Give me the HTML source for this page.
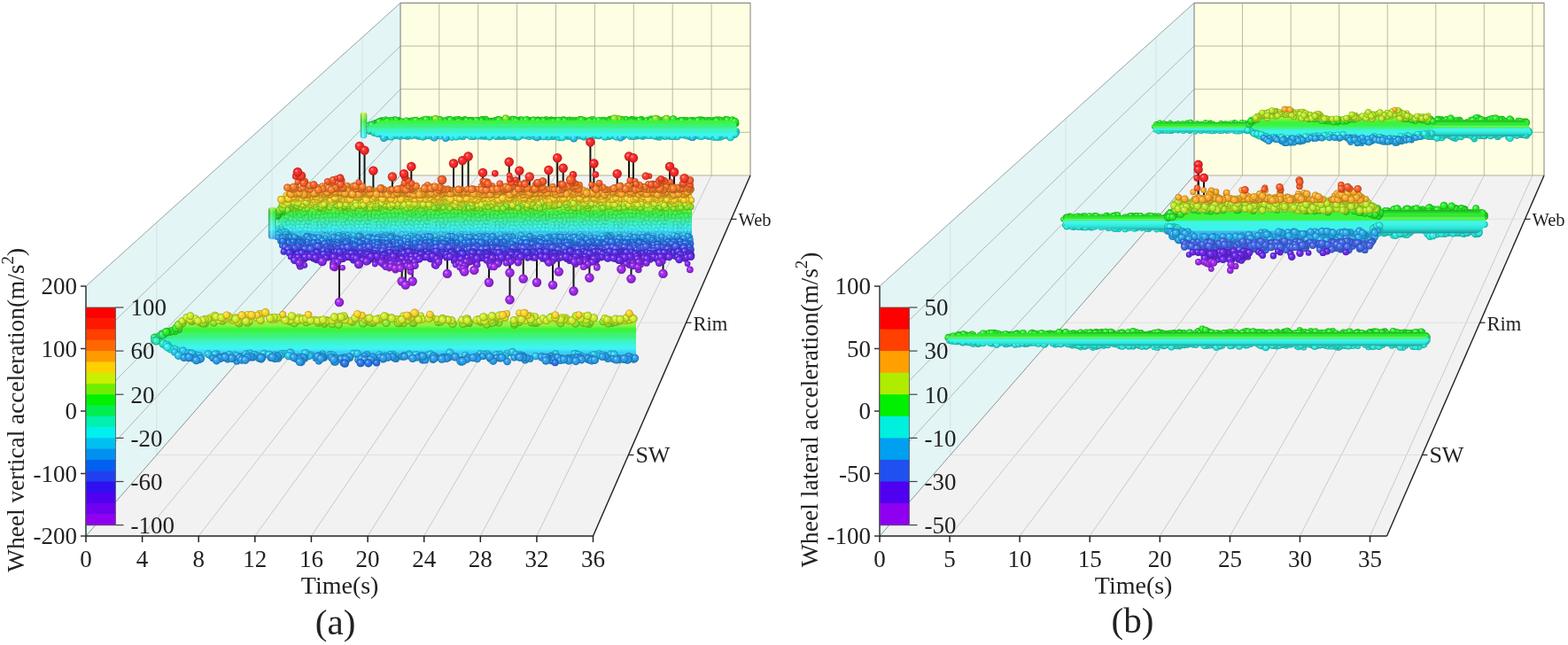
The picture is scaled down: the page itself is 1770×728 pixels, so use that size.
<!DOCTYPE html>
<html><head><meta charset="utf-8"><title>Wheel acceleration 3D plots</title>
<style>html,body{margin:0;padding:0;background:#fff;width:1770px;height:728px;overflow:hidden}svg{display:block}</style>
</head><body>
<svg width="1770" height="728" viewBox="0 0 1770 728" font-family="'Liberation Serif','Times New Roman',serif" fill="#222"><defs><radialGradient id="sh" cx="0.5" cy="0.5" r="0.5" fx="0.33" fy="0.33"><stop offset="0" stop-color="#fff" stop-opacity="0.65"/><stop offset="0.3" stop-color="#fff" stop-opacity="0.12"/><stop offset="0.6" stop-color="#000" stop-opacity="0"/><stop offset="1" stop-color="#000" stop-opacity="0.33"/></radialGradient><linearGradient id="cylT" x1="0" y1="0" x2="0" y2="1"><stop offset="0" stop-color="#000" stop-opacity="0.3"/><stop offset="0.4" stop-color="#000" stop-opacity="0"/><stop offset="0.75" stop-color="#fff" stop-opacity="0.25"/><stop offset="1" stop-color="#fff" stop-opacity="0.1"/></linearGradient><linearGradient id="cylB" x1="0" y1="0" x2="0" y2="1"><stop offset="0" stop-color="#fff" stop-opacity="0.12"/><stop offset="0.3" stop-color="#fff" stop-opacity="0.08"/><stop offset="0.65" stop-color="#000" stop-opacity="0.08"/><stop offset="1" stop-color="#000" stop-opacity="0.38"/></linearGradient><linearGradient id="cyl" x1="0" y1="0" x2="1" y2="0"><stop offset="0" stop-color="#000" stop-opacity="0.3"/><stop offset="0.35" stop-color="#fff" stop-opacity="0.3"/><stop offset="0.6" stop-color="#fff" stop-opacity="0"/><stop offset="1" stop-color="#000" stop-opacity="0.35"/></linearGradient><linearGradient id="g0" gradientUnits="userSpaceOnUse" x1="0" y1="93.4" x2="0" y2="196.0"><stop offset="0.0150" stop-color="#ff3d3d"/><stop offset="0.0350" stop-color="#ff3d3d"/><stop offset="0.0650" stop-color="#ff4f3d"/><stop offset="0.0850" stop-color="#ff4f3d"/><stop offset="0.1150" stop-color="#ff6e3d"/><stop offset="0.1350" stop-color="#ff6e3d"/><stop offset="0.1650" stop-color="#ff8c3d"/><stop offset="0.1850" stop-color="#ff8c3d"/><stop offset="0.2150" stop-color="#ffb23d"/><stop offset="0.2350" stop-color="#ffb23d"/><stop offset="0.2650" stop-color="#ffdb3d"/><stop offset="0.2850" stop-color="#ffdb3d"/><stop offset="0.3150" stop-color="#d5f43d"/><stop offset="0.3350" stop-color="#d5f43d"/><stop offset="0.3650" stop-color="#92f23d"/><stop offset="0.3850" stop-color="#92f23d"/><stop offset="0.4150" stop-color="#3df43d"/><stop offset="0.4350" stop-color="#3df43d"/><stop offset="0.4650" stop-color="#3df27a"/><stop offset="0.4850" stop-color="#3df27a"/><stop offset="0.5150" stop-color="#3df4c3"/><stop offset="0.5350" stop-color="#3df4c3"/><stop offset="0.5650" stop-color="#3df4f4"/><stop offset="0.5850" stop-color="#3df4f4"/><stop offset="0.6150" stop-color="#3dcff4"/><stop offset="0.6350" stop-color="#3dcff4"/><stop offset="0.6650" stop-color="#3dabf4"/><stop offset="0.6850" stop-color="#3dabf4"/><stop offset="0.7150" stop-color="#3d86f4"/><stop offset="0.7350" stop-color="#3d86f4"/><stop offset="0.7650" stop-color="#566ef4"/><stop offset="0.7850" stop-color="#566ef4"/><stop offset="0.8150" stop-color="#6249f4"/><stop offset="0.8350" stop-color="#6249f4"/><stop offset="0.8650" stop-color="#7a3df4"/><stop offset="0.8850" stop-color="#7a3df4"/><stop offset="0.9150" stop-color="#923df4"/><stop offset="0.9350" stop-color="#923df4"/><stop offset="0.9650" stop-color="#ab3df4"/><stop offset="0.9850" stop-color="#ab3df4"/></linearGradient><marker id="m0" markerUnits="userSpaceOnUse" overflow="visible" refX="0" refY="0" markerWidth="1" markerHeight="1"><circle r="3.9" fill="#29f16c"/><circle r="3.9" fill="url(#sh)"/></marker><marker id="m1" markerUnits="userSpaceOnUse" overflow="visible" refX="0" refY="0" markerWidth="1" markerHeight="1"><circle r="4.3" fill="#29f16c"/><circle r="4.3" fill="url(#sh)"/></marker><marker id="m2" markerUnits="userSpaceOnUse" overflow="visible" refX="0" refY="0" markerWidth="1" markerHeight="1"><circle r="3.9" fill="#29f2bd"/><circle r="3.9" fill="url(#sh)"/></marker><marker id="m3" markerUnits="userSpaceOnUse" overflow="visible" refX="0" refY="0" markerWidth="1" markerHeight="1"><circle r="4.3" fill="#29f2bd"/><circle r="4.3" fill="url(#sh)"/></marker><marker id="m4" markerUnits="userSpaceOnUse" overflow="visible" refX="0" refY="0" markerWidth="1" markerHeight="1"><circle r="3.9" fill="#29f229"/><circle r="3.9" fill="url(#sh)"/></marker><marker id="m5" markerUnits="userSpaceOnUse" overflow="visible" refX="0" refY="0" markerWidth="1" markerHeight="1"><circle r="4.3" fill="#29f229"/><circle r="4.3" fill="url(#sh)"/></marker><marker id="m6" markerUnits="userSpaceOnUse" overflow="visible" refX="0" refY="0" markerWidth="1" markerHeight="1"><circle r="3.9" fill="#29f2f2"/><circle r="3.9" fill="url(#sh)"/></marker><marker id="m7" markerUnits="userSpaceOnUse" overflow="visible" refX="0" refY="0" markerWidth="1" markerHeight="1"><circle r="4.3" fill="#29f2f2"/><circle r="4.3" fill="url(#sh)"/></marker><marker id="m8" markerUnits="userSpaceOnUse" overflow="visible" refX="0" refY="0" markerWidth="1" markerHeight="1"><circle r="3.9" fill="#87f129"/><circle r="3.9" fill="url(#sh)"/></marker><marker id="m9" markerUnits="userSpaceOnUse" overflow="visible" refX="0" refY="0" markerWidth="1" markerHeight="1"><circle r="4.3" fill="#87f129"/><circle r="4.3" fill="url(#sh)"/></marker><marker id="m10" markerUnits="userSpaceOnUse" overflow="visible" refX="0" refY="0" markerWidth="1" markerHeight="1"><circle r="3.9" fill="#29caf2"/><circle r="3.9" fill="url(#sh)"/></marker><marker id="m11" markerUnits="userSpaceOnUse" overflow="visible" refX="0" refY="0" markerWidth="1" markerHeight="1"><circle r="4.3" fill="#29caf2"/><circle r="4.3" fill="url(#sh)"/></marker><linearGradient id="g1" gradientUnits="userSpaceOnUse" x1="0" y1="191.4" x2="0" y2="306.6"><stop offset="0.0150" stop-color="#ff3d3d"/><stop offset="0.0350" stop-color="#ff3d3d"/><stop offset="0.0650" stop-color="#ff4f3d"/><stop offset="0.0850" stop-color="#ff4f3d"/><stop offset="0.1150" stop-color="#ff6e3d"/><stop offset="0.1350" stop-color="#ff6e3d"/><stop offset="0.1650" stop-color="#ff8c3d"/><stop offset="0.1850" stop-color="#ff8c3d"/><stop offset="0.2150" stop-color="#ffb23d"/><stop offset="0.2350" stop-color="#ffb23d"/><stop offset="0.2650" stop-color="#ffdb3d"/><stop offset="0.2850" stop-color="#ffdb3d"/><stop offset="0.3150" stop-color="#d5f43d"/><stop offset="0.3350" stop-color="#d5f43d"/><stop offset="0.3650" stop-color="#92f23d"/><stop offset="0.3850" stop-color="#92f23d"/><stop offset="0.4150" stop-color="#3df43d"/><stop offset="0.4350" stop-color="#3df43d"/><stop offset="0.4650" stop-color="#3df27a"/><stop offset="0.4850" stop-color="#3df27a"/><stop offset="0.5150" stop-color="#3df4c3"/><stop offset="0.5350" stop-color="#3df4c3"/><stop offset="0.5650" stop-color="#3df4f4"/><stop offset="0.5850" stop-color="#3df4f4"/><stop offset="0.6150" stop-color="#3dcff4"/><stop offset="0.6350" stop-color="#3dcff4"/><stop offset="0.6650" stop-color="#3dabf4"/><stop offset="0.6850" stop-color="#3dabf4"/><stop offset="0.7150" stop-color="#3d86f4"/><stop offset="0.7350" stop-color="#3d86f4"/><stop offset="0.7650" stop-color="#566ef4"/><stop offset="0.7850" stop-color="#566ef4"/><stop offset="0.8150" stop-color="#6249f4"/><stop offset="0.8350" stop-color="#6249f4"/><stop offset="0.8650" stop-color="#7a3df4"/><stop offset="0.8850" stop-color="#7a3df4"/><stop offset="0.9150" stop-color="#923df4"/><stop offset="0.9350" stop-color="#923df4"/><stop offset="0.9650" stop-color="#ab3df4"/><stop offset="0.9850" stop-color="#ab3df4"/></linearGradient><pattern id="tx0" width="67" height="50" patternUnits="userSpaceOnUse"><g fill="url(#sh)"><circle cx="1.9" cy="1.1" r="2.8"/><circle cx="1.9" cy="51.1" r="2.8"/><circle cx="68.9" cy="1.1" r="2.8"/><circle cx="68.9" cy="51.1" r="2.8"/><circle cx="1.1" cy="5.4" r="2.8"/><circle cx="68.1" cy="5.4" r="2.8"/><circle cx="3.2" cy="9.6" r="2.8"/><circle cx="1.8" cy="15.2" r="2.8"/><circle cx="68.8" cy="15.2" r="2.8"/><circle cx="2.4" cy="20.2" r="2.8"/><circle cx="69.4" cy="20.2" r="2.8"/><circle cx="2.2" cy="22.7" r="2.8"/><circle cx="69.2" cy="22.7" r="2.8"/><circle cx="2.6" cy="26.1" r="2.8"/><circle cx="69.6" cy="26.1" r="2.8"/><circle cx="3.7" cy="30.8" r="2.8"/><circle cx="1.8" cy="36.0" r="2.8"/><circle cx="68.8" cy="36.0" r="2.8"/><circle cx="1.0" cy="40.1" r="2.8"/><circle cx="68.0" cy="40.1" r="2.8"/><circle cx="3.5" cy="43.2" r="2.8"/><circle cx="3.8" cy="-2.0" r="2.8"/><circle cx="3.8" cy="48.0" r="2.8"/><circle cx="7.7" cy="2.0" r="2.8"/><circle cx="7.7" cy="52.0" r="2.8"/><circle cx="6.4" cy="5.5" r="2.8"/><circle cx="4.9" cy="9.4" r="2.8"/><circle cx="8.4" cy="14.7" r="2.8"/><circle cx="6.6" cy="20.1" r="2.8"/><circle cx="7.1" cy="24.5" r="2.8"/><circle cx="6.2" cy="26.1" r="2.8"/><circle cx="8.2" cy="30.1" r="2.8"/><circle cx="7.7" cy="35.7" r="2.8"/><circle cx="8.4" cy="41.1" r="2.8"/><circle cx="7.3" cy="42.2" r="2.8"/><circle cx="5.0" cy="-2.2" r="2.8"/><circle cx="5.0" cy="47.8" r="2.8"/><circle cx="12.3" cy="0.7" r="2.8"/><circle cx="12.3" cy="50.7" r="2.8"/><circle cx="10.9" cy="4.9" r="2.8"/><circle cx="10.5" cy="8.8" r="2.8"/><circle cx="10.6" cy="14.7" r="2.8"/><circle cx="10.1" cy="19.7" r="2.8"/><circle cx="9.6" cy="22.0" r="2.8"/><circle cx="10.3" cy="26.8" r="2.8"/><circle cx="12.1" cy="30.8" r="2.8"/><circle cx="11.9" cy="36.8" r="2.8"/><circle cx="9.8" cy="40.8" r="2.8"/><circle cx="11.5" cy="44.6" r="2.8"/><circle cx="11.6" cy="-2.4" r="2.8"/><circle cx="11.6" cy="47.6" r="2.8"/><circle cx="14.2" cy="0.9" r="2.8"/><circle cx="14.2" cy="50.9" r="2.8"/><circle cx="14.5" cy="5.2" r="2.8"/><circle cx="14.4" cy="9.4" r="2.8"/><circle cx="15.9" cy="15.5" r="2.8"/><circle cx="16.7" cy="19.9" r="2.8"/><circle cx="14.3" cy="24.0" r="2.8"/><circle cx="14.5" cy="25.7" r="2.8"/><circle cx="14.9" cy="31.5" r="2.8"/><circle cx="14.0" cy="34.5" r="2.8"/><circle cx="15.3" cy="40.7" r="2.8"/><circle cx="15.3" cy="43.5" r="2.8"/><circle cx="15.2" cy="46.6" r="2.8"/><circle cx="21.5" cy="3.5" r="2.8"/><circle cx="20.9" cy="5.9" r="2.8"/><circle cx="19.9" cy="9.8" r="2.8"/><circle cx="20.7" cy="15.1" r="2.8"/><circle cx="19.4" cy="20.0" r="2.8"/><circle cx="20.9" cy="22.0" r="2.8"/><circle cx="21.2" cy="27.7" r="2.8"/><circle cx="19.2" cy="30.6" r="2.8"/><circle cx="21.0" cy="34.0" r="2.8"/><circle cx="19.9" cy="41.1" r="2.8"/><circle cx="19.2" cy="43.8" r="2.8"/><circle cx="21.6" cy="-0.8" r="2.8"/><circle cx="21.6" cy="49.2" r="2.8"/><circle cx="25.6" cy="2.2" r="2.8"/><circle cx="25.6" cy="52.2" r="2.8"/><circle cx="26.1" cy="5.4" r="2.8"/><circle cx="25.9" cy="10.1" r="2.8"/><circle cx="25.1" cy="15.0" r="2.8"/><circle cx="23.8" cy="19.3" r="2.8"/><circle cx="24.9" cy="24.5" r="2.8"/><circle cx="25.2" cy="26.9" r="2.8"/><circle cx="24.1" cy="32.5" r="2.8"/><circle cx="24.0" cy="36.0" r="2.8"/><circle cx="25.3" cy="41.1" r="2.8"/><circle cx="23.5" cy="44.3" r="2.8"/><circle cx="23.4" cy="-1.6" r="2.8"/><circle cx="23.4" cy="48.4" r="2.8"/><circle cx="29.6" cy="2.9" r="2.8"/><circle cx="30.3" cy="5.4" r="2.8"/><circle cx="30.3" cy="9.9" r="2.8"/><circle cx="28.7" cy="13.3" r="2.8"/><circle cx="29.1" cy="17.1" r="2.8"/><circle cx="28.4" cy="23.5" r="2.8"/><circle cx="29.9" cy="26.0" r="2.8"/><circle cx="30.1" cy="31.1" r="2.8"/><circle cx="28.0" cy="36.2" r="2.8"/><circle cx="29.9" cy="39.5" r="2.8"/><circle cx="29.1" cy="44.1" r="2.8"/><circle cx="29.5" cy="-1.2" r="2.8"/><circle cx="29.5" cy="48.8" r="2.8"/><circle cx="34.5" cy="1.1" r="2.8"/><circle cx="34.5" cy="51.1" r="2.8"/><circle cx="31.8" cy="4.9" r="2.8"/><circle cx="32.8" cy="10.7" r="2.8"/><circle cx="35.1" cy="14.3" r="2.8"/><circle cx="33.0" cy="18.9" r="2.8"/><circle cx="35.1" cy="23.2" r="2.8"/><circle cx="32.8" cy="27.9" r="2.8"/><circle cx="35.3" cy="32.2" r="2.8"/><circle cx="33.1" cy="34.3" r="2.8"/><circle cx="33.4" cy="38.3" r="2.8"/><circle cx="32.2" cy="43.6" r="2.8"/><circle cx="34.8" cy="-1.4" r="2.8"/><circle cx="34.8" cy="48.6" r="2.8"/><circle cx="37.7" cy="3.6" r="2.8"/><circle cx="36.8" cy="5.4" r="2.8"/><circle cx="37.2" cy="10.7" r="2.8"/><circle cx="39.4" cy="14.2" r="2.8"/><circle cx="39.1" cy="20.2" r="2.8"/><circle cx="37.9" cy="24.2" r="2.8"/><circle cx="39.4" cy="27.0" r="2.8"/><circle cx="36.8" cy="29.8" r="2.8"/><circle cx="37.0" cy="35.3" r="2.8"/><circle cx="36.2" cy="39.0" r="2.8"/><circle cx="37.9" cy="43.2" r="2.8"/><circle cx="38.8" cy="-1.9" r="2.8"/><circle cx="38.8" cy="48.1" r="2.8"/><circle cx="42.6" cy="2.5" r="2.8"/><circle cx="42.6" cy="52.5" r="2.8"/><circle cx="42.7" cy="6.0" r="2.8"/><circle cx="41.2" cy="10.7" r="2.8"/><circle cx="40.8" cy="13.0" r="2.8"/><circle cx="41.9" cy="17.8" r="2.8"/><circle cx="43.3" cy="21.8" r="2.8"/><circle cx="42.2" cy="27.7" r="2.8"/><circle cx="42.1" cy="32.3" r="2.8"/><circle cx="41.1" cy="34.3" r="2.8"/><circle cx="41.6" cy="39.1" r="2.8"/><circle cx="42.6" cy="42.7" r="2.8"/><circle cx="42.6" cy="-1.4" r="2.8"/><circle cx="42.6" cy="48.6" r="2.8"/><circle cx="47.4" cy="3.1" r="2.8"/><circle cx="45.4" cy="6.8" r="2.8"/><circle cx="47.7" cy="11.5" r="2.8"/><circle cx="45.7" cy="13.2" r="2.8"/><circle cx="47.8" cy="19.2" r="2.8"/><circle cx="45.7" cy="24.2" r="2.8"/><circle cx="47.7" cy="27.5" r="2.8"/><circle cx="47.8" cy="31.6" r="2.8"/><circle cx="46.3" cy="33.9" r="2.8"/><circle cx="46.3" cy="40.0" r="2.8"/><circle cx="45.8" cy="42.7" r="2.8"/><circle cx="45.5" cy="-2.1" r="2.8"/><circle cx="45.5" cy="47.9" r="2.8"/><circle cx="53.0" cy="2.9" r="2.8"/><circle cx="49.6" cy="5.8" r="2.8"/><circle cx="52.0" cy="9.1" r="2.8"/><circle cx="52.4" cy="13.7" r="2.8"/><circle cx="51.2" cy="19.7" r="2.8"/><circle cx="52.7" cy="21.5" r="2.8"/><circle cx="52.5" cy="28.3" r="2.8"/><circle cx="52.6" cy="32.2" r="2.8"/><circle cx="50.9" cy="34.8" r="2.8"/><circle cx="49.7" cy="39.2" r="2.8"/><circle cx="50.7" cy="42.6" r="2.8"/><circle cx="53.0" cy="-0.8" r="2.8"/><circle cx="53.0" cy="49.2" r="2.8"/><circle cx="56.9" cy="1.4" r="2.8"/><circle cx="56.9" cy="51.4" r="2.8"/><circle cx="54.5" cy="6.0" r="2.8"/><circle cx="54.3" cy="9.9" r="2.8"/><circle cx="56.2" cy="14.0" r="2.8"/><circle cx="55.2" cy="18.2" r="2.8"/><circle cx="57.0" cy="21.4" r="2.8"/><circle cx="57.0" cy="27.5" r="2.8"/><circle cx="56.0" cy="31.9" r="2.8"/><circle cx="54.1" cy="36.6" r="2.8"/><circle cx="55.1" cy="39.2" r="2.8"/><circle cx="55.9" cy="45.1" r="2.8"/><circle cx="54.9" cy="-2.0" r="2.8"/><circle cx="54.9" cy="48.0" r="2.8"/><circle cx="62.1" cy="1.1" r="2.8"/><circle cx="62.1" cy="51.1" r="2.8"/><circle cx="60.8" cy="5.1" r="2.8"/><circle cx="60.5" cy="10.2" r="2.8"/><circle cx="60.5" cy="13.0" r="2.8"/><circle cx="59.2" cy="20.1" r="2.8"/><circle cx="59.2" cy="22.3" r="2.8"/><circle cx="62.0" cy="26.3" r="2.8"/><circle cx="60.6" cy="31.0" r="2.8"/><circle cx="58.5" cy="35.9" r="2.8"/><circle cx="60.3" cy="41.0" r="2.8"/><circle cx="62.0" cy="42.3" r="2.8"/><circle cx="60.6" cy="-2.6" r="2.8"/><circle cx="60.6" cy="47.4" r="2.8"/><circle cx="63.5" cy="3.5" r="2.8"/><circle cx="63.3" cy="6.3" r="2.8"/><circle cx="63.8" cy="10.7" r="2.8"/><circle cx="63.7" cy="15.8" r="2.8"/><circle cx="-2.5" cy="17.8" r="2.8"/><circle cx="64.5" cy="17.8" r="2.8"/><circle cx="-1.2" cy="21.7" r="2.8"/><circle cx="65.8" cy="21.7" r="2.8"/><circle cx="-1.4" cy="26.2" r="2.8"/><circle cx="65.6" cy="26.2" r="2.8"/><circle cx="-1.0" cy="30.4" r="2.8"/><circle cx="66.0" cy="30.4" r="2.8"/><circle cx="-1.7" cy="36.0" r="2.8"/><circle cx="65.3" cy="36.0" r="2.8"/><circle cx="-2.2" cy="40.8" r="2.8"/><circle cx="64.8" cy="40.8" r="2.8"/><circle cx="-2.1" cy="42.9" r="2.8"/><circle cx="64.9" cy="42.9" r="2.8"/><circle cx="-2.1" cy="-1.5" r="2.8"/><circle cx="-2.1" cy="48.5" r="2.8"/><circle cx="64.9" cy="-1.5" r="2.8"/><circle cx="64.9" cy="48.5" r="2.8"/></g></pattern><marker id="m12" markerUnits="userSpaceOnUse" overflow="visible" refX="0" refY="0" markerWidth="1" markerHeight="1"><circle r="2.7" fill="#29f16c"/><circle r="2.7" fill="url(#sh)"/></marker><marker id="m13" markerUnits="userSpaceOnUse" overflow="visible" refX="0" refY="0" markerWidth="1" markerHeight="1"><circle r="3.1" fill="#29f16c"/><circle r="3.1" fill="url(#sh)"/></marker><marker id="m14" markerUnits="userSpaceOnUse" overflow="visible" refX="0" refY="0" markerWidth="1" markerHeight="1"><circle r="3.4" fill="#29f16c"/><circle r="3.4" fill="url(#sh)"/></marker><marker id="m15" markerUnits="userSpaceOnUse" overflow="visible" refX="0" refY="0" markerWidth="1" markerHeight="1"><circle r="2.7" fill="#29f229"/><circle r="2.7" fill="url(#sh)"/></marker><marker id="m16" markerUnits="userSpaceOnUse" overflow="visible" refX="0" refY="0" markerWidth="1" markerHeight="1"><circle r="3.1" fill="#29f229"/><circle r="3.1" fill="url(#sh)"/></marker><marker id="m17" markerUnits="userSpaceOnUse" overflow="visible" refX="0" refY="0" markerWidth="1" markerHeight="1"><circle r="3.3" fill="#29f229"/><circle r="3.3" fill="url(#sh)"/></marker><marker id="m18" markerUnits="userSpaceOnUse" overflow="visible" refX="0" refY="0" markerWidth="1" markerHeight="1"><circle r="3.4" fill="#29f229"/><circle r="3.4" fill="url(#sh)"/></marker><marker id="m19" markerUnits="userSpaceOnUse" overflow="visible" refX="0" refY="0" markerWidth="1" markerHeight="1"><circle r="3.8" fill="#29f229"/><circle r="3.8" fill="url(#sh)"/></marker><marker id="m20" markerUnits="userSpaceOnUse" overflow="visible" refX="0" refY="0" markerWidth="1" markerHeight="1"><circle r="2.7" fill="#29f2f2"/><circle r="2.7" fill="url(#sh)"/></marker><marker id="m21" markerUnits="userSpaceOnUse" overflow="visible" refX="0" refY="0" markerWidth="1" markerHeight="1"><circle r="3.1" fill="#29f2f2"/><circle r="3.1" fill="url(#sh)"/></marker><marker id="m22" markerUnits="userSpaceOnUse" overflow="visible" refX="0" refY="0" markerWidth="1" markerHeight="1"><circle r="3.4" fill="#29f2f2"/><circle r="3.4" fill="url(#sh)"/></marker><marker id="m23" markerUnits="userSpaceOnUse" overflow="visible" refX="0" refY="0" markerWidth="1" markerHeight="1"><circle r="2.7" fill="#87f129"/><circle r="2.7" fill="url(#sh)"/></marker><marker id="m24" markerUnits="userSpaceOnUse" overflow="visible" refX="0" refY="0" markerWidth="1" markerHeight="1"><circle r="3.1" fill="#87f129"/><circle r="3.1" fill="url(#sh)"/></marker><marker id="m25" markerUnits="userSpaceOnUse" overflow="visible" refX="0" refY="0" markerWidth="1" markerHeight="1"><circle r="3.3" fill="#87f129"/><circle r="3.3" fill="url(#sh)"/></marker><marker id="m26" markerUnits="userSpaceOnUse" overflow="visible" refX="0" refY="0" markerWidth="1" markerHeight="1"><circle r="3.4" fill="#87f129"/><circle r="3.4" fill="url(#sh)"/></marker><marker id="m27" markerUnits="userSpaceOnUse" overflow="visible" refX="0" refY="0" markerWidth="1" markerHeight="1"><circle r="3.8" fill="#87f129"/><circle r="3.8" fill="url(#sh)"/></marker><marker id="m28" markerUnits="userSpaceOnUse" overflow="visible" refX="0" refY="0" markerWidth="1" markerHeight="1"><circle r="2.7" fill="#29caf2"/><circle r="2.7" fill="url(#sh)"/></marker><marker id="m29" markerUnits="userSpaceOnUse" overflow="visible" refX="0" refY="0" markerWidth="1" markerHeight="1"><circle r="3.1" fill="#29caf2"/><circle r="3.1" fill="url(#sh)"/></marker><marker id="m30" markerUnits="userSpaceOnUse" overflow="visible" refX="0" refY="0" markerWidth="1" markerHeight="1"><circle r="3.4" fill="#29caf2"/><circle r="3.4" fill="url(#sh)"/></marker><marker id="m31" markerUnits="userSpaceOnUse" overflow="visible" refX="0" refY="0" markerWidth="1" markerHeight="1"><circle r="2.7" fill="#d1f229"/><circle r="2.7" fill="url(#sh)"/></marker><marker id="m32" markerUnits="userSpaceOnUse" overflow="visible" refX="0" refY="0" markerWidth="1" markerHeight="1"><circle r="3.1" fill="#d1f229"/><circle r="3.1" fill="url(#sh)"/></marker><marker id="m33" markerUnits="userSpaceOnUse" overflow="visible" refX="0" refY="0" markerWidth="1" markerHeight="1"><circle r="3.3" fill="#d1f229"/><circle r="3.3" fill="url(#sh)"/></marker><marker id="m34" markerUnits="userSpaceOnUse" overflow="visible" refX="0" refY="0" markerWidth="1" markerHeight="1"><circle r="3.4" fill="#d1f229"/><circle r="3.4" fill="url(#sh)"/></marker><marker id="m35" markerUnits="userSpaceOnUse" overflow="visible" refX="0" refY="0" markerWidth="1" markerHeight="1"><circle r="3.8" fill="#d1f229"/><circle r="3.8" fill="url(#sh)"/></marker><marker id="m36" markerUnits="userSpaceOnUse" overflow="visible" refX="0" refY="0" markerWidth="1" markerHeight="1"><circle r="4.3" fill="#d1f229"/><circle r="4.3" fill="url(#sh)"/></marker><marker id="m37" markerUnits="userSpaceOnUse" overflow="visible" refX="0" refY="0" markerWidth="1" markerHeight="1"><circle r="2.7" fill="#29a2f2"/><circle r="2.7" fill="url(#sh)"/></marker><marker id="m38" markerUnits="userSpaceOnUse" overflow="visible" refX="0" refY="0" markerWidth="1" markerHeight="1"><circle r="3.1" fill="#29a2f2"/><circle r="3.1" fill="url(#sh)"/></marker><marker id="m39" markerUnits="userSpaceOnUse" overflow="visible" refX="0" refY="0" markerWidth="1" markerHeight="1"><circle r="3.3" fill="#29a2f2"/><circle r="3.3" fill="url(#sh)"/></marker><marker id="m40" markerUnits="userSpaceOnUse" overflow="visible" refX="0" refY="0" markerWidth="1" markerHeight="1"><circle r="3.4" fill="#29a2f2"/><circle r="3.4" fill="url(#sh)"/></marker><marker id="m41" markerUnits="userSpaceOnUse" overflow="visible" refX="0" refY="0" markerWidth="1" markerHeight="1"><circle r="3.8" fill="#29a2f2"/><circle r="3.8" fill="url(#sh)"/></marker><marker id="m42" markerUnits="userSpaceOnUse" overflow="visible" refX="0" refY="0" markerWidth="1" markerHeight="1"><circle r="4.3" fill="#29a2f2"/><circle r="4.3" fill="url(#sh)"/></marker><marker id="m43" markerUnits="userSpaceOnUse" overflow="visible" refX="0" refY="0" markerWidth="1" markerHeight="1"><circle r="2.7" fill="#ffd829"/><circle r="2.7" fill="url(#sh)"/></marker><marker id="m44" markerUnits="userSpaceOnUse" overflow="visible" refX="0" refY="0" markerWidth="1" markerHeight="1"><circle r="3.1" fill="#ffd829"/><circle r="3.1" fill="url(#sh)"/></marker><marker id="m45" markerUnits="userSpaceOnUse" overflow="visible" refX="0" refY="0" markerWidth="1" markerHeight="1"><circle r="3.3" fill="#ffd829"/><circle r="3.3" fill="url(#sh)"/></marker><marker id="m46" markerUnits="userSpaceOnUse" overflow="visible" refX="0" refY="0" markerWidth="1" markerHeight="1"><circle r="3.4" fill="#ffd829"/><circle r="3.4" fill="url(#sh)"/></marker><marker id="m47" markerUnits="userSpaceOnUse" overflow="visible" refX="0" refY="0" markerWidth="1" markerHeight="1"><circle r="3.8" fill="#ffd829"/><circle r="3.8" fill="url(#sh)"/></marker><marker id="m48" markerUnits="userSpaceOnUse" overflow="visible" refX="0" refY="0" markerWidth="1" markerHeight="1"><circle r="4.3" fill="#ffd829"/><circle r="4.3" fill="url(#sh)"/></marker><marker id="m49" markerUnits="userSpaceOnUse" overflow="visible" refX="0" refY="0" markerWidth="1" markerHeight="1"><circle r="2.7" fill="#2979f2"/><circle r="2.7" fill="url(#sh)"/></marker><marker id="m50" markerUnits="userSpaceOnUse" overflow="visible" refX="0" refY="0" markerWidth="1" markerHeight="1"><circle r="3.1" fill="#2979f2"/><circle r="3.1" fill="url(#sh)"/></marker><marker id="m51" markerUnits="userSpaceOnUse" overflow="visible" refX="0" refY="0" markerWidth="1" markerHeight="1"><circle r="3.3" fill="#2979f2"/><circle r="3.3" fill="url(#sh)"/></marker><marker id="m52" markerUnits="userSpaceOnUse" overflow="visible" refX="0" refY="0" markerWidth="1" markerHeight="1"><circle r="3.4" fill="#2979f2"/><circle r="3.4" fill="url(#sh)"/></marker><marker id="m53" markerUnits="userSpaceOnUse" overflow="visible" refX="0" refY="0" markerWidth="1" markerHeight="1"><circle r="3.8" fill="#2979f2"/><circle r="3.8" fill="url(#sh)"/></marker><marker id="m54" markerUnits="userSpaceOnUse" overflow="visible" refX="0" refY="0" markerWidth="1" markerHeight="1"><circle r="4.3" fill="#2979f2"/><circle r="4.3" fill="url(#sh)"/></marker><marker id="m55" markerUnits="userSpaceOnUse" overflow="visible" refX="0" refY="0" markerWidth="1" markerHeight="1"><circle r="2.7" fill="#ffaa29"/><circle r="2.7" fill="url(#sh)"/></marker><marker id="m56" markerUnits="userSpaceOnUse" overflow="visible" refX="0" refY="0" markerWidth="1" markerHeight="1"><circle r="3.1" fill="#ffaa29"/><circle r="3.1" fill="url(#sh)"/></marker><marker id="m57" markerUnits="userSpaceOnUse" overflow="visible" refX="0" refY="0" markerWidth="1" markerHeight="1"><circle r="3.3" fill="#ffaa29"/><circle r="3.3" fill="url(#sh)"/></marker><marker id="m58" markerUnits="userSpaceOnUse" overflow="visible" refX="0" refY="0" markerWidth="1" markerHeight="1"><circle r="3.4" fill="#ffaa29"/><circle r="3.4" fill="url(#sh)"/></marker><marker id="m59" markerUnits="userSpaceOnUse" overflow="visible" refX="0" refY="0" markerWidth="1" markerHeight="1"><circle r="3.8" fill="#ffaa29"/><circle r="3.8" fill="url(#sh)"/></marker><marker id="m60" markerUnits="userSpaceOnUse" overflow="visible" refX="0" refY="0" markerWidth="1" markerHeight="1"><circle r="4.3" fill="#ffaa29"/><circle r="4.3" fill="url(#sh)"/></marker><marker id="m61" markerUnits="userSpaceOnUse" overflow="visible" refX="0" refY="0" markerWidth="1" markerHeight="1"><circle r="2.7" fill="#445ff2"/><circle r="2.7" fill="url(#sh)"/></marker><marker id="m62" markerUnits="userSpaceOnUse" overflow="visible" refX="0" refY="0" markerWidth="1" markerHeight="1"><circle r="3.1" fill="#445ff2"/><circle r="3.1" fill="url(#sh)"/></marker><marker id="m63" markerUnits="userSpaceOnUse" overflow="visible" refX="0" refY="0" markerWidth="1" markerHeight="1"><circle r="3.3" fill="#445ff2"/><circle r="3.3" fill="url(#sh)"/></marker><marker id="m64" markerUnits="userSpaceOnUse" overflow="visible" refX="0" refY="0" markerWidth="1" markerHeight="1"><circle r="3.4" fill="#445ff2"/><circle r="3.4" fill="url(#sh)"/></marker><marker id="m65" markerUnits="userSpaceOnUse" overflow="visible" refX="0" refY="0" markerWidth="1" markerHeight="1"><circle r="3.8" fill="#445ff2"/><circle r="3.8" fill="url(#sh)"/></marker><marker id="m66" markerUnits="userSpaceOnUse" overflow="visible" refX="0" refY="0" markerWidth="1" markerHeight="1"><circle r="4.3" fill="#445ff2"/><circle r="4.3" fill="url(#sh)"/></marker><marker id="m67" markerUnits="userSpaceOnUse" overflow="visible" refX="0" refY="0" markerWidth="1" markerHeight="1"><circle r="2.7" fill="#ff8029"/><circle r="2.7" fill="url(#sh)"/></marker><marker id="m68" markerUnits="userSpaceOnUse" overflow="visible" refX="0" refY="0" markerWidth="1" markerHeight="1"><circle r="3.1" fill="#ff8029"/><circle r="3.1" fill="url(#sh)"/></marker><marker id="m69" markerUnits="userSpaceOnUse" overflow="visible" refX="0" refY="0" markerWidth="1" markerHeight="1"><circle r="3.3" fill="#ff8029"/><circle r="3.3" fill="url(#sh)"/></marker><marker id="m70" markerUnits="userSpaceOnUse" overflow="visible" refX="0" refY="0" markerWidth="1" markerHeight="1"><circle r="3.4" fill="#ff8029"/><circle r="3.4" fill="url(#sh)"/></marker><marker id="m71" markerUnits="userSpaceOnUse" overflow="visible" refX="0" refY="0" markerWidth="1" markerHeight="1"><circle r="3.8" fill="#ff8029"/><circle r="3.8" fill="url(#sh)"/></marker><marker id="m72" markerUnits="userSpaceOnUse" overflow="visible" refX="0" refY="0" markerWidth="1" markerHeight="1"><circle r="4.3" fill="#ff8029"/><circle r="4.3" fill="url(#sh)"/></marker><marker id="m73" markerUnits="userSpaceOnUse" overflow="visible" refX="0" refY="0" markerWidth="1" markerHeight="1"><circle r="2.7" fill="#5136f2"/><circle r="2.7" fill="url(#sh)"/></marker><marker id="m74" markerUnits="userSpaceOnUse" overflow="visible" refX="0" refY="0" markerWidth="1" markerHeight="1"><circle r="3.1" fill="#5136f2"/><circle r="3.1" fill="url(#sh)"/></marker><marker id="m75" markerUnits="userSpaceOnUse" overflow="visible" refX="0" refY="0" markerWidth="1" markerHeight="1"><circle r="3.3" fill="#5136f2"/><circle r="3.3" fill="url(#sh)"/></marker><marker id="m76" markerUnits="userSpaceOnUse" overflow="visible" refX="0" refY="0" markerWidth="1" markerHeight="1"><circle r="3.4" fill="#5136f2"/><circle r="3.4" fill="url(#sh)"/></marker><marker id="m77" markerUnits="userSpaceOnUse" overflow="visible" refX="0" refY="0" markerWidth="1" markerHeight="1"><circle r="3.8" fill="#5136f2"/><circle r="3.8" fill="url(#sh)"/></marker><marker id="m78" markerUnits="userSpaceOnUse" overflow="visible" refX="0" refY="0" markerWidth="1" markerHeight="1"><circle r="4.3" fill="#5136f2"/><circle r="4.3" fill="url(#sh)"/></marker><marker id="m79" markerUnits="userSpaceOnUse" overflow="visible" refX="0" refY="0" markerWidth="1" markerHeight="1"><circle r="3.3" fill="#ff5f29"/><circle r="3.3" fill="url(#sh)"/></marker><marker id="m80" markerUnits="userSpaceOnUse" overflow="visible" refX="0" refY="0" markerWidth="1" markerHeight="1"><circle r="3.8" fill="#ff5f29"/><circle r="3.8" fill="url(#sh)"/></marker><marker id="m81" markerUnits="userSpaceOnUse" overflow="visible" refX="0" refY="0" markerWidth="1" markerHeight="1"><circle r="4.3" fill="#ff5f29"/><circle r="4.3" fill="url(#sh)"/></marker><marker id="m82" markerUnits="userSpaceOnUse" overflow="visible" refX="0" refY="0" markerWidth="1" markerHeight="1"><circle r="2.7" fill="#6c29f2"/><circle r="2.7" fill="url(#sh)"/></marker><marker id="m83" markerUnits="userSpaceOnUse" overflow="visible" refX="0" refY="0" markerWidth="1" markerHeight="1"><circle r="3.1" fill="#6c29f2"/><circle r="3.1" fill="url(#sh)"/></marker><marker id="m84" markerUnits="userSpaceOnUse" overflow="visible" refX="0" refY="0" markerWidth="1" markerHeight="1"><circle r="3.3" fill="#6c29f2"/><circle r="3.3" fill="url(#sh)"/></marker><marker id="m85" markerUnits="userSpaceOnUse" overflow="visible" refX="0" refY="0" markerWidth="1" markerHeight="1"><circle r="3.4" fill="#6c29f2"/><circle r="3.4" fill="url(#sh)"/></marker><marker id="m86" markerUnits="userSpaceOnUse" overflow="visible" refX="0" refY="0" markerWidth="1" markerHeight="1"><circle r="3.8" fill="#6c29f2"/><circle r="3.8" fill="url(#sh)"/></marker><marker id="m87" markerUnits="userSpaceOnUse" overflow="visible" refX="0" refY="0" markerWidth="1" markerHeight="1"><circle r="4.3" fill="#6c29f2"/><circle r="4.3" fill="url(#sh)"/></marker><marker id="m88" markerUnits="userSpaceOnUse" overflow="visible" refX="0" refY="0" markerWidth="1" markerHeight="1"><circle r="3.3" fill="#ff3d29"/><circle r="3.3" fill="url(#sh)"/></marker><marker id="m89" markerUnits="userSpaceOnUse" overflow="visible" refX="0" refY="0" markerWidth="1" markerHeight="1"><circle r="3.8" fill="#ff3d29"/><circle r="3.8" fill="url(#sh)"/></marker><marker id="m90" markerUnits="userSpaceOnUse" overflow="visible" refX="0" refY="0" markerWidth="1" markerHeight="1"><circle r="4.3" fill="#ff3d29"/><circle r="4.3" fill="url(#sh)"/></marker><marker id="m91" markerUnits="userSpaceOnUse" overflow="visible" refX="0" refY="0" markerWidth="1" markerHeight="1"><circle r="3.3" fill="#8729f2"/><circle r="3.3" fill="url(#sh)"/></marker><marker id="m92" markerUnits="userSpaceOnUse" overflow="visible" refX="0" refY="0" markerWidth="1" markerHeight="1"><circle r="3.8" fill="#8729f2"/><circle r="3.8" fill="url(#sh)"/></marker><marker id="m93" markerUnits="userSpaceOnUse" overflow="visible" refX="0" refY="0" markerWidth="1" markerHeight="1"><circle r="4.3" fill="#8729f2"/><circle r="4.3" fill="url(#sh)"/></marker><marker id="m94" markerUnits="userSpaceOnUse" overflow="visible" refX="0" refY="0" markerWidth="1" markerHeight="1"><circle r="3.8" fill="#ff2929"/><circle r="3.8" fill="url(#sh)"/></marker><marker id="m95" markerUnits="userSpaceOnUse" overflow="visible" refX="0" refY="0" markerWidth="1" markerHeight="1"><circle r="4.3" fill="#ff2929"/><circle r="4.3" fill="url(#sh)"/></marker><marker id="m96" markerUnits="userSpaceOnUse" overflow="visible" refX="0" refY="0" markerWidth="1" markerHeight="1"><circle r="3.3" fill="#a229f2"/><circle r="3.3" fill="url(#sh)"/></marker><marker id="m97" markerUnits="userSpaceOnUse" overflow="visible" refX="0" refY="0" markerWidth="1" markerHeight="1"><circle r="3.8" fill="#a229f2"/><circle r="3.8" fill="url(#sh)"/></marker><marker id="m98" markerUnits="userSpaceOnUse" overflow="visible" refX="0" refY="0" markerWidth="1" markerHeight="1"><circle r="4.3" fill="#a229f2"/><circle r="4.3" fill="url(#sh)"/></marker><marker id="m99" markerUnits="userSpaceOnUse" overflow="visible" refX="0" refY="0" markerWidth="1" markerHeight="1"><circle r="5.2" fill="#ff5f29"/><circle r="5.2" fill="url(#sh)"/></marker><marker id="m100" markerUnits="userSpaceOnUse" overflow="visible" refX="0" refY="0" markerWidth="1" markerHeight="1"><circle r="5.2" fill="#ff3d29"/><circle r="5.2" fill="url(#sh)"/></marker><marker id="m101" markerUnits="userSpaceOnUse" overflow="visible" refX="0" refY="0" markerWidth="1" markerHeight="1"><circle r="5.2" fill="#8729f2"/><circle r="5.2" fill="url(#sh)"/></marker><marker id="m102" markerUnits="userSpaceOnUse" overflow="visible" refX="0" refY="0" markerWidth="1" markerHeight="1"><circle r="5.2" fill="#ff2929"/><circle r="5.2" fill="url(#sh)"/></marker><marker id="m103" markerUnits="userSpaceOnUse" overflow="visible" refX="0" refY="0" markerWidth="1" markerHeight="1"><circle r="5.2" fill="#a229f2"/><circle r="5.2" fill="url(#sh)"/></marker><linearGradient id="g2" gradientUnits="userSpaceOnUse" x1="0" y1="316.8" x2="0" y2="447.9"><stop offset="0.0150" stop-color="#ff3d3d"/><stop offset="0.0350" stop-color="#ff3d3d"/><stop offset="0.0650" stop-color="#ff4f3d"/><stop offset="0.0850" stop-color="#ff4f3d"/><stop offset="0.1150" stop-color="#ff6e3d"/><stop offset="0.1350" stop-color="#ff6e3d"/><stop offset="0.1650" stop-color="#ff8c3d"/><stop offset="0.1850" stop-color="#ff8c3d"/><stop offset="0.2150" stop-color="#ffb23d"/><stop offset="0.2350" stop-color="#ffb23d"/><stop offset="0.2650" stop-color="#ffdb3d"/><stop offset="0.2850" stop-color="#ffdb3d"/><stop offset="0.3150" stop-color="#d5f43d"/><stop offset="0.3350" stop-color="#d5f43d"/><stop offset="0.3650" stop-color="#92f23d"/><stop offset="0.3850" stop-color="#92f23d"/><stop offset="0.4150" stop-color="#3df43d"/><stop offset="0.4350" stop-color="#3df43d"/><stop offset="0.4650" stop-color="#3df27a"/><stop offset="0.4850" stop-color="#3df27a"/><stop offset="0.5150" stop-color="#3df4c3"/><stop offset="0.5350" stop-color="#3df4c3"/><stop offset="0.5650" stop-color="#3df4f4"/><stop offset="0.5850" stop-color="#3df4f4"/><stop offset="0.6150" stop-color="#3dcff4"/><stop offset="0.6350" stop-color="#3dcff4"/><stop offset="0.6650" stop-color="#3dabf4"/><stop offset="0.6850" stop-color="#3dabf4"/><stop offset="0.7150" stop-color="#3d86f4"/><stop offset="0.7350" stop-color="#3d86f4"/><stop offset="0.7650" stop-color="#566ef4"/><stop offset="0.7850" stop-color="#566ef4"/><stop offset="0.8150" stop-color="#6249f4"/><stop offset="0.8350" stop-color="#6249f4"/><stop offset="0.8650" stop-color="#7a3df4"/><stop offset="0.8850" stop-color="#7a3df4"/><stop offset="0.9150" stop-color="#923df4"/><stop offset="0.9350" stop-color="#923df4"/><stop offset="0.9650" stop-color="#ab3df4"/><stop offset="0.9850" stop-color="#ab3df4"/></linearGradient><marker id="m104" markerUnits="userSpaceOnUse" overflow="visible" refX="0" refY="0" markerWidth="1" markerHeight="1"><circle r="4.7" fill="#29f16c"/><circle r="4.7" fill="url(#sh)"/></marker><marker id="m105" markerUnits="userSpaceOnUse" overflow="visible" refX="0" refY="0" markerWidth="1" markerHeight="1"><circle r="4.7" fill="#29f2bd"/><circle r="4.7" fill="url(#sh)"/></marker><marker id="m106" markerUnits="userSpaceOnUse" overflow="visible" refX="0" refY="0" markerWidth="1" markerHeight="1"><circle r="4.7" fill="#29f229"/><circle r="4.7" fill="url(#sh)"/></marker><marker id="m107" markerUnits="userSpaceOnUse" overflow="visible" refX="0" refY="0" markerWidth="1" markerHeight="1"><circle r="4.7" fill="#29f2f2"/><circle r="4.7" fill="url(#sh)"/></marker><marker id="m108" markerUnits="userSpaceOnUse" overflow="visible" refX="0" refY="0" markerWidth="1" markerHeight="1"><circle r="4.7" fill="#87f129"/><circle r="4.7" fill="url(#sh)"/></marker><marker id="m109" markerUnits="userSpaceOnUse" overflow="visible" refX="0" refY="0" markerWidth="1" markerHeight="1"><circle r="4.7" fill="#29caf2"/><circle r="4.7" fill="url(#sh)"/></marker><marker id="m110" markerUnits="userSpaceOnUse" overflow="visible" refX="0" refY="0" markerWidth="1" markerHeight="1"><circle r="3.9" fill="#d1f229"/><circle r="3.9" fill="url(#sh)"/></marker><marker id="m111" markerUnits="userSpaceOnUse" overflow="visible" refX="0" refY="0" markerWidth="1" markerHeight="1"><circle r="4.7" fill="#d1f229"/><circle r="4.7" fill="url(#sh)"/></marker><marker id="m112" markerUnits="userSpaceOnUse" overflow="visible" refX="0" refY="0" markerWidth="1" markerHeight="1"><circle r="3.9" fill="#29a2f2"/><circle r="3.9" fill="url(#sh)"/></marker><marker id="m113" markerUnits="userSpaceOnUse" overflow="visible" refX="0" refY="0" markerWidth="1" markerHeight="1"><circle r="4.7" fill="#29a2f2"/><circle r="4.7" fill="url(#sh)"/></marker><marker id="m114" markerUnits="userSpaceOnUse" overflow="visible" refX="0" refY="0" markerWidth="1" markerHeight="1"><circle r="3.9" fill="#ffd829"/><circle r="3.9" fill="url(#sh)"/></marker><marker id="m115" markerUnits="userSpaceOnUse" overflow="visible" refX="0" refY="0" markerWidth="1" markerHeight="1"><circle r="4.7" fill="#ffd829"/><circle r="4.7" fill="url(#sh)"/></marker><marker id="m116" markerUnits="userSpaceOnUse" overflow="visible" refX="0" refY="0" markerWidth="1" markerHeight="1"><circle r="3.9" fill="#2979f2"/><circle r="3.9" fill="url(#sh)"/></marker><marker id="m117" markerUnits="userSpaceOnUse" overflow="visible" refX="0" refY="0" markerWidth="1" markerHeight="1"><circle r="4.7" fill="#2979f2"/><circle r="4.7" fill="url(#sh)"/></marker><linearGradient id="g3" gradientUnits="userSpaceOnUse" x1="0" y1="93.4" x2="0" y2="196.0"><stop offset="0.0300" stop-color="#ff3d3d"/><stop offset="0.0700" stop-color="#ff3d3d"/><stop offset="0.1300" stop-color="#ff6e3d"/><stop offset="0.1700" stop-color="#ff6e3d"/><stop offset="0.2300" stop-color="#ffb73d"/><stop offset="0.2700" stop-color="#ffb73d"/><stop offset="0.3300" stop-color="#c3f13d"/><stop offset="0.3700" stop-color="#c3f13d"/><stop offset="0.4300" stop-color="#3df43d"/><stop offset="0.4700" stop-color="#3df43d"/><stop offset="0.5300" stop-color="#3df4e7"/><stop offset="0.5700" stop-color="#3df4e7"/><stop offset="0.6300" stop-color="#3db7f4"/><stop offset="0.6700" stop-color="#3db7f4"/><stop offset="0.7300" stop-color="#567af4"/><stop offset="0.7700" stop-color="#567af4"/><stop offset="0.8300" stop-color="#7a3df4"/><stop offset="0.8700" stop-color="#7a3df4"/><stop offset="0.9300" stop-color="#ab3df4"/><stop offset="0.9700" stop-color="#ab3df4"/></linearGradient><marker id="m118" markerUnits="userSpaceOnUse" overflow="visible" refX="0" refY="0" markerWidth="1" markerHeight="1"><circle r="2.5" fill="#29f229"/><circle r="2.5" fill="url(#sh)"/></marker><marker id="m119" markerUnits="userSpaceOnUse" overflow="visible" refX="0" refY="0" markerWidth="1" markerHeight="1"><circle r="2.8" fill="#29f229"/><circle r="2.8" fill="url(#sh)"/></marker><marker id="m120" markerUnits="userSpaceOnUse" overflow="visible" refX="0" refY="0" markerWidth="1" markerHeight="1"><circle r="2.5" fill="#29f2e5"/><circle r="2.5" fill="url(#sh)"/></marker><marker id="m121" markerUnits="userSpaceOnUse" overflow="visible" refX="0" refY="0" markerWidth="1" markerHeight="1"><circle r="2.8" fill="#29f2e5"/><circle r="2.8" fill="url(#sh)"/></marker><linearGradient id="g4" gradientUnits="userSpaceOnUse" x1="0" y1="93.4" x2="0" y2="196.0"><stop offset="0.0300" stop-color="#ff3d3d"/><stop offset="0.0700" stop-color="#ff3d3d"/><stop offset="0.1300" stop-color="#ff6e3d"/><stop offset="0.1700" stop-color="#ff6e3d"/><stop offset="0.2300" stop-color="#ffb73d"/><stop offset="0.2700" stop-color="#ffb73d"/><stop offset="0.3300" stop-color="#c3f13d"/><stop offset="0.3700" stop-color="#c3f13d"/><stop offset="0.4300" stop-color="#3df43d"/><stop offset="0.4700" stop-color="#3df43d"/><stop offset="0.5300" stop-color="#3df4e7"/><stop offset="0.5700" stop-color="#3df4e7"/><stop offset="0.6300" stop-color="#3db7f4"/><stop offset="0.6700" stop-color="#3db7f4"/><stop offset="0.7300" stop-color="#567af4"/><stop offset="0.7700" stop-color="#567af4"/><stop offset="0.8300" stop-color="#7a3df4"/><stop offset="0.8700" stop-color="#7a3df4"/><stop offset="0.9300" stop-color="#ab3df4"/><stop offset="0.9700" stop-color="#ab3df4"/></linearGradient><marker id="m122" markerUnits="userSpaceOnUse" overflow="visible" refX="0" refY="0" markerWidth="1" markerHeight="1"><circle r="3.6" fill="#29f229"/><circle r="3.6" fill="url(#sh)"/></marker><marker id="m123" markerUnits="userSpaceOnUse" overflow="visible" refX="0" refY="0" markerWidth="1" markerHeight="1"><circle r="4.2" fill="#29f229"/><circle r="4.2" fill="url(#sh)"/></marker><marker id="m124" markerUnits="userSpaceOnUse" overflow="visible" refX="0" refY="0" markerWidth="1" markerHeight="1"><circle r="3.6" fill="#29f2e5"/><circle r="3.6" fill="url(#sh)"/></marker><marker id="m125" markerUnits="userSpaceOnUse" overflow="visible" refX="0" refY="0" markerWidth="1" markerHeight="1"><circle r="4.2" fill="#29f2e5"/><circle r="4.2" fill="url(#sh)"/></marker><linearGradient id="g5" gradientUnits="userSpaceOnUse" x1="0" y1="93.4" x2="0" y2="196.0"><stop offset="0.0300" stop-color="#ff3d3d"/><stop offset="0.0700" stop-color="#ff3d3d"/><stop offset="0.1300" stop-color="#ff6e3d"/><stop offset="0.1700" stop-color="#ff6e3d"/><stop offset="0.2300" stop-color="#ffb73d"/><stop offset="0.2700" stop-color="#ffb73d"/><stop offset="0.3300" stop-color="#c3f13d"/><stop offset="0.3700" stop-color="#c3f13d"/><stop offset="0.4300" stop-color="#3df43d"/><stop offset="0.4700" stop-color="#3df43d"/><stop offset="0.5300" stop-color="#3df4e7"/><stop offset="0.5700" stop-color="#3df4e7"/><stop offset="0.6300" stop-color="#3db7f4"/><stop offset="0.6700" stop-color="#3db7f4"/><stop offset="0.7300" stop-color="#567af4"/><stop offset="0.7700" stop-color="#567af4"/><stop offset="0.8300" stop-color="#7a3df4"/><stop offset="0.8700" stop-color="#7a3df4"/><stop offset="0.9300" stop-color="#ab3df4"/><stop offset="0.9700" stop-color="#ab3df4"/></linearGradient><marker id="m126" markerUnits="userSpaceOnUse" overflow="visible" refX="0" refY="0" markerWidth="1" markerHeight="1"><circle r="3.2" fill="#29f229"/><circle r="3.2" fill="url(#sh)"/></marker><marker id="m127" markerUnits="userSpaceOnUse" overflow="visible" refX="0" refY="0" markerWidth="1" markerHeight="1"><circle r="3.5" fill="#29f229"/><circle r="3.5" fill="url(#sh)"/></marker><marker id="m128" markerUnits="userSpaceOnUse" overflow="visible" refX="0" refY="0" markerWidth="1" markerHeight="1"><circle r="3.2" fill="#29f2e5"/><circle r="3.2" fill="url(#sh)"/></marker><marker id="m129" markerUnits="userSpaceOnUse" overflow="visible" refX="0" refY="0" markerWidth="1" markerHeight="1"><circle r="3.5" fill="#29f2e5"/><circle r="3.5" fill="url(#sh)"/></marker><marker id="m130" markerUnits="userSpaceOnUse" overflow="visible" refX="0" refY="0" markerWidth="1" markerHeight="1"><circle r="2.8" fill="#bdef29"/><circle r="2.8" fill="url(#sh)"/></marker><marker id="m131" markerUnits="userSpaceOnUse" overflow="visible" refX="0" refY="0" markerWidth="1" markerHeight="1"><circle r="3.2" fill="#bdef29"/><circle r="3.2" fill="url(#sh)"/></marker><marker id="m132" markerUnits="userSpaceOnUse" overflow="visible" refX="0" refY="0" markerWidth="1" markerHeight="1"><circle r="3.5" fill="#bdef29"/><circle r="3.5" fill="url(#sh)"/></marker><marker id="m133" markerUnits="userSpaceOnUse" overflow="visible" refX="0" refY="0" markerWidth="1" markerHeight="1"><circle r="2.8" fill="#29aff2"/><circle r="2.8" fill="url(#sh)"/></marker><marker id="m134" markerUnits="userSpaceOnUse" overflow="visible" refX="0" refY="0" markerWidth="1" markerHeight="1"><circle r="3.2" fill="#29aff2"/><circle r="3.2" fill="url(#sh)"/></marker><marker id="m135" markerUnits="userSpaceOnUse" overflow="visible" refX="0" refY="0" markerWidth="1" markerHeight="1"><circle r="3.5" fill="#29aff2"/><circle r="3.5" fill="url(#sh)"/></marker><marker id="m136" markerUnits="userSpaceOnUse" overflow="visible" refX="0" refY="0" markerWidth="1" markerHeight="1"><circle r="2.8" fill="#ffaf29"/><circle r="2.8" fill="url(#sh)"/></marker><marker id="m137" markerUnits="userSpaceOnUse" overflow="visible" refX="0" refY="0" markerWidth="1" markerHeight="1"><circle r="3.5" fill="#ffaf29"/><circle r="3.5" fill="url(#sh)"/></marker><linearGradient id="g6" gradientUnits="userSpaceOnUse" x1="0" y1="191.4" x2="0" y2="306.6"><stop offset="0.0300" stop-color="#ff3d3d"/><stop offset="0.0700" stop-color="#ff3d3d"/><stop offset="0.1300" stop-color="#ff6e3d"/><stop offset="0.1700" stop-color="#ff6e3d"/><stop offset="0.2300" stop-color="#ffb73d"/><stop offset="0.2700" stop-color="#ffb73d"/><stop offset="0.3300" stop-color="#c3f13d"/><stop offset="0.3700" stop-color="#c3f13d"/><stop offset="0.4300" stop-color="#3df43d"/><stop offset="0.4700" stop-color="#3df43d"/><stop offset="0.5300" stop-color="#3df4e7"/><stop offset="0.5700" stop-color="#3df4e7"/><stop offset="0.6300" stop-color="#3db7f4"/><stop offset="0.6700" stop-color="#3db7f4"/><stop offset="0.7300" stop-color="#567af4"/><stop offset="0.7700" stop-color="#567af4"/><stop offset="0.8300" stop-color="#7a3df4"/><stop offset="0.8700" stop-color="#7a3df4"/><stop offset="0.9300" stop-color="#ab3df4"/><stop offset="0.9700" stop-color="#ab3df4"/></linearGradient><marker id="m138" markerUnits="userSpaceOnUse" overflow="visible" refX="0" refY="0" markerWidth="1" markerHeight="1"><circle r="3" fill="#29f229"/><circle r="3" fill="url(#sh)"/></marker><marker id="m139" markerUnits="userSpaceOnUse" overflow="visible" refX="0" refY="0" markerWidth="1" markerHeight="1"><circle r="3" fill="#29f2e5"/><circle r="3" fill="url(#sh)"/></marker><marker id="m140" markerUnits="userSpaceOnUse" overflow="visible" refX="0" refY="0" markerWidth="1" markerHeight="1"><circle r="3.3" fill="#29f2e5"/><circle r="3.3" fill="url(#sh)"/></marker><linearGradient id="g7" gradientUnits="userSpaceOnUse" x1="0" y1="191.4" x2="0" y2="306.6"><stop offset="0.0300" stop-color="#ff3d3d"/><stop offset="0.0700" stop-color="#ff3d3d"/><stop offset="0.1300" stop-color="#ff6e3d"/><stop offset="0.1700" stop-color="#ff6e3d"/><stop offset="0.2300" stop-color="#ffb73d"/><stop offset="0.2700" stop-color="#ffb73d"/><stop offset="0.3300" stop-color="#c3f13d"/><stop offset="0.3700" stop-color="#c3f13d"/><stop offset="0.4300" stop-color="#3df43d"/><stop offset="0.4700" stop-color="#3df43d"/><stop offset="0.5300" stop-color="#3df4e7"/><stop offset="0.5700" stop-color="#3df4e7"/><stop offset="0.6300" stop-color="#3db7f4"/><stop offset="0.6700" stop-color="#3db7f4"/><stop offset="0.7300" stop-color="#567af4"/><stop offset="0.7700" stop-color="#567af4"/><stop offset="0.8300" stop-color="#7a3df4"/><stop offset="0.8700" stop-color="#7a3df4"/><stop offset="0.9300" stop-color="#ab3df4"/><stop offset="0.9700" stop-color="#ab3df4"/></linearGradient><marker id="m141" markerUnits="userSpaceOnUse" overflow="visible" refX="0" refY="0" markerWidth="1" markerHeight="1"><circle r="4.4" fill="#29f229"/><circle r="4.4" fill="url(#sh)"/></marker><marker id="m142" markerUnits="userSpaceOnUse" overflow="visible" refX="0" refY="0" markerWidth="1" markerHeight="1"><circle r="3.8" fill="#29f2e5"/><circle r="3.8" fill="url(#sh)"/></marker><marker id="m143" markerUnits="userSpaceOnUse" overflow="visible" refX="0" refY="0" markerWidth="1" markerHeight="1"><circle r="4.4" fill="#29f2e5"/><circle r="4.4" fill="url(#sh)"/></marker><linearGradient id="g8" gradientUnits="userSpaceOnUse" x1="0" y1="191.4" x2="0" y2="306.6"><stop offset="0.0075" stop-color="#ff3d3d"/><stop offset="0.0925" stop-color="#ff3d3d"/><stop offset="0.1075" stop-color="#ff6e3d"/><stop offset="0.1925" stop-color="#ff6e3d"/><stop offset="0.2075" stop-color="#ffb73d"/><stop offset="0.2925" stop-color="#ffb73d"/><stop offset="0.3075" stop-color="#c3f13d"/><stop offset="0.3925" stop-color="#c3f13d"/><stop offset="0.4075" stop-color="#3df43d"/><stop offset="0.4925" stop-color="#3df43d"/><stop offset="0.5075" stop-color="#3df4e7"/><stop offset="0.5925" stop-color="#3df4e7"/><stop offset="0.6075" stop-color="#3db7f4"/><stop offset="0.6925" stop-color="#3db7f4"/><stop offset="0.7075" stop-color="#567af4"/><stop offset="0.7925" stop-color="#567af4"/><stop offset="0.8075" stop-color="#7a3df4"/><stop offset="0.8925" stop-color="#7a3df4"/><stop offset="0.9075" stop-color="#ab3df4"/><stop offset="0.9925" stop-color="#ab3df4"/></linearGradient><marker id="m144" markerUnits="userSpaceOnUse" overflow="visible" refX="0" refY="0" markerWidth="1" markerHeight="1"><circle r="3.7" fill="#29f229"/><circle r="3.7" fill="url(#sh)"/></marker><marker id="m145" markerUnits="userSpaceOnUse" overflow="visible" refX="0" refY="0" markerWidth="1" markerHeight="1"><circle r="3.7" fill="#29f2e5"/><circle r="3.7" fill="url(#sh)"/></marker><marker id="m146" markerUnits="userSpaceOnUse" overflow="visible" refX="0" refY="0" markerWidth="1" markerHeight="1"><circle r="3.3" fill="#bdef29"/><circle r="3.3" fill="url(#sh)"/></marker><marker id="m147" markerUnits="userSpaceOnUse" overflow="visible" refX="0" refY="0" markerWidth="1" markerHeight="1"><circle r="3.7" fill="#bdef29"/><circle r="3.7" fill="url(#sh)"/></marker><marker id="m148" markerUnits="userSpaceOnUse" overflow="visible" refX="0" refY="0" markerWidth="1" markerHeight="1"><circle r="4.2" fill="#bdef29"/><circle r="4.2" fill="url(#sh)"/></marker><marker id="m149" markerUnits="userSpaceOnUse" overflow="visible" refX="0" refY="0" markerWidth="1" markerHeight="1"><circle r="3.3" fill="#29aff2"/><circle r="3.3" fill="url(#sh)"/></marker><marker id="m150" markerUnits="userSpaceOnUse" overflow="visible" refX="0" refY="0" markerWidth="1" markerHeight="1"><circle r="3.7" fill="#29aff2"/><circle r="3.7" fill="url(#sh)"/></marker><marker id="m151" markerUnits="userSpaceOnUse" overflow="visible" refX="0" refY="0" markerWidth="1" markerHeight="1"><circle r="4.2" fill="#29aff2"/><circle r="4.2" fill="url(#sh)"/></marker><marker id="m152" markerUnits="userSpaceOnUse" overflow="visible" refX="0" refY="0" markerWidth="1" markerHeight="1"><circle r="3.3" fill="#ffaf29"/><circle r="3.3" fill="url(#sh)"/></marker><marker id="m153" markerUnits="userSpaceOnUse" overflow="visible" refX="0" refY="0" markerWidth="1" markerHeight="1"><circle r="3.7" fill="#ffaf29"/><circle r="3.7" fill="url(#sh)"/></marker><marker id="m154" markerUnits="userSpaceOnUse" overflow="visible" refX="0" refY="0" markerWidth="1" markerHeight="1"><circle r="4.2" fill="#ffaf29"/><circle r="4.2" fill="url(#sh)"/></marker><marker id="m155" markerUnits="userSpaceOnUse" overflow="visible" refX="0" refY="0" markerWidth="1" markerHeight="1"><circle r="3.3" fill="#446cf2"/><circle r="3.3" fill="url(#sh)"/></marker><marker id="m156" markerUnits="userSpaceOnUse" overflow="visible" refX="0" refY="0" markerWidth="1" markerHeight="1"><circle r="3.7" fill="#446cf2"/><circle r="3.7" fill="url(#sh)"/></marker><marker id="m157" markerUnits="userSpaceOnUse" overflow="visible" refX="0" refY="0" markerWidth="1" markerHeight="1"><circle r="4.2" fill="#446cf2"/><circle r="4.2" fill="url(#sh)"/></marker><marker id="m158" markerUnits="userSpaceOnUse" overflow="visible" refX="0" refY="0" markerWidth="1" markerHeight="1"><circle r="3.7" fill="#ff5f29"/><circle r="3.7" fill="url(#sh)"/></marker><marker id="m159" markerUnits="userSpaceOnUse" overflow="visible" refX="0" refY="0" markerWidth="1" markerHeight="1"><circle r="4.2" fill="#ff5f29"/><circle r="4.2" fill="url(#sh)"/></marker><marker id="m160" markerUnits="userSpaceOnUse" overflow="visible" refX="0" refY="0" markerWidth="1" markerHeight="1"><circle r="3.7" fill="#6c29f2"/><circle r="3.7" fill="url(#sh)"/></marker><marker id="m161" markerUnits="userSpaceOnUse" overflow="visible" refX="0" refY="0" markerWidth="1" markerHeight="1"><circle r="4.2" fill="#6c29f2"/><circle r="4.2" fill="url(#sh)"/></marker><marker id="m162" markerUnits="userSpaceOnUse" overflow="visible" refX="0" refY="0" markerWidth="1" markerHeight="1"><circle r="3.7" fill="#ff2929"/><circle r="3.7" fill="url(#sh)"/></marker><marker id="m163" markerUnits="userSpaceOnUse" overflow="visible" refX="0" refY="0" markerWidth="1" markerHeight="1"><circle r="3.7" fill="#a229f2"/><circle r="3.7" fill="url(#sh)"/></marker><marker id="m164" markerUnits="userSpaceOnUse" overflow="visible" refX="0" refY="0" markerWidth="1" markerHeight="1"><circle r="4.2" fill="#a229f2"/><circle r="4.2" fill="url(#sh)"/></marker><marker id="m165" markerUnits="userSpaceOnUse" overflow="visible" refX="0" refY="0" markerWidth="1" markerHeight="1"><circle r="5" fill="#ff2929"/><circle r="5" fill="url(#sh)"/></marker><linearGradient id="g9" gradientUnits="userSpaceOnUse" x1="0" y1="316.8" x2="0" y2="447.9"><stop offset="0.0300" stop-color="#ff3d3d"/><stop offset="0.0700" stop-color="#ff3d3d"/><stop offset="0.1300" stop-color="#ff6e3d"/><stop offset="0.1700" stop-color="#ff6e3d"/><stop offset="0.2300" stop-color="#ffb73d"/><stop offset="0.2700" stop-color="#ffb73d"/><stop offset="0.3300" stop-color="#c3f13d"/><stop offset="0.3700" stop-color="#c3f13d"/><stop offset="0.4300" stop-color="#3df43d"/><stop offset="0.4700" stop-color="#3df43d"/><stop offset="0.5300" stop-color="#3df4e7"/><stop offset="0.5700" stop-color="#3df4e7"/><stop offset="0.6300" stop-color="#3db7f4"/><stop offset="0.6700" stop-color="#3db7f4"/><stop offset="0.7300" stop-color="#567af4"/><stop offset="0.7700" stop-color="#567af4"/><stop offset="0.8300" stop-color="#7a3df4"/><stop offset="0.8700" stop-color="#7a3df4"/><stop offset="0.9300" stop-color="#ab3df4"/><stop offset="0.9700" stop-color="#ab3df4"/></linearGradient></defs><polygon points="97,605 669.5,605 847,198 452,198" fill="#f2f2f2"/>
<polygon points="97,605 97,323 452,3.4 452,198" fill="#e4f5f5"/>
<polygon points="452,198 452,3.4 847,3.4 847,198" fill="#fefee2"/>
<line x1="160.6" y1="605" x2="495.8" y2="198" stroke="#c4c4c4" stroke-width="0.9"/>
<line x1="224.2" y1="605" x2="539.7" y2="198" stroke="#c4c4c4" stroke-width="0.9"/>
<line x1="287.8" y1="605" x2="583.6" y2="198" stroke="#c4c4c4" stroke-width="0.9"/>
<line x1="351.4" y1="605" x2="627.5" y2="198" stroke="#c4c4c4" stroke-width="0.9"/>
<line x1="415.1" y1="605" x2="671.4" y2="198" stroke="#c4c4c4" stroke-width="0.9"/>
<line x1="478.7" y1="605" x2="715.3" y2="198" stroke="#c4c4c4" stroke-width="0.9"/>
<line x1="542.3" y1="605" x2="759.2" y2="198" stroke="#c4c4c4" stroke-width="0.9"/>
<line x1="605.9" y1="605" x2="803.1" y2="198" stroke="#c4c4c4" stroke-width="0.9"/>
<line x1="669.5" y1="605" x2="847" y2="198" stroke="#c4c4c4" stroke-width="0.9"/>
<line x1="176.8" y1="513.5" x2="709.4" y2="513.5" stroke="#dedede" stroke-width="0.9"/>
<line x1="307" y1="364.2" x2="774.5" y2="364.2" stroke="#dedede" stroke-width="0.9"/>
<line x1="408.9" y1="247.3" x2="825.5" y2="247.3" stroke="#dedede" stroke-width="0.9"/>
<line x1="97" y1="393.5" x2="452" y2="52" stroke="#a8b2b2" stroke-width="0.9"/>
<line x1="97" y1="464" x2="452" y2="100.7" stroke="#a8b2b2" stroke-width="0.9"/>
<line x1="97" y1="534.5" x2="452" y2="149.3" stroke="#a8b2b2" stroke-width="0.9"/>
<line x1="176.8" y1="513.5" x2="176.8" y2="251.2" stroke="#d4e2e2" stroke-width="0.9"/>
<line x1="307" y1="364.2" x2="307" y2="133.9" stroke="#d4e2e2" stroke-width="0.9"/>
<line x1="408.9" y1="247.3" x2="408.9" y2="42.1" stroke="#d4e2e2" stroke-width="0.9"/>
<line x1="495.8" y1="198" x2="495.8" y2="3.4" stroke="#b2b29a" stroke-width="0.9"/>
<line x1="539.7" y1="198" x2="539.7" y2="3.4" stroke="#b2b29a" stroke-width="0.9"/>
<line x1="583.6" y1="198" x2="583.6" y2="3.4" stroke="#b2b29a" stroke-width="0.9"/>
<line x1="627.5" y1="198" x2="627.5" y2="3.4" stroke="#b2b29a" stroke-width="0.9"/>
<line x1="671.4" y1="198" x2="671.4" y2="3.4" stroke="#b2b29a" stroke-width="0.9"/>
<line x1="715.3" y1="198" x2="715.3" y2="3.4" stroke="#b2b29a" stroke-width="0.9"/>
<line x1="759.2" y1="198" x2="759.2" y2="3.4" stroke="#b2b29a" stroke-width="0.9"/>
<line x1="803.1" y1="198" x2="803.1" y2="3.4" stroke="#b2b29a" stroke-width="0.9"/>
<line x1="452" y1="52" x2="847" y2="52" stroke="#b2b29a" stroke-width="0.9"/>
<line x1="452" y1="100.7" x2="847" y2="100.7" stroke="#b2b29a" stroke-width="0.9"/>
<line x1="452" y1="149.3" x2="847" y2="149.3" stroke="#b2b29a" stroke-width="0.9"/>
<polyline points="452,3.4 847,3.4 847,198" fill="none" stroke="#8e8e84" stroke-width="1.1"/>
<polyline points="97,323 452,3.4" fill="none" stroke="#98a2a2" stroke-width="1"/>
<polyline points="452,3.4 452,198" fill="none" stroke="#7c8484" stroke-width="1.1"/>
<line x1="452" y1="198" x2="847" y2="198" stroke="#b0b0a0" stroke-width="1"/>
<line x1="97" y1="605" x2="452" y2="198" stroke="#8c9494" stroke-width="1"/>
<line x1="669.5" y1="605" x2="847" y2="198" stroke="#222" stroke-width="1.4"/>
<path d="M419 141.7M419.2 141M418.4 141.7M419.9 141.6M419.2 141.3M414.5 142.6M422.2 140.8" marker-start="url(#m0)" marker-mid="url(#m0)" marker-end="url(#m0)"/>
<path d="M422.1 140.5M421.3 140.5M424.1 139.8M423.3 139.6M416.3 142M419.6 141.3" marker-start="url(#m1)" marker-mid="url(#m1)" marker-end="url(#m1)"/>
<path d="M422.6 149.4M419.9 148.3M416 147.1M421.4 148.4M419 148M831.2 148.4M420.3 148.3" marker-start="url(#m2)" marker-mid="url(#m2)" marker-end="url(#m2)"/>
<path d="M418.2 147.4M422.1 148.3M416.5 147.2M417.5 147.2M415.2 146.7M415.8 146.8M422.9 148.1M417 147M422.7 149.7" marker-start="url(#m3)" marker-mid="url(#m3)" marker-end="url(#m3)"/>
<path d="M757.6 136.1M807.2 136M577.4 137M826.3 137M487.7 135.5M812.4 137.4M580.4 136.4M442.2 136M460 136.8M810.7 136.7M665.8 136.3M768.9 138.2M475.3 136.7M736.7 136.1M670.3 137.5M562.6 136.2M813.2 136.2M555.2 136.7M614.4 137.4M794.3 137.6M607.6 137.9M688.7 136.5M748.1 137M634.1 138.5M425.7 138.6M733.2 136.4M690.9 138.1M636.3 136.9M778.8 137.9M486 136.4M646.6 136.6M783.2 136.1M529.8 137.5M599.3 137M703.6 136.6M464.8 136.4M694.5 136.4M473.8 137.5M580.5 136.4M481.5 136.4M630.3 136.4M461.2 137.9M525 135.1M788.2 136.2M679.2 136.8M524.5 135.5M555.8 136.9M432.1 137.2M429.4 136.9M819.6 135.9M761.9 136.5M583.2 135.9M664.3 137.5M820.6 136.4M573.5 136.1M517.7 136.7M581 135.3M539.3 136.2M733.5 137.1M720.8 137.3M759.4 136.2M763.4 136.9M675.8 136.9M726.8 136.7M689.6 136M767.7 136.1M510.4 137.1M614.2 137.4M686.3 137.1M608.2 136.6M829.5 138.3M546.1 137.7M549.7 136.8M519.8 136.1M771.1 135.8M795.8 138.1M714.8 135.7M683.4 136.4M583.8 136.2M483.9 135.6M830.5 139.3M514 135.5M784.9 137.7M571.5 135.8M622.2 137.5M581.1 135.8M820.4 135.6M449.5 137.4M706 135.4M576.2 135.6M612.7 136.5M426.2 138.8M565.4 136.1M459.6 137.1M788.7 136.7M799.4 136M720.3 137.8M598.9 135.8M531 136M431 136.1M565.7 136.1M523.6 137.1M715.6 136.5M757.9 137M551 136.7M628 136.3M481.2 136.1M827.2 137.9M511.9 136.4M651 136.2M783.6 137.1M626.1 136.2M687.1 137.8M765.4 137.3M780.5 135.9M802.8 136.2M601.7 136.3M430 137.8M643.1 135.7M681.2 135.6M587.1 135.5M577.3 136.6M606.7 136.4M729 137.4M450.1 137.4M673.6 137.3M760.6 135.5M574.3 135.3M819.7 137.1M739.1 136M728.4 138M772.3 138.5M495 138.5M700.8 137M623.9 138.1M547.4 135.6M484.5 136.8M646.1 137.4M524.7 138.2M564.6 137.5M720.4 137.5M476.4 137.1M469.2 136M660.2 136.1M582 135.6M491.6 135.5M754 135.7M447.6 137.4M537.6 137.8M449.7 136.4M611.4 137.3M743.9 136.3M650.3 135.8M558.2 136.4M426.9 138.2M458.8 136.3M428.2 138.9M547.4 136.8M708.5 136.4M559.4 137.1M818.3 136.3M532.6 135.9M622.3 136.4M802.1 137.7M790.7 137.2M808.6 135.5M656.1 136.3M626.2 136.3M481.3 136.3M522.1 137.6M495.7 135.7M746.3 137.1M767.6 137.2M698.1 137.1M787.9 135.9M429.9 137.4M640.2 137.1M628.8 138.1M519.5 136.5M723.9 134.9M607.2 135.3M610.1 135.8M609.7 136.1M547.9 134.6M477.9 135.4M688.8 134.6M811.8 135.4M655.8 135.1M791.9 135.5M668.8 134.8M694.6 134.8M646 135.8M611.8 135.7M616.5 135.2M622.2 135.5" marker-start="url(#m4)" marker-mid="url(#m4)" marker-end="url(#m4)"/>
<path d="M620.4 136.6M483.5 136.1M775.1 136.2M589.1 135.9M604.9 138M779.5 136.9M474.2 137.2M614.1 137.8M730.9 136.1M630.7 138M750.9 137.3M744.3 136M600.9 137.7M613.8 136.5M717 135.8M751.1 135.6M794.4 136.5M706.3 137.6M799.7 137.7M789 135.9M563.1 136.1M527 136.3M583.7 136.2M706.8 135.3M819.1 135.6M636 135.6M623 136.4M629 136.7M688.4 136.7M675.4 137.5M482.2 135.3M606.1 136.7M428.4 138.9M688.9 136.9M432.3 137.4M449.6 136.3M671.9 136.7M696.4 135.8M544.3 135.4M445.2 135.9M469.4 137.8M784.7 137.2M578.7 135.1M698.9 136.4M712 137.2M564.8 136.1M518.2 135.8M493.4 135.5M795.2 136.7M538.5 136.8M623.3 138.1M643 136M452.7 137.5M467.2 136.7M818.7 135.8M507.5 135.4M741 135.2M816.3 137M622.3 137.5M447.9 136.3M428.3 137.7M499.8 137.8M734.1 135.8M821.2 135.6M602 137.4M686.7 136.8M427.3 138.9M572.9 137.1M757.6 135.8M640.4 136.5M566.3 137.4M749.8 135.6M744.1 137.3M469.5 136.1M517.4 135.3M826.9 135.9M739.9 135.9M491.6 135.9M680.5 137.7M505 135.9M754.6 137.4M446.6 135.7M580.3 135.5M812.4 136.2M595.5 135.7M435.6 135.8M722.2 136.3M532.4 136.4M540.1 136.8M436.3 137.6M693.2 135.8M664.6 136.8M542.8 136.1M689.4 136.7M608.5 137M763.7 137.2M594 135.6M624.8 137.2M441.4 136.3M792.3 136.8M582.6 136.8M735.1 134.9M519.3 136.2M537.9 136.4M681.2 138.2M637.3 136.5M602.5 135.9M437.5 137.2M665.6 136.8M517.9 137.2M630.6 137.2M829.5 138.3M713 135.4M508.4 135.5M786.6 137.9M711.5 136.2M808.9 136.7M494.2 136.3M772.4 136.6M722 136M497.3 138.1M758.9 136.8M613.4 136.4M560.7 137.6M735.5 136.3M769.9 136.6M630.8 136.1M654.2 135.5M676.5 136.2M569.5 136.2M559.7 136.3M484.9 135.7M716.4 137.9M531.4 137.5M428.2 137.8M607.7 136.9M788 136.2M712.1 136.8M713.4 137.7M681.2 137.7M501.8 136.9M656.5 135.6M829.6 137.1M561.6 135.8M562.3 135.6M701.4 135.1M563.6 135.7M689.6 135.9M760.1 134.5M496.5 135.2M481 135M692.1 134.7" marker-start="url(#m5)" marker-mid="url(#m5)" marker-end="url(#m5)"/>
<path d="M489.5 153.2M627.4 152.3M556.7 151.8M553.5 151.5M494.4 152.7M642 154.2M757.6 153.2M743.8 151.3M737.8 151M774.5 152.5M547.1 152.6M622.1 152.6M737.4 152.7M612.7 153.7M799.7 153.8M693.9 151.6M713.8 153.9M576.6 153.4M610.4 153.7M777.5 151.9M761.5 153M571.5 152.8M479.7 151.6M534.6 154.1M559 153M743.3 151.9M606.2 154.1M784 152M565.7 152.5M570.3 153.5M592 151.4M520.2 152.7M777.9 152.4M774.7 152.3M521.5 152M813.8 152.6M569 153.8M485.9 151.3M660.5 152.5M484.5 153.2M796.2 151.2M479.6 152M766.1 152.4M613.6 152.9M552.8 152.3M750.1 153.7M547 152.3M677.8 152.3M594.6 153.3M800.7 153.7M761.9 152.4M823.1 153.9M491.7 153M471.7 153.6M732.2 153.2M670 152.4M631.3 153.1M739.7 151.1M535.9 153.5M635.8 152.9M518.7 151.6M632.6 152.5M460 153.9M704 151.9M579.4 151.7M518.2 152.9M566.3 153.1M738.6 151.1M797.7 152.3M673.7 152.8M595.3 151.2M449.3 152.7M610 153.7M549.4 153.1M537.5 152.7M762.7 153.9M554.9 152.5M526.3 151.9M586.6 153.1M622.1 152M654.5 152.7M757.4 153.9M570.5 153.4M703.1 152.1M485.4 153.3M757 151.9M633.1 152.2M625 154M561.6 151.7M703.1 153.9M797.3 153.2M778.1 151.6M654.1 153.4M758.1 152.9M700.1 152.5M713.1 153.2M773.2 151.3M436.8 153.8M540.9 152.9M515.5 153M586.8 152.9M492 151.3M750.4 153.4M609.2 152.2M480.6 153M538.3 152.6M637.5 153.4M721.6 152.3M543.9 153.2M704.4 152M561.2 152.2M535.8 153.2M677.1 151.4M790.6 151.3M626.6 152.8M694.2 153.4M469.8 152.8M553.4 151.5M764.9 153.4M564.7 153.9M788.4 153.1M676.4 151.3M446.7 152M737.7 151.7M590.8 152.3M473.3 153.6M473.8 153.4M629.1 153.3M816 152.8M812.3 153.1M539.1 153.2M507 152.5M523.1 153M506.5 152.2M508.7 152.9M721.5 151M748.5 153.2M641.5 151.9M649.3 152.7M583 154M592.1 151.7M750.1 152M455.7 152.7M460.2 152.3M476.8 152M778.9 151.7M634.8 153.6M545.4 153M606 151.8M677.7 152.1M623 153.9M828.7 152.1M737.7 152.1M565.7 153.5M783.4 151.1M830.6 150.1M802.5 153M444.7 153.2M547.4 153.8M675.9 152.9M505.3 153.5M496.2 152.6M638.4 151.9M548.4 151.4M685.3 153M774.9 151.3M807 152.2M479.5 153.5M557.8 152.5M754 153.4M632.7 154.5M647.3 154.2M687.9 153.9M581.6 154.5M805.6 154.4M646.1 154.4M522.3 154.2M778 154M744.1 154.7M812.9 154.7M502.6 154.7" marker-start="url(#m6)" marker-mid="url(#m6)" marker-end="url(#m6)"/>
<path d="M428.2 150.6M532.8 153.1M536.4 152M687.6 152M741.8 153.9M502.8 152.4M675.4 152.9M568.2 152.2M788.4 152.5M505.2 154.4M719 153.1M814.3 152.1M565.8 152.4M739.2 152.5M742 152.5M751.5 153.5M528.5 151.1M543.4 153.3M659.1 154.1M580.4 152.4M502.9 153.9M517 151.7M546 153.3M631.1 154.9M659.2 153.8M829.7 151.1M764 153.9M437.3 154M610.8 153.3M804.4 152.3M814.4 151.9M597.5 153.6M586.1 153.3M648.1 152.6M599.2 151.8M711.5 153.4M765.6 151.6M765.9 151.9M451.8 152.9M517.8 152.3M429.3 150.9M464.5 152.7M515.8 153.4M560.6 153.6M620.3 153.4M773.9 152.7M726.1 153.4M764.5 152.3M754.7 152.3M508.2 153.6M428.4 150.7M464.3 153M784 151.2M528.6 152M669 152.5M498.1 152.1M553.5 152.7M644.4 152.8M631.7 151.5M671.6 151.9M588.7 152.2M770 151.9M716.2 152.9M684.9 153.9M573.1 153M814.8 153.8M786.5 151.4M539.3 152.8M639.1 151.5M576.8 153.3M603.4 154M781.8 150.8M460.2 151.8M659 152.7M426.1 150.8M559.8 152.8M657.6 151.7M545.6 151.9M450.6 153.2M554 152.1M582.5 154M645.5 153.9M532.5 153.7M452.7 153.3M509 153.7M663.1 153.4M697.3 153.6M442.5 152.1M494.6 152.4M532 153.1M737.9 151.7M487.7 152.7M788.9 153.2M583.1 152.5M496.8 153.2M652.3 152.5M805.1 154.3M698.7 153.4M501.8 151.9M531.5 153.7M703.1 152M618.6 154.2M487 153.1M518.4 153.1M559.1 153.3M697 153.4M481.4 152.9M535 153M449.1 152.2M459.5 152.8M456.7 152.4M724.3 153.1M510.2 154.5M764.2 153.8M792.4 151.5M599.3 151.5M614.4 153.8M791.9 153.6M449.5 152.7M593.1 152.3M716.1 152.9M475.4 152.2M635.5 152.9M492.4 152.2M675.9 151M649.3 152.1M759.1 153.6M715.7 153.8M520.4 152.8M659.9 153.2M810.6 154.1M445.2 152.4M818.4 152.4M578.4 151.8M660.3 153.9M552.5 153.1M698.8 152.7M723.1 152.4M553.8 152M540 153.2M658.5 153.2M715.5 151.8M665.2 153.9M714.5 153M675.8 152.6M800.8 153M473.6 152.7M688.8 152.6M738.4 153.1M634.9 155M824.6 154.9M441.4 154.2M695.8 154.1M585.3 154.1M809 154.6M515.1 154.2M682.7 154.1M613.5 154M552.6 154.1M778.5 153.1M783 153.6M477.5 154.1M477 153.9" marker-start="url(#m7)" marker-mid="url(#m7)" marker-end="url(#m7)"/>
<path d="M752.4 133.7M741.7 134.2M491.6 134M570.7 133.5" marker-start="url(#m8)" marker-mid="url(#m8)" marker-end="url(#m8)"/>
<path d="M740 134.1M697.7 134.2M693.4 133.8" marker-start="url(#m9)" marker-mid="url(#m9)" marker-end="url(#m9)"/>
<path d="M781.6 155.2M700.4 155.6" marker-start="url(#m10)" marker-mid="url(#m10)" marker-end="url(#m10)"/>
<path d="M647.8 156.1M503.1 155.6M606.3 155M433.3 155.7M490.2 155.3" marker-start="url(#m11)" marker-mid="url(#m11)" marker-end="url(#m11)"/>
<path d="M414 142.7 L417 141.7 L420 140.7 L423 139.7 L426 138.6 L429 137.2 L432 135.8 L435 135.8 L438 135.8 L441 135.8 L444 135.8 L447 135.8 L450 135.8 L453 135.8 L456 135.8 L459 135.8 L462 135.8 L465 135.8 L468 135.8 L471 135.8 L474 135.8 L477 135.8 L480 135.8 L483 135.8 L486 135.8 L489 135.8 L492 135.8 L495 135.8 L498 135.8 L501 135.8 L504 135.8 L507 135.8 L510 135.8 L513 135.8 L516 135.8 L519 135.8 L522 135.8 L525 135.8 L528 135.8 L531 135.8 L534 135.8 L537 135.8 L540 135.8 L543 135.8 L546 135.8 L549 135.8 L552 135.8 L555 135.8 L558 135.8 L561 135.8 L564 135.8 L567 135.8 L570 135.8 L573 135.8 L576 135.8 L579 135.8 L582 135.8 L585 135.8 L588 135.8 L591 135.8 L594 135.8 L597 135.8 L600 135.8 L603 135.8 L606 135.8 L609 135.8 L612 135.8 L615 135.8 L618 135.8 L621 135.8 L624 135.8 L627 135.8 L630 135.8 L633 135.8 L636 135.8 L639 135.8 L642 135.8 L645 135.8 L648 135.8 L651 135.8 L654 135.8 L657 135.8 L660 135.8 L663 135.8 L666 135.8 L669 135.8 L672 135.8 L675 135.8 L678 135.8 L681 135.8 L684 135.8 L687 135.8 L690 135.8 L693 135.8 L696 135.8 L699 135.8 L702 135.8 L705 135.8 L708 135.8 L711 135.8 L714 135.8 L717 135.8 L720 135.8 L723 135.8 L726 135.8 L729 135.8 L732 135.8 L735 135.8 L738 135.8 L741 135.8 L744 135.8 L747 135.8 L750 135.8 L753 135.8 L756 135.8 L759 135.8 L762 135.8 L765 135.8 L768 135.8 L771 135.8 L774 135.8 L777 135.8 L780 135.8 L783 135.8 L786 135.8 L789 135.8 L792 135.8 L795 135.8 L798 135.8 L801 135.8 L804 135.8 L807 135.8 L810 135.8 L813 135.8 L816 135.8 L819 135.8 L822 135.8 L825 135.8 L828 136.3 L831 139.8 L832 144.7 L832 144.7 L831 149.7 L828 153.2 L825 153.7 L822 153.7 L819 153.7 L816 153.7 L813 153.7 L810 153.7 L807 153.7 L804 153.7 L801 153.7 L798 153.7 L795 153.7 L792 153.7 L789 153.7 L786 153.7 L783 153.7 L780 153.7 L777 153.7 L774 153.7 L771 153.7 L768 153.7 L765 153.7 L762 153.7 L759 153.7 L756 153.7 L753 153.7 L750 153.7 L747 153.7 L744 153.7 L741 153.7 L738 153.7 L735 153.7 L732 153.7 L729 153.7 L726 153.7 L723 153.7 L720 153.7 L717 153.7 L714 153.7 L711 153.7 L708 153.7 L705 153.7 L702 153.7 L699 153.7 L696 153.7 L693 153.7 L690 153.7 L687 153.7 L684 153.7 L681 153.7 L678 153.7 L675 153.7 L672 153.7 L669 153.7 L666 153.7 L663 153.7 L660 153.7 L657 153.7 L654 153.7 L651 153.7 L648 153.7 L645 153.7 L642 153.7 L639 153.7 L636 153.7 L633 153.7 L630 153.7 L627 153.7 L624 153.7 L621 153.7 L618 153.7 L615 153.7 L612 153.7 L609 153.7 L606 153.7 L603 153.7 L600 153.7 L597 153.7 L594 153.7 L591 153.7 L588 153.7 L585 153.7 L582 153.7 L579 153.7 L576 153.7 L573 153.7 L570 153.7 L567 153.7 L564 153.7 L561 153.7 L558 153.7 L555 153.7 L552 153.7 L549 153.7 L546 153.7 L543 153.7 L540 153.7 L537 153.7 L534 153.7 L531 153.7 L528 153.7 L525 153.7 L522 153.7 L519 153.7 L516 153.7 L513 153.7 L510 153.7 L507 153.7 L504 153.7 L501 153.7 L498 153.7 L495 153.7 L492 153.7 L489 153.7 L486 153.7 L483 153.7 L480 153.7 L477 153.7 L474 153.7 L471 153.7 L468 153.7 L465 153.7 L462 153.7 L459 153.7 L456 153.7 L453 153.7 L450 153.7 L447 153.7 L444 153.7 L441 153.7 L438 153.7 L435 153.7 L432 153.7 L429 152.3 L426 150.9 L423 149.7 L420 148.7 L417 147.8 L414 146.8 Z" fill="url(#g0)"/>
<rect x="406.8" y="126.7" width="7.4" height="29.5" rx="3.2" fill="url(#g0)"/>
<rect x="406.8" y="126.7" width="7.4" height="29.5" rx="3.2" fill="url(#cyl)"/>
<line x1="405.9" y1="165.0" x2="405.9" y2="249.0" stroke="#151515" stroke-width="2"/>
<line x1="411.5" y1="169.6" x2="411.5" y2="249.0" stroke="#151515" stroke-width="2"/>
<line x1="421.4" y1="192.6" x2="421.4" y2="249.0" stroke="#151515" stroke-width="2"/>
<line x1="464.3" y1="188.0" x2="464.3" y2="249.0" stroke="#151515" stroke-width="2"/>
<line x1="512.0" y1="184.5" x2="512.0" y2="249.0" stroke="#151515" stroke-width="2"/>
<line x1="522.0" y1="181.1" x2="522.0" y2="249.0" stroke="#151515" stroke-width="2"/>
<line x1="528.6" y1="176.5" x2="528.6" y2="249.0" stroke="#151515" stroke-width="2"/>
<line x1="574.7" y1="182.8" x2="574.7" y2="249.0" stroke="#151515" stroke-width="2"/>
<line x1="586.3" y1="192.6" x2="586.3" y2="249.0" stroke="#151515" stroke-width="2"/>
<line x1="629.2" y1="178.2" x2="629.2" y2="249.0" stroke="#151515" stroke-width="2"/>
<line x1="635.7" y1="189.7" x2="635.7" y2="249.0" stroke="#151515" stroke-width="2"/>
<line x1="619.3" y1="192.0" x2="619.3" y2="249.0" stroke="#151515" stroke-width="2"/>
<line x1="666.4" y1="160.4" x2="666.4" y2="249.0" stroke="#151515" stroke-width="2"/>
<line x1="670.4" y1="184.5" x2="670.4" y2="249.0" stroke="#151515" stroke-width="2"/>
<line x1="710.0" y1="176.5" x2="710.0" y2="249.0" stroke="#151515" stroke-width="2"/>
<line x1="714.9" y1="178.2" x2="714.9" y2="249.0" stroke="#151515" stroke-width="2"/>
<line x1="756.0" y1="188.0" x2="756.0" y2="249.0" stroke="#151515" stroke-width="2"/>
<line x1="761.0" y1="194.3" x2="761.0" y2="249.0" stroke="#151515" stroke-width="2"/>
<line x1="772.6" y1="201.2" x2="772.6" y2="249.0" stroke="#151515" stroke-width="2"/>
<line x1="696.7" y1="196.1" x2="696.7" y2="249.0" stroke="#151515" stroke-width="2"/>
<line x1="597.8" y1="199.5" x2="597.8" y2="249.0" stroke="#151515" stroke-width="2"/>
<line x1="644.0" y1="203.0" x2="644.0" y2="249.0" stroke="#151515" stroke-width="2"/>
<line x1="545.0" y1="194.9" x2="545.0" y2="249.0" stroke="#151515" stroke-width="2"/>
<line x1="442.9" y1="199.5" x2="442.9" y2="249.0" stroke="#151515" stroke-width="2"/>
<line x1="456.0" y1="196.1" x2="456.0" y2="249.0" stroke="#151515" stroke-width="2"/>
<line x1="499.0" y1="203.0" x2="499.0" y2="249.0" stroke="#151515" stroke-width="2"/>
<line x1="336.0" y1="194.3" x2="336.0" y2="249.0" stroke="#151515" stroke-width="2"/>
<line x1="340.0" y1="198.4" x2="340.0" y2="249.0" stroke="#151515" stroke-width="2"/>
<line x1="383.0" y1="341.1" x2="383.0" y2="249.0" stroke="#151515" stroke-width="2"/>
<line x1="453.7" y1="317.5" x2="453.7" y2="249.0" stroke="#151515" stroke-width="2"/>
<line x1="457.8" y1="321.6" x2="457.8" y2="249.0" stroke="#151515" stroke-width="2"/>
<line x1="465.6" y1="317.5" x2="465.6" y2="249.0" stroke="#151515" stroke-width="2"/>
<line x1="504.9" y1="308.9" x2="504.9" y2="249.0" stroke="#151515" stroke-width="2"/>
<line x1="524.3" y1="306.6" x2="524.3" y2="249.0" stroke="#151515" stroke-width="2"/>
<line x1="535.3" y1="304.9" x2="535.3" y2="249.0" stroke="#151515" stroke-width="2"/>
<line x1="552.0" y1="318.7" x2="552.0" y2="249.0" stroke="#151515" stroke-width="2"/>
<line x1="575.5" y1="307.7" x2="575.5" y2="249.0" stroke="#151515" stroke-width="2"/>
<line x1="575.5" y1="338.2" x2="575.5" y2="249.0" stroke="#151515" stroke-width="2"/>
<line x1="590.7" y1="314.6" x2="590.7" y2="249.0" stroke="#151515" stroke-width="2"/>
<line x1="606.0" y1="318.7" x2="606.0" y2="249.0" stroke="#151515" stroke-width="2"/>
<line x1="624.0" y1="321.6" x2="624.0" y2="249.0" stroke="#151515" stroke-width="2"/>
<line x1="647.5" y1="328.5" x2="647.5" y2="249.0" stroke="#151515" stroke-width="2"/>
<line x1="630.8" y1="306.6" x2="630.8" y2="249.0" stroke="#151515" stroke-width="2"/>
<line x1="665.4" y1="313.5" x2="665.4" y2="249.0" stroke="#151515" stroke-width="2"/>
<line x1="701.4" y1="303.7" x2="701.4" y2="249.0" stroke="#151515" stroke-width="2"/>
<line x1="712.5" y1="314.6" x2="712.5" y2="249.0" stroke="#151515" stroke-width="2"/>
<line x1="748.5" y1="308.9" x2="748.5" y2="249.0" stroke="#151515" stroke-width="2"/>
<line x1="363.7" y1="295.1" x2="363.7" y2="249.0" stroke="#151515" stroke-width="2"/>
<line x1="405.0" y1="298.0" x2="405.0" y2="249.0" stroke="#151515" stroke-width="2"/>
<path d="M313 241.7 L316 236.9 L319 232 L322 228.1 L325 224.6 L328 221 L331 218.7 L334 218.7 L337 218.7 L340 218.7 L343 218.7 L346 218.7 L349 218.7 L352 218.7 L355 218.7 L358 218.7 L361 218.7 L364 218.7 L367 218.7 L370 218.7 L373 218.7 L376 218.7 L379 218.7 L382 218.7 L385 218.7 L388 218.7 L391 218.7 L394 218.7 L397 218.7 L400 218.7 L403 218.7 L406 218.7 L409 218.7 L412 218.7 L415 218.7 L418 218.7 L421 218.7 L424 218.7 L427 218.7 L430 218.7 L433 218.7 L436 218.7 L439 218.7 L442 218.7 L445 218.7 L448 218.7 L451 218.7 L454 218.7 L457 218.7 L460 218.7 L463 218.7 L466 218.7 L469 218.7 L472 218.7 L475 218.7 L478 218.7 L481 218.7 L484 218.7 L487 218.7 L490 218.7 L493 218.7 L496 218.7 L499 218.7 L502 218.7 L505 218.7 L508 218.7 L511 218.7 L514 218.7 L517 218.7 L520 218.7 L523 218.7 L526 218.7 L529 218.7 L532 218.7 L535 218.7 L538 218.7 L541 218.7 L544 218.7 L547 218.7 L550 218.7 L553 218.7 L556 218.7 L559 218.7 L562 218.7 L565 218.7 L568 218.7 L571 218.7 L574 218.7 L577 218.7 L580 218.7 L583 218.7 L586 218.7 L589 218.7 L592 218.7 L595 218.7 L598 218.7 L601 218.7 L604 218.7 L607 218.7 L610 218.7 L613 218.7 L616 218.7 L619 218.7 L622 218.7 L625 218.7 L628 218.7 L631 218.7 L634 218.7 L637 218.7 L640 218.7 L643 218.7 L646 218.7 L649 218.7 L652 218.7 L655 218.7 L658 218.7 L661 218.7 L664 218.7 L667 218.7 L670 218.7 L673 218.7 L676 218.7 L679 218.7 L682 218.7 L685 218.7 L688 218.7 L691 218.7 L694 218.7 L697 218.7 L700 218.7 L703 218.7 L706 218.7 L709 218.7 L712 218.7 L715 218.7 L718 218.7 L721 218.7 L724 218.7 L727 218.7 L730 218.7 L733 218.7 L736 218.7 L739 218.7 L742 218.7 L745 218.7 L748 218.7 L751 218.7 L754 218.7 L757 218.7 L760 218.7 L763 218.7 L766 218.7 L769 218.7 L772 218.7 L775 218.7 L778 218.7 L781 218.7 L781 286.2 L778 286.2 L775 286.2 L772 286.2 L769 286.2 L766 286.2 L763 286.2 L760 286.2 L757 286.2 L754 286.1 L751 286.1 L748 286.1 L745 286.1 L742 286.1 L739 286.1 L736 286.1 L733 286.1 L730 286.1 L727 286.1 L724 286.1 L721 286.1 L718 286.1 L715 286.1 L712 286.1 L709 286.1 L706 286 L703 286 L700 286 L697 286 L694 286 L691 286 L688 286 L685 286 L682 286 L679 286 L676 286 L673 286 L670 286 L667 286 L664 286 L661 285.9 L658 285.9 L655 285.9 L652 285.9 L649 285.9 L646 285.9 L643 285.9 L640 285.9 L637 285.9 L634 285.9 L631 285.9 L628 285.9 L625 285.9 L622 285.9 L619 285.9 L616 285.8 L613 285.8 L610 285.8 L607 285.8 L604 285.8 L601 285.8 L598 285.8 L595 285.8 L592 285.8 L589 285.8 L586 285.8 L583 285.8 L580 285.8 L577 285.8 L574 285.8 L571 285.8 L568 285.7 L565 285.7 L562 285.7 L559 285.7 L556 285.7 L553 285.7 L550 285.7 L547 285.7 L544 285.7 L541 285.7 L538 285.7 L535 285.7 L532 285.7 L529 285.7 L526 285.7 L523 285.6 L520 285.6 L517 285.6 L514 285.6 L511 285.6 L508 285.6 L505 285.6 L502 285.6 L499 285.6 L496 285.6 L493 285.6 L490 285.6 L487 285.6 L484 285.6 L481 285.6 L478 285.5 L475 285.5 L472 285.5 L469 285.5 L466 285.5 L463 285.5 L460 285.5 L457 285.5 L454 285.5 L451 285.5 L448 285.5 L445 285.5 L442 285.5 L439 285.5 L436 285.5 L433 285.5 L430 285.4 L427 285.4 L424 285.4 L421 285.4 L418 285.4 L415 285.4 L412 285.4 L409 285.4 L406 285.4 L403 285.4 L400 285.4 L397 285.4 L394 285.4 L391 285.4 L388 285.4 L385 285.3 L382 285.3 L379 285.3 L376 285.3 L373 285.3 L370 285.3 L367 285.3 L364 285.3 L361 285.3 L358 285.3 L355 285.3 L352 285.3 L349 285.3 L346 285.3 L343 285.3 L340 285.2 L337 285.2 L334 285.2 L331 285.2 L328 282.9 L325 279.4 L322 275.8 L319 272.1 L316 267.9 L313 263.7 Z" fill="url(#g1)"/>
<path d="M313 241.7 L316 236.9 L319 232 L322 228.1 L325 224.6 L328 221 L331 218.7 L334 218.7 L337 218.7 L340 218.7 L343 218.7 L346 218.7 L349 218.7 L352 218.7 L355 218.7 L358 218.7 L361 218.7 L364 218.7 L367 218.7 L370 218.7 L373 218.7 L376 218.7 L379 218.7 L382 218.7 L385 218.7 L388 218.7 L391 218.7 L394 218.7 L397 218.7 L400 218.7 L403 218.7 L406 218.7 L409 218.7 L412 218.7 L415 218.7 L418 218.7 L421 218.7 L424 218.7 L427 218.7 L430 218.7 L433 218.7 L436 218.7 L439 218.7 L442 218.7 L445 218.7 L448 218.7 L451 218.7 L454 218.7 L457 218.7 L460 218.7 L463 218.7 L466 218.7 L469 218.7 L472 218.7 L475 218.7 L478 218.7 L481 218.7 L484 218.7 L487 218.7 L490 218.7 L493 218.7 L496 218.7 L499 218.7 L502 218.7 L505 218.7 L508 218.7 L511 218.7 L514 218.7 L517 218.7 L520 218.7 L523 218.7 L526 218.7 L529 218.7 L532 218.7 L535 218.7 L538 218.7 L541 218.7 L544 218.7 L547 218.7 L550 218.7 L553 218.7 L556 218.7 L559 218.7 L562 218.7 L565 218.7 L568 218.7 L571 218.7 L574 218.7 L577 218.7 L580 218.7 L583 218.7 L586 218.7 L589 218.7 L592 218.7 L595 218.7 L598 218.7 L601 218.7 L604 218.7 L607 218.7 L610 218.7 L613 218.7 L616 218.7 L619 218.7 L622 218.7 L625 218.7 L628 218.7 L631 218.7 L634 218.7 L637 218.7 L640 218.7 L643 218.7 L646 218.7 L649 218.7 L652 218.7 L655 218.7 L658 218.7 L661 218.7 L664 218.7 L667 218.7 L670 218.7 L673 218.7 L676 218.7 L679 218.7 L682 218.7 L685 218.7 L688 218.7 L691 218.7 L694 218.7 L697 218.7 L700 218.7 L703 218.7 L706 218.7 L709 218.7 L712 218.7 L715 218.7 L718 218.7 L721 218.7 L724 218.7 L727 218.7 L730 218.7 L733 218.7 L736 218.7 L739 218.7 L742 218.7 L745 218.7 L748 218.7 L751 218.7 L754 218.7 L757 218.7 L760 218.7 L763 218.7 L766 218.7 L769 218.7 L772 218.7 L775 218.7 L778 218.7 L781 218.7 L781 286.2 L778 286.2 L775 286.2 L772 286.2 L769 286.2 L766 286.2 L763 286.2 L760 286.2 L757 286.2 L754 286.1 L751 286.1 L748 286.1 L745 286.1 L742 286.1 L739 286.1 L736 286.1 L733 286.1 L730 286.1 L727 286.1 L724 286.1 L721 286.1 L718 286.1 L715 286.1 L712 286.1 L709 286.1 L706 286 L703 286 L700 286 L697 286 L694 286 L691 286 L688 286 L685 286 L682 286 L679 286 L676 286 L673 286 L670 286 L667 286 L664 286 L661 285.9 L658 285.9 L655 285.9 L652 285.9 L649 285.9 L646 285.9 L643 285.9 L640 285.9 L637 285.9 L634 285.9 L631 285.9 L628 285.9 L625 285.9 L622 285.9 L619 285.9 L616 285.8 L613 285.8 L610 285.8 L607 285.8 L604 285.8 L601 285.8 L598 285.8 L595 285.8 L592 285.8 L589 285.8 L586 285.8 L583 285.8 L580 285.8 L577 285.8 L574 285.8 L571 285.8 L568 285.7 L565 285.7 L562 285.7 L559 285.7 L556 285.7 L553 285.7 L550 285.7 L547 285.7 L544 285.7 L541 285.7 L538 285.7 L535 285.7 L532 285.7 L529 285.7 L526 285.7 L523 285.6 L520 285.6 L517 285.6 L514 285.6 L511 285.6 L508 285.6 L505 285.6 L502 285.6 L499 285.6 L496 285.6 L493 285.6 L490 285.6 L487 285.6 L484 285.6 L481 285.6 L478 285.5 L475 285.5 L472 285.5 L469 285.5 L466 285.5 L463 285.5 L460 285.5 L457 285.5 L454 285.5 L451 285.5 L448 285.5 L445 285.5 L442 285.5 L439 285.5 L436 285.5 L433 285.5 L430 285.4 L427 285.4 L424 285.4 L421 285.4 L418 285.4 L415 285.4 L412 285.4 L409 285.4 L406 285.4 L403 285.4 L400 285.4 L397 285.4 L394 285.4 L391 285.4 L388 285.4 L385 285.3 L382 285.3 L379 285.3 L376 285.3 L373 285.3 L370 285.3 L367 285.3 L364 285.3 L361 285.3 L358 285.3 L355 285.3 L352 285.3 L349 285.3 L346 285.3 L343 285.3 L340 285.2 L337 285.2 L334 285.2 L331 285.2 L328 282.9 L325 279.4 L322 275.8 L319 272.1 L316 267.9 L313 263.7 Z" fill="url(#tx0)" opacity="0.4"/>
<path d="M313.7 243.5" marker-start="url(#m12)" marker-mid="url(#m12)" marker-end="url(#m12)"/>
<path d="M313.4 245.1" marker-start="url(#m13)" marker-mid="url(#m13)" marker-end="url(#m13)"/>
<path d="M313.6 244.2M314.3 243.3" marker-start="url(#m14)" marker-mid="url(#m14)" marker-end="url(#m14)"/>
<path d="M313.4 242.9" marker-start="url(#m15)" marker-mid="url(#m15)" marker-end="url(#m15)"/>
<path d="M319.4 239.9M318.8 239.6" marker-start="url(#m16)" marker-mid="url(#m16)" marker-end="url(#m16)"/>
<path d="M313 242" marker-start="url(#m17)" marker-mid="url(#m17)" marker-end="url(#m17)"/>
<path d="M316.3 239.3M315.2 242.2M315.6 239.3" marker-start="url(#m18)" marker-mid="url(#m18)" marker-end="url(#m18)"/>
<path d="M313.3 241.7M315.4 240.2M315.8 239.4M313.9 243.1" marker-start="url(#m19)" marker-mid="url(#m19)" marker-end="url(#m19)"/>
<path d="M313.2 242.1M314.4 239.2" marker-start="url(#m5)" marker-mid="url(#m5)" marker-end="url(#m5)"/>
<path d="M317.6 259.1" marker-start="url(#m20)" marker-mid="url(#m20)" marker-end="url(#m20)"/>
<path d="M318 260.5M313.8 258.1M313.4 260.2M317.6 258.6" marker-start="url(#m21)" marker-mid="url(#m21)" marker-end="url(#m21)"/>
<path d="M318.4 260.2" marker-start="url(#m22)" marker-mid="url(#m22)" marker-end="url(#m22)"/>
<path d="M592.6 234.1M538.4 233M748.9 233.8M703 232.5M325.1 235.3M643.9 233M628.9 232.4M386.4 232M513.4 232M370.7 234.8M561.7 234.4M575.1 234.8M612.3 232.5M425.1 234.8M739.4 234.5M480.8 235.2M709.3 233.9M493.3 232.6M441.5 232.8M608.3 232.8M535.2 232.6M698.6 232.5M771.6 232.6M647.1 232.5M689.2 233.8M716.2 232.6M656.9 233.8M509.1 232.8M709 233.3M769.9 233.6M724 233.3M470.3 232.9M470.6 233.2M721.5 233.7M716 233.4M752 234.5M434.9 233.2M578.4 234.8M382.3 235.3M594.5 235.4M752.1 232.5M322.1 235.8M578.6 234.8M417.3 233.8M662.6 232.9M631.6 232.2M609.4 232.1M518.4 234.4M379.1 232.7M574 232.7M648.4 233.7M758.4 234.5M399.9 235M648.7 234.6M678.3 234.4M334 232.3M470 234.8M439 233.2M508.3 233.3M718.2 231.9M667.4 231.9M542.3 232.2M594.5 234.5M567.7 232.5M384.9 234M367.1 232.3M533.3 234.4M442.1 232.5M685.1 234.5M463.3 234M556.2 235.4M446.3 233.4M745 233.3M399.1 231.9M610.7 231.7M319.5 234.5M695.5 232.2M575.5 234.6M358.1 233.4M361.7 233.2M665.7 234.3M506.4 233.2M725.1 232.5M542.8 235.3M548.4 233.6M686.2 231.8M570 234.3M737.5 233.4M442.8 233.9" marker-start="url(#m23)" marker-mid="url(#m23)" marker-end="url(#m23)"/>
<path d="M545.3 233.4M424.2 232.6M512.7 233.8M556.7 233.8M388.7 234.8M625.2 233.5M556.9 235.1M511.9 233M572.7 233.4M588.9 232.5M644.6 234M380.9 232.9M404.3 232.6M328 235.5M329 235.6M424.1 232.6M567 235.3M380.7 232.3M496.8 234.6M609.5 232.8M365.2 232.9M338.5 234.9M606.6 231.8M393.5 235.2M538.4 235.3M362.4 234.3M745.2 232.5M411.8 234.7M360.9 235.4M416.3 234.8M406.8 232.7M491.6 235.4M725.5 233.4M498.7 233.6M321 231.8M389 232.9M529.1 235.1M500.4 234.3M522.7 234.5M712.2 234M646.5 232.6M437.5 233.7M335.6 235.4M629.3 232.2M428.5 234.8M749.1 235M759.1 234.7M327.7 235.7M595 235M399.4 232.1M322.4 233.7M509.2 234.6M596.2 232.3M621.9 231.9M361.5 234.2M372.3 234.3M651.7 234.7M601 233.7M493.2 232.5M345.1 232.1M427.6 232.8M353.7 232.1M348.1 232.4M700.4 235.3M760.2 235.1M422.9 234.7M458.3 232.1M516 234.6M385.3 235.3M546.8 233.3M453.6 233.3M534.8 234.9M320.4 235.4M390.2 234.4M697.6 233M346.9 235.4M417.3 234.1M508 235.4M576.2 232.2M523.6 232.4M443.4 232M535 233.4M522.9 235.3M387.9 233.9" marker-start="url(#m24)" marker-mid="url(#m24)" marker-end="url(#m24)"/>
<path d="M320 236M316.4 237.3M316.4 236.6" marker-start="url(#m25)" marker-mid="url(#m25)" marker-end="url(#m25)"/>
<path d="M766.6 235.2M648.8 235.3M464.6 231.9M552.8 233M680.6 234.7M490.7 231.8M325.5 236.4M388.1 232.5M478 233.1M549.9 231.8M322.2 232.2M551.2 233.7M335.6 233.6M663.8 235.4M488.4 232.9M353.7 232.6M448.9 233.2M393.1 232.6M519.6 233.9M717 234.8M320.5 235.5M529.7 234.6M533 233M356.9 234.1M578.6 233M718.3 233.1M410.3 232.6M614.1 233.6M485 233.6M365 235.4M694.1 234.6M438.1 232.4M744.2 232.2M610.5 232.1M662.6 232.7M585.9 234.3M442.4 232.9M571.4 232.3M653.1 234.9M492.5 234.4M566.3 233.3M440.7 234.5M459.2 235.1M704.2 234.2M626.7 232.1M751.6 233.5M622.4 232.4M495.3 232.1M602.3 233.1M640.9 234.7M463.5 234.4M600.7 232.4M619.7 233.1M475.8 232.1M639.5 231.8M743.4 232.6M722.8 234.9M317.9 232.1M488.8 232.3M687.1 233.1M746.3 234.7M780.1 233.5M361.1 234.5M768.6 234.4M489.7 234.5M558.6 232.2M745.1 234.3M579.8 232.9M343.4 231.9M567.9 235.3M775.8 233.5M324.5 237M399 234.2M698.8 234.7M388.8 232.8M365.1 232M471.1 232.3M561.2 235.4M584.9 235M749.4 233.4M605 234.2M338.8 234.2M608.3 232.1M752 235M417.8 235.4M609.6 235.2M362.3 234M425 234.2M648.1 234.7M335.3 232.5" marker-start="url(#m26)" marker-mid="url(#m26)" marker-end="url(#m26)"/>
<path d="M319.2 232.5" marker-start="url(#m27)" marker-mid="url(#m27)" marker-end="url(#m27)"/>
<path d="M315.9 236.9M318.8 235.1" marker-start="url(#m9)" marker-mid="url(#m9)" marker-end="url(#m9)"/>
<path d="M434.6 266M630.4 265.5M520.5 265.6M631.7 266.2M469.1 266M507.1 266.2M408.3 266.1M590.7 266.1M649.4 265.8M465.8 266.3M630 265.6M346.2 265.8M568.6 266.1M486.2 266M399.2 265.4M491.7 266M768 266.3" marker-start="url(#m28)" marker-mid="url(#m28)" marker-end="url(#m28)"/>
<path d="M316.4 264.5M737.5 266.1M557.4 266.1M440.5 266.2M317.1 263.7M389.6 266M348.5 266.1M384.5 265.4M315.6 261.3M666.3 266.1M322.5 264.5M366.2 265.4M347.9 265.8M380.4 266.1M325.2 263.7M620.3 266.1M430.5 266.1M405.4 265.3M532.4 266.1M327.6 265.6" marker-start="url(#m29)" marker-mid="url(#m29)" marker-end="url(#m29)"/>
<path d="M684.4 265.6M320.9 261.6M384.9 266.1M323.6 262.2M314.8 263.4M321.9 264.7M518.5 266.2M686.8 265.6M760.9 265.8M547.3 266M435.4 265.6M731.1 265.7M368.9 266.2M679.7 266.1M325.4 266.1M569.9 266.1M316.9 265.7M323.4 264.3M588.2 265.6M689.4 265.7M316.1 263M392.7 265.6M463.2 266.1M382.1 265.5M443.2 265.8M322.7 264.5" marker-start="url(#m30)" marker-mid="url(#m30)" marker-end="url(#m30)"/>
<path d="M313.6 265.4" marker-start="url(#m11)" marker-mid="url(#m11)" marker-end="url(#m11)"/>
<path d="M434.2 231.2M456.9 226.3M711.4 228.5M324.8 226.7M633.2 227.1M743.3 228.7M600.3 227.1M594.5 227.2M766.6 230.6M467.7 229.2M372.2 227M718.4 228.5M356.1 231.2M461.3 229.8M420.3 230.1M703.7 226.4M761.8 228.3M359.2 230.2M560 226.5M556.7 229.8M778.1 231.6M777.1 227.6M402.7 229.3M421 226.6M730 226.2M326.5 226.9M519.5 226.3M476.2 227.4M683.5 230.5M618.4 226.6M522 229.1M374.5 227.3M647.3 226.6M707.5 230.2M511.2 226.5M469.5 227.6M403.5 230M406.1 230.9M779.7 227.3M737.9 227.3M337.8 226.1M548.9 228.1M509.8 231.3M444.1 227M539.4 228.1M596.4 231.7M597.3 228.1M629.8 228M334.1 228.8M497.2 229.4M479.7 231.4M745 230.1M738.5 228.9M520.2 230.7M739.8 227.1M757 227.6M637.1 228.3M758 231M617.2 228M609.1 227.9M648.3 226.3M675.1 230.3M415.6 227.6M619.4 228.7M731.5 229.6M600.9 231.3M318.9 230.5M618 229.6M741.2 226.7M449.2 227.7M716.3 229.3M554.6 229.3M436 227.1M475.2 229.9M321.6 227.2M372.7 228.6M673.5 226.5M643.1 228.4M605.5 226.7M707.6 230.4M582.2 228.1M761 226.3M580.6 229.9M669.1 226.3M510.5 229.7M520.7 231.3M741.3 227.5M482.9 226.4M677.1 227.4M322.2 228.3M709.4 229.8M450.2 229.8M582.2 230.4M499.7 228.8M760.1 228.2M547.7 227.1M393.7 231.1M763.6 231.1M475.6 230.7M375.4 226M710.4 228.9M325.6 230.5M653 227.9M373.6 231.4M500.6 229.1M695.1 230.3M438.6 230.5M526.4 227.8M543.2 230.3M698.9 229.9M356.4 227.4M358.2 229.4M585.3 229.1M728.7 230.1M577.3 228.4M339.8 231M773.6 230.5M777.1 229.6M657.6 231.2M682.5 229.5M644.2 229.1M551 228.6M423.9 227M568.3 226.3M446.5 226.1M481.2 227.1M409 227.1M754.6 226.8M375.6 228.4M699.6 228.3" marker-start="url(#m31)" marker-mid="url(#m31)" marker-end="url(#m31)"/>
<path d="M760.4 230.8M577.9 227.1M555.4 231.2M326.7 229.6M729 226.5M702.9 230.1M384.9 230.4M648.2 230.7M727.5 227.1M573.9 228.4M642.2 229.5M728.9 228.7M742.2 229.2M478.8 231M607.7 231.6M699.4 228.6M619.2 227.1M608.2 226.9M492.5 229.5M411.8 229.6M521.3 231.1M492.5 228.6M580.8 230M339.4 227.4M341.1 231.1M619.6 230.2M674.4 230.7M626.4 231.5M748.6 226.8M418.9 228.5M712.6 230.6M382.8 226.7M486.4 230.9M502.5 228.1M383.8 226M697.7 226.6M479.4 228.6M550.5 230.1M745.8 229.3M661.8 228M632.7 229.3M417.8 231M745.9 229.7M721.1 227.8M426.5 226.3M466.7 229.6M367.4 227.8M660.1 228.6M367.5 229M592.6 229.4M403.2 231.7M691 230.5M721.4 230.8M698.7 230.4M558.4 230.2M610.3 226.6M484.1 227M448 226.6M643.6 227.4M353.5 226.2M634.1 226.7M405.2 231.1M576.2 228.6M382.5 227.2M659.5 228.4M519.5 226.2M387.1 229M616.8 226.7M376.9 227.4M718.2 228.3M747.9 228.6M337 230.4M439.5 231.7M681.3 228.1M363.8 228.8M693.3 229.3M396.2 230M757.2 229.4M644.9 230.3M707 228.8M717.1 230.2M325 230.7M620.5 227.3M719 230.5M631.3 230.8M513.6 228.3M351.7 231.3M429.3 228.7M718.6 230.3M561.9 228.2M372.2 227.5M493.5 227.8M389.3 229.6M485.3 227.1M626.6 226.2M723.5 227.7M506.1 229.6M539 231.3M472.7 230.1M336.2 226.5M434.9 228M321.9 226.2M715.6 230.2M641 228.7M363 231.5M677.8 228.9M410.1 231M750.8 229.2M562.8 227.6M674.8 227.4M695.1 229.8M560.4 230.1M484.4 229.8M320 227.9M350.1 228.4M425.1 229.3M622.9 227.6M389.1 227.8M395.5 226.4M595.2 231.4M757.7 231.3M586.9 226.7M347 230.9" marker-start="url(#m32)" marker-mid="url(#m32)" marker-end="url(#m32)"/>
<path d="M448.8 226.1M664.2 227.2M346.3 228.4M506.3 227.2M424.9 227.2M320.1 230.1M357.5 226.7M359 227.2M397.8 227M319.5 231.2M325.2 228.7M447.5 226.1M323.2 227.7M621.4 226.3M342.1 227.4M358.6 226.2" marker-start="url(#m33)" marker-mid="url(#m33)" marker-end="url(#m33)"/>
<path d="M461.4 228.1M645.2 226.9M460.9 231.4M456.2 231.2M737.9 229.8M582.8 228.6M763 229.6M383.3 231.7M424.3 231.2M543.3 231.1M620.1 230.8M638.2 228.1M429.9 229M578 229M551.4 228.7M366.7 228.8M731.4 226.7M353 226.5M646.2 226.8M608.6 229.2M661 230.3M663.7 227.4M320.2 230.9M673.2 226.8M780 226.5M473.6 227.8M480.2 227.3M497 230.4M687.4 230.3M730.5 231.5M576.9 228.8M612.8 227.5M421.6 230.7M481.8 229.3M448.5 226.2M420.6 228M750.7 227.4M396.3 227.8M374.2 228.6M461.7 229.3M648.9 226.5M412.6 228M390.6 230.5M434.8 226.8M725.2 228.5M531.4 229.3M401.1 228.2M698.6 229.2M387.9 226.1M365.6 230.7M731.3 227.3M418.2 231.1M626.9 229M670.3 228.1M717.4 228.9M331 228.2M513.9 231.7M323.1 228.3M548 227.8M327 228.1M513.8 226.2M319.6 231.7M332 228.3M776.2 227.1M737.1 227.6M349.5 231.3M709.6 231.3M508.9 226.5M750.2 226.2M552.1 227.7M519 230M559.8 228.4M670.9 229.5M477.7 230.7M615.6 226.5M515.9 227.3M760.3 229.9M758.3 227.9M320.5 227.4M557.2 227.9M648.7 231M770.7 226.3M430.6 229.4M749.8 231.7M579.8 228.2M467 230.9M578.5 231.7M318.9 230.9M600.5 229.2M691.5 229M410.1 231.4M393.5 226.5M484.8 227.3M564.6 230M416.2 228.1M659.6 230.1M532.5 229.6M483.6 226.3M517.4 228.5M448.7 230.3M496.9 228M538 226.9M723.9 230M484.2 230.9M535.3 227.3M720 231.3M667.6 229.7M497.8 229.4M320.9 231.6M506.3 227.3M402 231.6M353.4 229.2M347 229.9M515 228M692.2 231.3M383.7 231.5M695.9 228.6M693.9 231.2M738.8 230M345.9 228.4M320.7 227.9M468.3 229.8M647.4 229.5M565.2 227.5M503.7 228.6M759 227.3" marker-start="url(#m34)" marker-mid="url(#m34)" marker-end="url(#m34)"/>
<path d="M355.5 227.6M500.7 227.2M627.6 226.4M620 228.6M495.6 226.1M497.8 228M506.5 226.9M535.7 226.4M434.3 226.1M711.3 226.1M561.3 226.5M443.5 230.2" marker-start="url(#m35)" marker-mid="url(#m35)" marker-end="url(#m35)"/>
<path d="M324.6 229M436.7 226.3M660 229.1M597.3 226.3M496.5 226.4M662.5 226.2M336.5 228.6" marker-start="url(#m36)" marker-mid="url(#m36)" marker-end="url(#m36)"/>
<path d="M336.6 271.4M615.1 269.9M334.9 269.3M398.7 269.5M336.9 269.4M354.7 266.7M559.4 270.4M646.1 267.7M711.6 267.3M602.7 267.8M610.2 267.1M349.6 266.8M349.8 266.3M763.2 269.7M486.3 268.3M764.4 268.5M490.6 271M366.2 268.8M376.2 270.3M610.2 268.4M737.7 267.6M732.1 267.2M443.3 267.4M715.8 267.6M496 270M392 267.4M570.9 271.8M573.5 272M410.2 270.2M456.2 269.9M739.3 271M478.5 267.3M752 270.8M440.6 267.8M552.8 271.2M368.1 270.9M433.4 269.6M434.4 272M727.7 271.5M598.9 270.3M671.7 267.4M333.2 271.2M456.9 271.3M638.9 268.3M572.4 269.6M622.7 268.3M565.6 270.1M636.5 269.4M445.1 268.2M715.6 269M388.4 270.8M697.9 269.9M367.5 268.1M509.7 269.1M456.5 270.7M512.2 269.8M774.9 267.8M351.4 269.4M491.3 271.1M431.6 267.2M696.7 267.7M614.2 271.4M473.3 268.7M552.9 271.3M586.9 268.1M476.1 269.3M564.1 268.9M316.6 269.3M560.6 269.7M610.5 269.8M723.3 271.4M431.3 270M615.2 271.3M679.5 271.4M645 268.1M732 267.9M755.3 267.6M666.5 267.7M416.5 267M600.2 268.9M346.6 269.5M496.6 268.7M415.6 267.1M767.5 269.6M508.6 269.1M659.6 267.4M411.2 270.9M719.8 271.3M770 269.3M512.6 268.5M391.2 267.6M563.9 269.2M471.4 271.3M333.1 271.8M751.2 269.4M379.3 271.6M334.9 269.1M457 268.8M533.4 270.1M705.2 272M319.3 270.7M634.7 267M622 271M610.8 266.7M518.5 267.4M721.7 269.5M767 268.6M767.1 269.5M335.6 268M334.7 268.5M710.8 271.9M621.3 271.7M695.9 267.5M737.5 271.3M385 269.2M526.1 270.8M722.2 269.8" marker-start="url(#m37)" marker-mid="url(#m37)" marker-end="url(#m37)"/>
<path d="M710.8 269.4M570 271.9M387.9 266.6M317.5 270.1M504.4 271.1M579 271.8M346.7 266.7M711.4 266.3M478.2 266.5M520.5 267.5M648.3 270.4M362.1 270M746.1 267.4M688.9 270.6M425.7 267.9M433.5 267.1M525.6 266.8M408.2 270.1M567 268.8M326.7 266.7M586.4 271.4M345.5 266.4M483.2 267.3M719.2 270.3M614.6 270.6M384.6 267.6M558.7 270.4M405 268.4M450.1 270.7M662 269.9M598.8 267.4M524.1 270.8M594.8 271.8M551.6 271.5M511.7 270.2M677.2 269.9M547.1 268.3M324.1 270.9M546.6 266.8M687.5 266.3M340 270.8M511.3 267.2M629 266.9M535.9 266.8M320 269.1M645.5 269.1M419.4 266.9M635.6 269.6M441.8 270.7M470.9 270.6M459.5 271M711.3 269.8M326.8 268.4M528 271.6M474.4 270.3M495.3 269M608.3 270.9M327.4 270.8M452.3 269.8M494.7 271.2M637.9 267.4M547 267M347.5 266.3M666.9 271.8M699.1 267.9M686.8 266.7M481.7 269.2M470.5 267.6M509.8 269.6M729 266.6M537.1 268.3M317.5 267.2M736.3 268.5M731.3 267M417.4 266.8M574.3 268.2M499.3 269.3M687.8 267.5M779.1 267.5M642.7 268.6M616 270.6M556 271.2M641.2 266.6M346.4 266.9M779 269.8M495 271.9M520.4 271.7M443.5 271M482.5 268.7M762.8 268.4M538.5 271.7M379 267M326.8 267.3M700.1 269.6" marker-start="url(#m38)" marker-mid="url(#m38)" marker-end="url(#m38)"/>
<path d="M318 269.2M313.1 267.8M690.6 269M318.6 271.9" marker-start="url(#m39)" marker-mid="url(#m39)" marker-end="url(#m39)"/>
<path d="M559.5 271.1M460.1 269.6M460.6 270.5M565.6 269.2M779.3 270.9M736 270.7M426.9 267.5M746.8 268.4M505.6 271.1M694.6 271.1M619.6 267.4M714.5 271.2M570.9 267.2M334.3 270.4M626.2 266.8M653.6 271.3M683.8 269M459.6 271M643.5 269.4M470.7 269.7M598.1 266.5M685.9 269.8M615.9 269.8M492.9 271.8M541.6 266.4M441.9 266.7M353.5 268.4M376.6 270.1M609.3 269.2M322.8 269.7M720.3 268M407.1 266.3M361.7 270.6M746.9 266.9M376.5 267.4M578.8 266.9M449 268.6M724.7 268.3M656.9 266.6M359.8 267.9M394.3 271.8M338.4 270.5M555.2 269.8M435 268.6M550.4 266.6M646.4 268M725.4 267.4M532.4 270.3M689.9 270M553.3 271.9M322.6 266.9M472.2 268.2M415.9 268M434 270.8M451.1 270.8M545.2 267.9M677.1 269.2M765.3 269.3M653.4 268.6M457.5 268.1M614.5 271.4M485.2 271.2M554.5 268.9M348.7 270.1M440.8 268M648.5 267.5M322.5 267.5M715.9 267.6M507 266.9M542.3 269.3M776.6 266.5M323.4 271.2M520.9 270M556.2 266.7M382 268.6M457.2 271.7M715 268.9M332.6 267.3M421.7 269.3M544.7 271.4M482.9 266.5M594.9 270.5M572.4 270.1M410.3 271.6M480.5 271M320.3 271.6M514.5 267.8M320.6 267.1M575.1 267M596.5 270.8M699.8 267.5M606 271.5M681.6 269.1M531.7 268.9M405.2 266.4M520.4 269.9M732 267.8M530.2 267.5M708.8 269.6M485.5 267.2M460.9 268.2M355.4 269.7M717.6 270.9M468.9 270.8M698.9 269.2M650.4 270.6M549.1 269.3M772.2 271.9M510.3 266.5M398.8 271.2M764.4 266.6M537.8 268.6M633.1 267.3M436.2 270.6M448.6 270M337.9 271.5M771.6 269.1M716.6 267.6M590.7 269.8M555.4 271.1M505.8 266.7M427.1 267.4M426 269.5M617.6 268.7M581.9 271.9M572.3 269" marker-start="url(#m40)" marker-mid="url(#m40)" marker-end="url(#m40)"/>
<path d="M363.7 271.8M685.4 271.4" marker-start="url(#m41)" marker-mid="url(#m41)" marker-end="url(#m41)"/>
<path d="M321.9 271.8M317.3 272M319 269.6M592.8 270.3" marker-start="url(#m42)" marker-mid="url(#m42)" marker-end="url(#m42)"/>
<path d="M383.2 225.6M696.9 223.7M606.5 221M499.8 224.1M696.4 223.5M711.1 225.8M506.9 221.7M600.9 224.4M745.9 222M738.9 225.9M594.2 225.1M472.5 222.5M681.3 224.6M449.7 223.8M779.2 224.1M430.1 223.4M545.7 224.8M695.6 222.6M672.8 222.2M743.5 221.2M430.8 220.9M503.8 222.8M730.8 222.2M667 225.1M608.3 222.1M451.6 220.5M626.6 224.8M779 222.6M455.1 225.2M374.8 221.5M707.8 224.5M440.2 220.5M416.6 221.9M432.2 225.2M641.5 220.4M536.7 224.8M410.3 220.5M419.9 225.6M530.5 220.9M741.1 222.1M413 223.2M409.5 221.2M584.6 222.8M546.1 225.2M404.2 220.2M582.6 222.3M450.8 220.7M392.6 222.8M593.9 225.3M436.7 225.9M528 225.4M492 221.3M578.8 224.9M552 224.3M508 224.3M448.4 224.9M574.3 223.7M642.7 220.9M718.3 225.3M551.7 225.1M773.1 225M719.5 225.5M526.8 221.5M704.7 224.2M772.2 220.3M685.8 225.9M362.8 221.4M738.4 221.6M653.6 221.5M503.2 223.6M451.9 224.1M393.9 220.9M693.5 225.1M707.4 225.2M375.2 224.6M454.2 224.9M524.8 226M605.3 221.4M737.1 225.4M504 221.3M730.6 225.1M596.9 223.2M391.8 224.7M417.9 222.9M699.8 222.7M748.1 224.7M477.2 220.9M525.7 225.5M554.6 223.5M580 224.2M771.3 222.1M327.8 223M674.8 224M686.5 224.2M584.5 221.9M626.8 221.5M701.9 220.8M587.7 221.3M756.3 225M434.5 225.5M415.5 225.8M560.4 223.3M586.6 222.4M621.2 221.9M477 224.8M374 225.9M481 225M562.1 223.2M524.4 223.1M765 221.8M396.1 225.6M596.4 221.7M593.2 221.1M478 222.1M445.4 220.4M437.7 224M720 225.9M766.2 221M328 222.3M506.4 224.7M634 225.2M577.6 222.6M325.1 223.7M346.4 222.4M506.3 225.6M350 220.5M324.7 223.1M577.4 225.2M685.7 220.4M469.7 222.4M751.8 222.1M378.4 225.8M397.7 224M427.3 220.8M756.3 225.8M391.1 224.9" marker-start="url(#m43)" marker-mid="url(#m43)" marker-end="url(#m43)"/>
<path d="M473.3 221.6M480.2 224.8M453.7 223.3M690.2 224.6M530.6 222.8M691.8 222.2M766.9 223.5M562.6 222.6M677.7 221.4M774.9 220.9M385.6 223.5M550.7 222M734.2 220.4M519.3 223.2M341.3 221.4M528.4 225.3M668.5 225.1M560 222.8M496.4 220.4M449 222.2M418.2 222.3M565.8 223.6M735.4 225.3M564.1 221.4M598.3 222.3M463.3 224.4M718.1 222.5M360.9 226M381.7 224.2M509.8 220.3M422.9 224.3M648.3 222.9M670.1 221.4M670.7 224.8M422.3 220.9M772.8 221.7M451.8 220.5M348.9 221M518.9 224.7M340.3 222M569.7 220.3M757.2 222.3M442.9 222.8M358.1 221.7M584.6 222.4M337.9 222M471.8 220.2M372.8 224.9M688.5 225.6M617.9 221.9M618.7 221.1M670.3 222.2M386.9 225.1M539.3 222.3M412.6 222.5M699.8 224.9M570.6 221.3M575.7 221.9M589 223M481.1 220.7M507.1 220.8M592.5 225.6M424 224.1M460.4 220.4M331.1 220.4M381.1 225.7M578.2 223.9M408.6 220.8M690.1 220.6M410.4 223.3M541.9 223.5M436.8 224.2M465.3 224.9M534.4 222.3M611.7 221.3M607.9 224.7M767.5 224.1M457.2 221.2M487.1 223.4M566.8 223.3M575.7 220.5M600.7 225.5M602 220.8M747.8 223.8M420.8 220.9M635.9 224.2M754.6 223M681.4 221.9M603.8 220.7M529 220.9M592 225.3M326.1 225M706.4 222.2M653.3 225.5M712.3 223.4M776 225.1M738.5 223.8M353.6 223.3M688.1 220.9M578.3 222.7M348.7 223.9M429.7 221.6M597.1 221.9M703.3 220.6M492.7 221.6M662 225M552.1 221.3M401 223.5M635.2 221.6M443.5 224.1M495.6 225.4M678.1 220.9M762.9 224.4M630.6 223.6M549.1 224.4M690.5 221.8M499.7 220.7M577.9 221.3M352.4 224.7M718.2 222M593.9 224.7M531.7 224.6M392 223.4M773.1 221M748.4 223.5M469 223M391.6 225.4M328.2 221.8M425.2 223.4M358.6 223.7M633.5 223.7M772.9 224.5M572.5 222.1M556.2 222M390.2 222.2M413.6 220.9M693.2 225.9M331.6 220.8M547.4 223.6" marker-start="url(#m44)" marker-mid="url(#m44)" marker-end="url(#m44)"/>
<path d="M604.9 221M774.7 225.3M338.3 220.3M713.5 223.2M465.3 224.3M678.4 225.7M771 224.5M415.6 221.5M768.2 221.1M330 224.4M358.4 220.3M628.6 222.8M532 222.6M566.6 225.4M325.9 220.7M706.2 223.1M341.6 223M634.8 221.9M349.5 224.5M605.5 225.3M349.7 225.3M593 223.9M732.5 223.1M682.3 224M353.4 225.8M505.1 223.5M404.1 223M600.5 223.1M729.1 224.9M563 223M653 225.3M705.3 221.6M699.5 224.3M618.1 221.1M460.2 220.8M625.3 224.4M457 223.3M334.5 223.6M592.3 221.9M629.3 224.9M597.8 223M681.8 221.3M694.6 221.4M437.8 223.6M517.5 224.8M349.5 224.1M483.4 220.4M416.6 222M492.8 222.3M738 222.1M755.4 225.5M350.2 221.5M780.9 225.9M404.8 224.1M434 221.3M601.1 224.5M514.9 223.4M371.8 220.9M619.8 224.2M471.5 225.5M664.8 222.5M728.2 225.4M454.2 224M767.2 224.9M669.9 224.4M655.6 222.2M588.7 224.5M474.5 225.8M674.6 223.9M725.8 222.7M724.4 224.5M326.8 221.2M603.2 221.8M634.3 224.8M322.5 223.7" marker-start="url(#m45)" marker-mid="url(#m45)" marker-end="url(#m45)"/>
<path d="M558.9 225.3M672 221.1M726.2 222M518.2 225.8M438.1 222.7M715 224.1M458.4 223.5M481.6 221.9M447.3 222M762.3 220.4M463.1 224.4M657 225.4M431.4 224.8M495.9 223.2M336.4 223.3M691.7 225.3M763.7 224.8M767.1 223.6M585.9 221.4M574.1 225.4M742.3 225M373.1 225.9M428.8 220.4M651.2 222.3M559.6 221.2M417.6 225.3M609.7 222.1M686.1 222.9M704.9 224.6M400.9 222.3M673.6 223.3M407.5 221.5M322.1 225.2M675.2 225.6M327.8 220.5M423.9 223.4M616.1 220.9M383.1 223.5M741.2 222.1M454 221.8M671.1 224.8M598.6 224.8M551.4 225M502.9 222.6M336.4 221.5M585 223.4M468.2 225.2M489.7 225M367.3 222.8M408.2 221.1M552.8 221.2M525.5 223.6M651.3 224.2M635.3 222.7M656.8 224.8M586.4 223.3M659.7 222.9M450.3 220.8M482.6 225.7M432.8 223.9M573.5 224.6M434 221.3M647.8 222.5M324.8 224.9M451.5 225.3M640.4 224M651.4 220.4M580.8 224.2M391.6 223M710.5 221.3M413.8 223.2M569 224.2M763 222.7M355.1 222.7M567.4 225.7M567.6 220.4M450.9 225.2M617.8 225.7M499.5 222.9M681.4 224.6M684 224.1M585.2 223.6M712 221.5M744.7 223.6M380 224.5M490 225.5M772 225.9M360.2 222.7M741 222M729.5 222.9M670.2 222.2M649.2 223.3M531.5 221.2M532.5 225.4M542.2 220.5M742.4 225.7M334.8 225.1M540.5 221.3M712.4 222.2M459.2 224.6M451.7 221.4M440.5 224.6M761.3 221.7M539.8 222.8M465 221.8M597.5 221.8M586.7 224.2M480.4 224.7M606.6 223.1M745.3 224.3M335.5 223.6M704.4 222.1M751.1 221.7M549.3 220.5M379.3 224.7M528.8 225.6M752.6 225.4M481.3 221.1M405.6 223.4M741.6 223.1M377.5 224.6M671 225.2M485.1 223.7M482 221.4" marker-start="url(#m46)" marker-mid="url(#m46)" marker-end="url(#m46)"/>
<path d="M625.8 225.5M396.6 221.3M616 223.7M720.1 220.5M554.7 223.1M490.7 222.4M659.8 222M661.7 224.3M523.2 223.9M539.1 221.5M653.7 223.5M362.9 224.4M328.4 222.4M685.7 221.8M632.6 224.3M635.1 224.4M360.9 224.6M492.8 222.6M496.8 222.4M506.4 223M424.6 222M442 222.7M325.2 224.9M548 220.3M680 222.9M396.7 223.1M714.4 223.3M440.4 222.8M340.1 223.8M456.4 220.5M680.2 220.8M408.6 221.1M381.9 221.7M352 222.6M640.8 223.1M602.9 222.5M373.9 220.4M744.1 220.9M586.5 221.4M416.8 220.3M475.2 220.6M578.1 222.5M344.2 221.1M567 222.3M569.5 224.4M538.9 222.1M636.3 224.8M419.9 224.3M620.1 221.4M494 221.9M617.3 225.7M620.2 225.6M366.2 222.5M763.4 222.3M429.4 222.5M472 222M351.1 221.8M441.9 223.4M708 224.1M506 223.2M533.5 225.2M391.5 220.5M331.2 221.5M657.5 221.3M445.4 223.3M335 221.9M323.3 220.5M342.9 221.6M317.3 224.9" marker-start="url(#m47)" marker-mid="url(#m47)" marker-end="url(#m47)"/>
<path d="M379.1 221.2M711.9 226M349.9 222.5M509.1 223.8M761 225.2M325.5 222.3M635.5 224.9M538.5 225.5M344.5 220.3M515.8 223M328.7 223.1M577.5 222.8M672.2 224.1M535.8 224.2M441.5 222.1M364 221.4M462 222M695.1 222.9M527.7 220.6M346.8 222.8M576.2 222.5M715.6 224.8M359.1 225M438.3 221.1M436.8 221.3M361.2 223.2M331.3 221.7M725.5 220.9M533.2 221.3M452.4 224.5M470.5 220.3M459.2 221.5M445 225.4M508.5 224.8M604.8 222.3M526.3 223.6M436.9 220.8M519.1 223.7M670.8 222.8M636.5 223.4M654.4 223M415.2 220.4M540.9 221.1M617.2 221.1M619.7 220.3M601.5 221.9M395.4 224.7M561.8 221.2M421.9 220.6M680.6 224.8M357.5 221.9M574.9 222.8M682.9 221M378.1 222.9M562.5 225M726.2 221.6M404.6 221.7M759 221.1M625.1 223.4M421.9 221.3M474.4 223.5M346 222.9M562.9 225.1M679.1 221.3M441.5 224.2M591.7 222.9M413.5 225.8M718 224.2M732 224.5M567 223.1M718.4 222.4M431.6 224.3M325.6 224M317.5 225.4M342.7 220.6" marker-start="url(#m48)" marker-mid="url(#m48)" marker-end="url(#m48)"/>
<path d="M731.6 273.9M667.3 276.8M362.8 276.6M708.1 277.3M770.7 272.6M648.5 277.4M559.8 275M397.1 275.6M396.2 273.2M418.5 274.2M751.8 277.2M636.8 272.2M373 274.5M531.5 273.8M551.5 277.5M599.6 274.2M717.5 275M336.3 273.8M332.5 273.4M480.5 272.7M347.6 273.6M623.4 276M738.2 272.1M340.5 276.7M487.2 273M438.7 272.6M382 273.9M471.5 272.7M585.7 277.2M437.9 275.2M671.1 275.9M663.3 274.3M630.7 272.2M588.3 272.8M447.6 272.1M580.8 275.5M633 273M555 275.4M333 272.2M342.1 272.7M653.6 272.1M731.3 276M635.9 277.7M338.7 275M475.4 273.4M383 274.7M772.5 274.8M405.7 273M768.2 275.1M686 276.2M567.6 273.8M449.3 276.1M589 273.6M492.5 274.5M362.8 275.6M418.5 275M489.5 275.6M552 277.7M579.8 275.9M365.7 276.3M460.7 272.2M536.5 273.5M443.7 273.3M701.5 274.8M499.4 273.3M447.3 276.4M363.9 274.7M685.2 275.9M389.8 272.3M504.8 275.5M505.5 276.2M601.6 273.2M531.8 276.3M677.2 275.9M659 274.3M685.8 272.3M670.3 274.7M532.1 272.7M647.7 277.1M721.1 274.7M444.3 272.6M517.2 277M571 275.6M430.3 273.9M427.5 275.8M444.9 274.9M459.4 274.8M765.6 273.1M685.5 272.5M403.2 276.8M430.4 273M474.7 275M333.5 274.7M385.5 274.9M539.4 272.5M553.7 272.5M437.7 277.1M334.3 275.6M359.4 276.3M759.9 273.4M646.1 274.9M531.9 274.6M636.7 273.5M617.4 275.3M685.5 275M393.7 272.9M341.7 276.8M683.2 274M568.1 272.3M378.3 276.5M402.7 272.1M433.4 272.4M363 276.8" marker-start="url(#m49)" marker-mid="url(#m49)" marker-end="url(#m49)"/>
<path d="M769.5 272.3M613.6 275.1M324.1 272.2M509.4 272.7M641.7 274.5M592.3 276.1M399.3 275.8M508.3 277.3M527.4 277.5M603.9 272.2M383 274.9M719.2 276.6M710.9 277.5M581.2 277.5M440.5 277.3M490.9 275.3M549.1 276.6M460.4 275.8M521.5 277.3M490.3 277M336 277.6M718.6 275.5M754.3 277.2M631.3 273M609.9 274.5M735.5 277.1M713.4 272.9M350.9 274.4M767.4 273.8M592.2 277.4M577.9 274.7M594.8 277.4M396.7 276.4M440 275.9M411.9 274.1M493.6 273.6M689.7 273.3M691.2 272.8M347.1 272.5M603 274.4M337.9 272M621.6 275.7M482.8 276.5M341.6 273.7M335 273.7M406.3 274.9M333.3 274.2M702.4 274M317.8 272.8M666 276.5M656.7 272.7M324.2 275.5M752.1 274.7M516 275.4M707.9 275.4M383.5 275.6M381 273M641.6 275.8M422.8 273.2M771.6 276.7M731.4 276.1M531.2 272.4M347.5 275.8M544.8 276.2M621.2 275.4M480.5 273.2M449.3 274.5M333.5 274.9M377.5 275.1M323.1 274.1M525.8 275M499 273.9M681.4 276.5M688.8 275M668.4 277.8M562.9 274.5M448.8 273.8M505.4 276.2M560.2 274.9M509.7 276.6M737.5 274.5M472.4 277.4M432.8 274M615.4 274.8M402.8 276.5M514.5 274.2M770.1 276.7M768 272.6M551.7 276.9M516.2 273.6M706 273.7M536.4 276.9M564.9 276.6M679 273.2M711.4 277.7M325 272.1M765 277M642.8 273.1M558.2 274.6M555.5 275.6M703.9 277.6M434.2 275.3M355.2 273.1M592 273.4M319.9 276.5M393.6 277M476.8 277.7M337.6 273.2M332.8 273.7M521.1 276.9M393.8 276.9M480.8 273.6M560.3 275.1M504.4 274.5M378.5 275.5M491.9 276.2M674 275.5M528.2 274.4M673.4 275.6M381.5 276.8M580.7 277.6M427.2 273M365.9 274.7M716 276.9M340.1 274.6M564.2 273.3M322.1 274.6M724.4 273.4M364.5 275.4M709.8 273.6" marker-start="url(#m50)" marker-mid="url(#m50)" marker-end="url(#m50)"/>
<path d="M601.6 275.5M320.1 275.3M643.5 276.6M680.7 274.3M388.9 276.8M669.5 276.9M497.4 276M605.2 275.8M687.4 277.4M507.1 275.5M686.5 273.9M737.8 276.3M354.7 277.7M515.5 276.7M754 272.4M327.8 277.8M676.1 277M474.9 275M686.1 273.9M596.8 276.1M595.8 276.3M549.2 276.4M592.4 276.1" marker-start="url(#m51)" marker-mid="url(#m51)" marker-end="url(#m51)"/>
<path d="M544.3 275.9M331.9 277.6M772.5 276.9M620.1 274.2M657.9 274.3M543.5 276.3M558.2 272.9M532.1 277.5M508 274.1M687.2 276.6M484.9 277.6M594.2 274.6M588.2 273.6M731.3 275.9M444.2 277.6M702 273.2M767.7 272.2M388.2 276.2M757.1 276.3M451.1 275M544 277.5M681.7 276.6M684.8 276.6M686.3 274M591.8 276.6M391.4 276.4M526.2 275.7M743.7 275M468.3 274.2M569 272.7M437.1 274.4M547.3 277.2M595.3 275.5M408.5 274.2M505.1 276.2M413.3 276.3M701.4 277.3M702 274.2M750.8 275.6M509.7 276M357.1 276.7M639.3 273.2M561 275.9M428.4 275.4M564.8 273.8M768.1 275.6M414.3 275.5M681.7 275.1M548.1 274.6M703.1 276.2M359.3 273.3M491.8 274.3M628 277.1M358.8 276.6M324.8 276.8M414.6 272.3M695.7 275.9M330.7 272.8M561.7 273.4M485.1 273.3M634.6 277.8M675.7 276.3M340.9 277M779.9 275.2M670.7 275.3M462.9 275.5M565.2 277.4M349.8 277.8M510.8 274.8M449.1 276.7M697 272.6M725.1 274M559.5 274.4M727.3 275.7M560.7 272.9M676.5 277M366.2 276.6M486.2 277M325.4 274.6M720.6 272.7M439 276.4M524.5 273.6M364.6 277.7M597.2 273.6M721.1 275.6M615.7 273.8M615.9 274.6M426 273.6M372.6 273.5M721.8 273.7M707.8 273.2M392.2 272.3M452.5 273.8M668.3 272.4M685.5 272.1M664.8 273.7M608.6 272.4M661.9 277.3M322.3 276.4M534.8 272.7M691.2 273.8M481.3 276M354.1 273.6M600.3 275.2M674.7 273.6M406.3 273.7M529.2 273.5M460.5 275.8M705.7 274.2M776.5 274.2M321 277M390.4 274.3M591.6 275.8M650.4 276.9M689 277.4M426 275.4M375.1 275.7" marker-start="url(#m52)" marker-mid="url(#m52)" marker-end="url(#m52)"/>
<path d="M544.4 274.9M690.5 272.4M325.5 274.1M592.8 276.6M320.3 273.6M595.6 275.8M742.3 275.9M370.4 274.4M681.4 277M318.9 276.9M319 272.1M543.5 277.1M400.2 277.6M422 277.7M690.6 274.6M610.2 277.3M330.1 277.1M366.3 274.8M685.5 276.9M502.8 275.4M611 273.9M693.8 277.4M682.8 275.8" marker-start="url(#m53)" marker-mid="url(#m53)" marker-end="url(#m53)"/>
<path d="M541.8 277.3M690.5 273.1M760.5 273.1M336.7 276.8M758.2 275.7M543.2 273.9M773.7 275M501 275.3M600.6 275.8M698.4 277M640.9 277.4M594.4 274.3" marker-start="url(#m54)" marker-mid="url(#m54)" marker-end="url(#m54)"/>
<path d="M372 217.3M425.4 215.2M467.7 215.2M337.9 216.8M654.9 219.3M739.2 219.7M436 219M353.8 215.5M729.3 217.3M375.8 219M455.5 216.9M523.4 216.1M612 217.8M750.9 220.1M600.5 218M446.2 215.4M597.9 214.8M408.4 214.5M775.7 215M719.3 219M635.8 215.7M618.5 218.4M591.1 215.5M392.3 219.8M388.3 216.6M767.6 219.1M524.3 216.2M335.8 219.7M743.6 215.9M732.4 219.2M722.3 219.2M552.8 216.1M744.8 219.4M727.9 217.3M542.4 218.8M753.9 216.3M366.1 215.5M598.2 219.5M441.3 217M669.3 218.7M574.8 216.6M662.9 217.1M506.5 217.9M724 216.6M341.4 216.5M443.8 218.9M331.2 215.1M626.3 217.8M594.7 215.1M332.8 219.4M775.3 216.6M637.2 220M418.3 214.9M384.6 217.1M488.7 216.8M690.9 216.8M348.5 218.8M495.9 216.6M383.8 214.8M392.5 218.6M326.9 218.2M411.3 217.7M713.9 214.6M692.1 219.9M336.7 216.2M441 215.7M748.6 218.9M431.5 216M628.9 216.8M520.1 217.3M501.4 219.5M393.1 214.5M696.6 217.6M465 215.4M368.2 215.7M482.1 215.5M633.2 218.6M635.6 218.8M609.7 215.1M712.6 219.7M382 216.6M431.6 220.1M613.5 217.2M617.1 215.4M748.1 217.4M713.3 217.9M718.2 217M464.6 217.6M378.1 216.5M593.1 217.2M469.1 215.2M446.6 219.6M686.1 216.4M632 219.7M394.3 217.7M599.3 216.2M428.4 218.7M592.1 217.4M560.6 218.3M760.5 216.1M495.2 215.4M668.5 218.9M679.9 218.7M663.1 216.8M670.1 216.9M366.5 217.3M339.6 218.6M339.2 216.7M533.7 215.2M743.9 215.3M780.1 215.5M481.1 218M706.9 215.3M438.3 215.5M455.7 219.4M389.4 216.1M556.5 219.7M745.9 217.2M717.5 214.9M634.8 216.4M397.1 214.5M408.5 219.9" marker-start="url(#m55)" marker-mid="url(#m55)" marker-end="url(#m55)"/>
<path d="M549.5 219.4M554.4 214.9M380.8 215M348.9 215.1M505.2 217M738.5 220.1M585.7 216.6M488.2 215.8M680.3 216.1M722.9 219.1M486.3 219M429.3 215.5M732.3 219.2M360 218.7M757 216.3M342.5 218.9M364.6 214.9M560.7 215.3M345.8 215.4M550 215.6M384.6 218.4M422.5 218M658.3 215.7M592.1 218.9M676.5 218.3M620.9 218M671.2 219.3M508.1 218.3M414.4 216.3M413.7 220.1M512.8 218.6M619.3 216.5M682.5 215.1M530 216.4M480.3 218.4M534.1 216.4M417.7 220.2M710.9 220M590.8 217.3M709.2 217.6M722.1 216M560.2 216.4M765.6 219.9M704.9 216.3M736.7 217.3M646.9 216.9M547.5 219.2M760.8 219.1M771.4 217.9M468.9 216.4M774.7 217.1M758.6 220.2M407.1 215.4M551.5 218.7M392.9 214.6M619.6 214.9M406.1 215.3M388.3 219.8M771 214.7M428.5 216.2M740 217.1M419.6 215.2M333.8 214.6M613.9 216M483 216.4M432.6 219.7M640.6 217.4M533.5 214.5M478.4 214.7M562.6 215.6M401.1 216.2M410.2 218.7M632.8 218.7M770.6 219.8M597.2 214.7M473.8 218.4M478.3 216.8M343.2 219.3M666.6 220.2M715.4 219.4M733.9 217.8M668.5 219.4M676 220M332.8 219.7M726.9 219.9M441.7 217.6M590.7 216.7M488 215.4M675.4 219.5M752.9 215.7M586.2 214.7M567.7 217.3M460.8 219M543.5 220.1M381.2 217.2M534.9 218.4M458 220.2M573 216.6M665.7 219.3M750.4 218.3M669.4 218.7M460 219.8M707.4 214.7M588 214.7M371.3 219M328 219.3M631.1 217.2M510.4 214.7" marker-start="url(#m56)" marker-mid="url(#m56)" marker-end="url(#m56)"/>
<path d="M502 218.4M441.2 218.3M617.3 217.6M568.2 217M577.8 216.6M426.9 216.7M384.9 216.8M619.5 218.8M723.4 218.8M755.1 216.4M719.7 217.3M612.8 219.2M397 219.6M746.8 218.1M696.5 214.8M699.8 215.6M407.2 215M521.6 216.9M530.2 215.5M539.1 215.4M606.2 217.4M512.1 218.2M454.5 216M654.1 217.8M484 216.4M404.5 218.6M364.4 217.9M356 220M349 219.8M655.3 219.1M676.4 218.3M544.4 219.6M354.3 219.2M732.5 215.8M464.3 214.5M521.4 215.8M389.4 218.8M657.9 219.4M720.9 215.8M437.8 219.5M346.2 219.9M503.6 216.7M457.9 217.5M702.1 218.5M354.2 219.8M502.8 217.7M727.3 216.8M470.6 217.4M334.3 219.2M681.8 216.6M679.3 215.1M434.7 218.3M596.4 216M521.8 219.9M577.9 219.1M462.2 216.8M408.2 218.5M434.3 218.1M753.8 214.9M558.1 215.2M750.4 220.2M438 219.4M513.1 216.9M513.3 215.5M497.9 220.2M705.6 214.8M667.6 219M499 218.5M731.4 219.3M748.9 214.9M756.4 216.8M485.1 219.1M334.3 218.2M485.2 218.7M597.6 217.5M611.9 217M374.6 216.1M645.1 219.2M354.6 218.9M771 217.6M470.8 217.1M427.3 216.4M707.5 218.8M351.1 216.1M564.2 215.5M692.2 216.7M390.7 215.4M674.3 217.8M608.2 216.2M422.6 214.7M413.8 215.6M424.1 216M635.3 215.9M540.1 218.4M693.3 217.5M715.9 215M580.4 219.8M486.8 216.1M675.9 217M513.6 218.3M603.2 218.6M362.9 220.2M444.2 218.1M404.2 215.1M741.2 214.9M339.7 219.4M471.9 219.7M449.2 214.7M771.9 216.7M522.6 220.1M755.2 215.6M576.9 217.8M360.7 217.3M353.9 219.7M496.5 216.9M665.2 216.5M662.5 215.5M754.5 215.6M670.7 215.7M661.5 220.1" marker-start="url(#m57)" marker-mid="url(#m57)" marker-end="url(#m57)"/>
<path d="M566.8 215.2M525.9 214.8M634.7 218.8M647.3 220.2M673.3 217.8M673 215.5M354.4 216.2M599.3 217.7M353.9 217.8M658.6 220M774.7 218.9M549.6 215.8M615 220M394.9 216.9M498.3 215.6M746.7 217.5M727.4 215.7M730.2 216.9M474.5 215.4M444.3 217.1M708.6 216.3M417.3 220M456.6 216M541.9 217.1M407.8 219M433.9 217.9M653.4 218.4M736.1 218.8M687.3 215.8M452.9 214.5M434.8 218.5M724.1 215.3M353.8 218.4M367.8 218.1M418.3 215.9M366.4 219.7M363.9 216.3M509.2 214.8M491.7 216.7M459.8 219.1M482.5 219.1M507.2 217.9M428.3 219.5M737.3 215.4M637.2 215.2M461 216.7M619.6 218.1M778 216.7M585.2 216.3M601.5 219.4M471.2 217.6M408.3 215.6M749.8 218.3M697.4 218.8M616.6 216.9M486.4 217.3M653.9 218.8M480.1 214.6M598.8 218.6M358.7 217.9M673.4 218.1M463.9 217.6M729.5 215.7M410.1 217.1M625.8 219.3M694.4 218M398.7 216.4M494.3 215M585.7 217M338.1 215M617.3 217.5M696.7 216.7M583.6 219.6M650.5 218.2M346.9 219.4M604.4 217.3M672.7 217.3M606 219M398.6 216.4M627.6 217.5M701.8 215.5M607.5 216.8M372.7 220.1M754.3 215.1M479.5 219.4M720.9 220.2M430.4 219.6M475.5 220.2M470.8 218.2M698.8 218.9M728.9 215.2M382.8 214.6M626 219.9M457.7 217.5M335.8 219.4M400.3 215.6M774.9 217M516.2 218.4M379.5 218.7M578.1 217.3M563.4 218.6M408.2 216.7M599 219.9M516.9 219.1M755.6 216.6M656.1 216.9M649 219.7M476.2 218.4M371.9 217.2M346.7 215.1M452.9 218.5M596.5 215.9M434.6 219.2M474.4 217.8M640 215M748.1 217.1M484.4 220M772.7 220.2M605.7 217.2M469.9 217.9M606.4 218.7M737.7 216.4M714.7 216.1M390.9 219.8M637.4 216.2M688 214.7M668.3 216M468.7 220.2M761.7 216.8M349.5 217M416.7 219.8M677.9 216.7M577 220.1M485.5 214.7" marker-start="url(#m58)" marker-mid="url(#m58)" marker-end="url(#m58)"/>
<path d="M362.9 217.1M482.1 217.7M760.6 219.6M569.6 214.7M491 218.4M570.4 215.1M565 216.2M507.5 214.8M603.9 216.3M753.9 217.3M460.2 217.8M478.4 217.8M378.4 218.5M748.5 217.5M404.5 215.3M634.9 219.5M632.5 219.2M498.9 214.9M605.5 215.3M406.5 214.8M421.2 216.5M596.6 219.7M534.5 218.2M454.9 216.4M631 216.8M763.1 216.1M560.3 214.6M510.4 215.4M368 216.5M762.6 219.9M349.2 217.8M332.8 219.4M730.5 218.9M369.4 218.5M651.8 214.5M609.6 218.6M565.3 215.9M731.6 219M766.9 215M651.3 214.8M523.4 215.6M466.6 218.5M559.2 216.6M515.2 214.5M548.7 219.7M496.1 214.6M419.9 217.6M368.6 216.7M327.6 217.8M365.7 214.7M519.9 218.3M599.8 217M666.8 219.5M465.6 215.4M648.2 217.1M326.8 218.9M543.2 217.5M476.1 216.3M390.7 216.2M770.8 219.2M352.1 214.9M770.7 215.9M775.7 216.9M371.4 217.1M473.5 216.1M557.6 214.7M527.8 218M395.6 220.1M467 215.7M506.7 218.3M652.7 218.3M572.8 216.5M627.1 217.6M724.2 215.1M641.8 216.5M445.1 216.3M580.2 219.6M732.9 217.5M757.6 216.6M397.6 217.7M356.7 217.9M602.9 216.4M333.7 218M463.3 218.9M561 220.1M404 216.6M651.5 214.8M514.1 216.6M634.4 217.4M714.8 217.8M346.4 217.9M723.8 215.5M578.2 218.8M450.5 216.4M621.9 217.6M659.2 216.3M396.1 215.3M363.6 214.6M666.8 216.8M441.7 217.3M435.4 215.9M654.7 217.3" marker-start="url(#m59)" marker-mid="url(#m59)" marker-end="url(#m59)"/>
<path d="M328.3 219.1M397.3 219.5M638.1 217.5M673.2 219.4M751.7 216.3M404.5 219.4M597.6 219.8M453.7 217.7M390.4 217.7M345 217.7M346.7 216.5M383.7 216.4M490 219.4M505 217.7M540.7 218.7M639.3 219M624.8 218.5M727.4 214.7M392.3 215.9M477.6 215.5M598.6 218.9M745.4 214.6M447 214.8M627.1 218.1M418.1 215.1M576.3 215.9M449 219.1M737.2 216.4M590.9 219.7M599.4 215.8M525.2 216.2M378 216.3M758 215.2M601.7 217.5M344 217.9M529.1 217.2M531.1 217.8M391.5 215M558.3 216.1M441.1 217.8M416 215.9M742.2 219.6M575.4 219.6M520.5 216.5M398.2 219.3M506 217.9M455.2 215.3M506.3 214.5M526.7 216.4M668.2 217.2M609.9 217.1M350.2 216.4M508.2 218.5M715.5 214.6M417.8 217.8M544 216.7M443.1 219.7M603.8 217.8M627.7 219.4M711.9 216.3M397.9 219.1M346.7 220M554.2 219.4M466.8 219.7M748.5 214.8M553.4 219.3M466.9 214.7M596.2 219.9M723.8 216.6M487 218M588.4 216.4M344.3 219.1M522.6 216.4M519 215.2M369.2 216.9M724.4 215.8M760.6 219.5M698.4 214.8M617.4 217.9M690.2 214.6M566.2 214.9M544.9 219.5M475.9 219.4M617.6 217.5M543.1 216.4M626.6 216.3M580.7 216.6M682.6 219.6M692.7 215.5M559.4 215.3M703.3 214.7M389.4 218.2M593.5 216.2M437.7 219.6M632.9 217.8M516.6 216.4M669.2 217.9M731 214.8M473.3 219.6M690.7 216.3M766 218.6M562.7 215.8M425 219.3M493.3 216.9M730.3 219M701.6 218.9M449.4 217.9M685.7 216.5M534.7 219M440.5 215.1M657.9 214.9M596.4 214.8M354.2 217.9M342.4 217.1M342.9 219.2M600.2 216M496.2 214.7M440.8 214.5M337.9 217.4M448 217.3M589.7 215.5M597.7 217.5M662.2 217.9" marker-start="url(#m60)" marker-mid="url(#m60)" marker-end="url(#m60)"/>
<path d="M695.4 281.2M531.4 283M626.5 279.5M606.3 278.8M590.6 279.4M363.7 278.8M629.9 280.5M345.4 278.9M749.7 283.2M326.6 279.3M326.8 280.3M516.3 278.3M590.4 277.9M606.2 278.4M571.6 280.6M593.7 279.6M564.7 282.5M451.5 282.1M355 283.1M363.1 278.2M720.2 282M681.3 282.1M506.9 279.9M348.7 281.3M391.1 279.1M497.2 279.3M766.6 282.1M709.3 279.2M396.3 282.5M545.8 283.5M405.8 278.5M408.3 283.4M728.7 280.5M664.7 281.4M427.4 280.9M577.4 282.3M434 279.7M332.4 282.7M651.8 281.1M514 279.2M378.4 278M485.7 279.3M626.1 282.4M709.1 278.6M375.6 280.3M457 278.1M343.8 278.5M325.2 279.9M535 281.6M644.2 281.8M396.5 278.1M329.7 278.4M330 279.7M577.6 279.9M594.1 282.7M684.3 278M490.5 279.6M658.7 282M443.9 279.5M555.4 277.9M492.7 279.9M565.9 283.1M545.2 281.4M764.7 278.3M493.8 283M392.3 280.8M463.1 281.3M642.7 280.2M417.3 283.4M418.9 278.5M668.2 278.9M689.3 281.7M437 281.4M555.2 282.1M650.7 283M732.7 278.2M513.2 278.5M381.3 281.9M382.7 282.8M354 279.5M752.3 280.3M731 282.2M735.2 280.4M335.4 277.8M451.7 281.2M689.4 282.9M485.6 282.7M617.6 280.6M589.7 281.5M586.3 282M611.2 280M680.7 281.6M393.2 278.8M442.9 280.3M339.4 280.8M655.7 280M606 282.2M477.1 281.3M340.3 282.7M757.5 281.4M733.6 278.5M739.2 279.7M740 278.2M332.3 278.5M719.4 282.7M725.5 278.4M531.9 278.7M466.1 280.8M386 283.5M558.4 279M664.3 279.3M542.6 283.2M738.5 282.5M433.8 279.4M659.9 282.5M365.7 281M344.2 280M719.6 278.2M519.7 280.2M731 283.5M387.3 281.8" marker-start="url(#m61)" marker-mid="url(#m61)" marker-end="url(#m61)"/>
<path d="M500.6 279.7M355.8 278.4M780.1 280.2M706.6 279.7M592.2 281.6M456.4 280.4M534.4 283.3M741.3 279.9M424.8 282.3M449.8 283.2M447.7 282.3M619.9 278.7M348.2 278.5M539.6 283.5M425.4 278.9M534 280.4M778.2 278.8M650.2 280.3M481.2 280.4M687.4 283.5M644 281.5M330.5 278M348.7 279.5M625.7 278.6M738.6 279.3M749.1 277.9M456.3 278M699.6 281M765.6 278M638.4 282.7M440.2 278M323.4 278.3M338.7 278.2M543.2 280.3M738.4 279.6M662.4 278.1M365.7 280.2M454.3 280.7M429.1 281.7M741.3 282.7M765.7 281.6M327.5 283.1M351.6 283.4M586.9 279.8M747.3 279.9M588 279.4M473.5 283.1M616.2 278M725.4 280.9M508.3 278.6M584.6 278.4M621 279.3M632.7 277.9M714.5 280.7M348.7 278.9M537.7 280.9M439.8 283M460.3 280.4M731.3 280.6M544.9 280.5M668.3 281.2M563.7 278.8M394.6 280.4M423.7 282.4M702.2 278.4M531.4 280.6M727 278.1M453 282.3M636.2 283M404.8 282.2M641.6 281.4M560.6 281.8M587.1 278.7M619.1 278M530.1 278.6M379.7 283M437.3 279.4M586.6 278.9M383.4 282.9M739.3 279.7M758.8 280.3M747.3 278.9M596.5 279.8M666.5 281.7M350.2 283.5M583.1 278.2M327.9 282.4M600.6 279.4M716.4 279.3M687 281.4M521.9 279.8M498.7 280.1M476.8 278M689.9 283.5M526.3 281.6M463.1 280.8M327.3 282.5M370.1 282.9M329.6 280.7M530.1 278.7M381.8 283.3M450.7 281.7M732 280.3M727.8 281M549.3 280.5M750.4 282.4" marker-start="url(#m62)" marker-mid="url(#m62)" marker-end="url(#m62)"/>
<path d="M720.2 283.3M368.2 282.5M370 281.6M477.4 279.7M604.5 277.9M416.4 278.9M363.9 282.4M598.8 279M671.3 282.7M601.4 281.8M709.4 279.8M476.1 283.2M656.4 280.2M724.5 279.6M778.9 282.8M579 281.6M474.9 280.3M696.7 281M324.7 282M581.7 282.7M546.4 282.5M597.9 281.8M760.3 279M764.5 278.3M416.5 283.3M366.3 280.4M669.3 278.7M450.9 281.3M672.3 279.3M549 279.4M578.6 282M546.3 279.7M659.3 279.6M358 283M608.5 281.5M514.6 278.8M589.9 282.6M588.1 281M346.6 278.7M640.4 280.7M683.1 280.9M757.7 283.1M515.4 279.9M770.8 278.9M344.7 278.7M772.8 278.2M599.6 281.9M760.5 283.5M537.8 281.1M641.2 282.8M333.5 279.3M388.9 283.5M595.6 282.4M725.8 282M598.9 280.7M658.5 279.8M409.8 278.3M759.8 278.7M597.9 282.6M673.1 280.4M395.4 282.1M709.5 282.6M573.8 282.1M695.6 283.4" marker-start="url(#m63)" marker-mid="url(#m63)" marker-end="url(#m63)"/>
<path d="M327.2 280.7M596.5 279M429.7 279.1M407.2 282.9M695.1 280.1M731.4 281.2M438 278.9M594.1 282.2M656.5 283.2M755.9 282.7M741.6 279.1M654.7 282.6M431.8 277.8M432.8 278M697.2 280.1M435 281.2M580.9 280.9M757.8 280.1M738.5 283.6M477.6 281.8M549.7 278M683.2 281.9M774.6 283.3M440.3 278M610.9 278.2M624.2 283.5M389.9 278.1M529.8 280.6M592.6 281M538.9 279.2M621.7 281.2M385.8 279.3M718.5 281.7M579.6 279.8M388.3 278.3M459.7 279.2M486.5 281.1M403.5 282.8M701 279.2M619.2 278.2M774.2 283.2M735.2 281M615.4 283.2M595.9 278.9M548.2 282.2M668.5 279.5M486.9 281.6M732.9 281.1M474.3 280.1M780.4 281.8M728 281M742.7 282.3M651.3 281.1M570 281.2M449.7 280.7M418.1 282.3M539.1 278M470.1 283.1M670.6 280.3M360.5 281.4M532.5 282.8M632 283.3M371.5 278.1M383.3 280.9M459.4 282.9M764.1 280.1M392.9 278.7M754.7 278M562.9 279.4M541.9 281.4M650.3 278.2M611.2 282.6M378.1 282.8M503.6 281.6M579.9 280.8M386.7 279.2M471.5 279.9M700.4 277.8M696.2 282.1M372.4 282.8M326.8 279.7M555.1 279.4M547.3 280.2M494.4 278.6M444.4 281.4M738.1 279.3M359.2 281.3M504.4 282.6M709 281.3M737.8 282.8M618.2 279.3M433.2 279.6M698.9 280M440 281.4" marker-start="url(#m64)" marker-mid="url(#m64)" marker-end="url(#m64)"/>
<path d="M594.7 278.9M730.2 283.2M728.3 280.9M336.2 278.3M495.8 279.1M479.7 278.1M411.2 278.7M510.6 283.4M594.8 283M373 278M567.3 280.9M639.8 283.1M625.3 278.7M754.1 279.9M349.5 282.9M695.2 283.4M764.6 281.8M406.7 280.1M771.7 278.1M511.3 283.3M721.8 281.7M710.9 280.3M605.7 280.4M447.1 281.9M562 280M684.2 278.6M332.6 282.8M412.2 282.4M696 281.9M504 282M518.4 280M344.1 280.8M497.8 281.4M550.1 279.8M499 280M360.8 282M321.6 278.5M742.5 278.7M395.1 283.1M660.3 282.5M704 281M723.5 279.6M678 279.8M635.1 283.1M636.9 280M452.9 280.8M588.2 279.1M503.9 282.5M479.6 283.1M649.8 280M365.7 282.6M394.8 282M684.9 280.8M368.7 278.7M731 282.9M607.8 281.1M485.3 283.3M373.1 279.9M545.7 283.3M761.9 279.4M484.3 280.5M486.8 279.9M603.9 280.1M628.5 279.4M682.4 283.2M692.2 283.3" marker-start="url(#m65)" marker-mid="url(#m65)" marker-end="url(#m65)"/>
<path d="M619.3 283.2M443.6 283.1M332.2 280.1M577.7 283M542.3 283.1M534.7 281.6M694.5 279.2M538.8 278.6M399.5 282.7M380.7 280.8M608.2 278.6M651.2 282.2M771.9 279.8M381.5 281.9M461.7 283.4M547.5 283.5M731.1 280.6M684.3 282.4M705 279.1M453.3 282M731.7 278.7M674 283.1M326.8 280.3M579.2 280.3M613.8 283.3M753.7 281.2M482.7 278.7M686.6 281.7M680.3 282.6M763.5 277.8M726.4 279.3M479 278M368.3 281.8M590.8 280.1M358.9 278.1M729.4 278.2M543.9 281.3M401.8 283.1M762.8 278.1M599.5 281.8M549.5 281.1M416.7 278.7M426 283.2M492.6 279.7M703.5 283.4M423.9 283.1M517.9 282.6M549.3 281.1M502 279.6M365.6 283.2M778.3 283.1M372.1 282M679 281.6M691.3 279.3M682.3 282.5M325.2 281.6M453.6 283.1M392.6 279.2M350.7 280.9M472.5 283.1M372.1 281.2M734.3 283.4M432 283.5M660.8 280.7M370 282.6M629.4 281.2M618.2 282M599.1 281.4M686.3 279.7M597.4 282.7M694.2 281.9M623.6 279.7M657.3 281.3M510.2 277.9M630 282.3M691.8 279.1M507.2 279.7M498.6 278.3M562.4 281.4M652.2 281.2M474.5 279.4M738.2 283.5M694.9 280.8M535.7 280.5" marker-start="url(#m66)" marker-mid="url(#m66)" marker-end="url(#m66)"/>
<path d="M761.5 213.5M754.4 213.7M716.9 213.5M460.4 214.1M530.5 214.2M673.3 213.5M450.4 213.9M346.3 214M462.1 214M338.1 213.9M339 214.1M732.8 213.4M428.8 214.2M576.3 213.7M338.6 213.7M348.4 213.6M552.8 214.1M348 214.3M388.7 214.1M419.2 214.2" marker-start="url(#m67)" marker-mid="url(#m67)" marker-end="url(#m67)"/>
<path d="M416.3 214.5M590 214.4M623.6 213.8M569 214M588.6 213.9M508.6 214.2M450.4 214.4M339.4 213.6M534.8 213.6M759 214.3M689.7 213.7M410 213.9M740.5 214M723.4 213.9M751.1 213.4M769.3 214M649.5 213.3M587.2 213.6M533.8 213.4M466.5 213.7M607.5 213.6M743.3 214.3M458 213.4M771 213.6M526.2 214.3M743.2 214M701.7 214M748.2 213.9" marker-start="url(#m68)" marker-mid="url(#m68)" marker-end="url(#m68)"/>
<path d="M731.9 212.7M404.9 213.8M398.7 212.1M368.4 213.4M495 213.2M566.7 213.7M538.6 213.2M582 210.4M464.3 214.5M633.8 213.5M330.7 210.7M587.6 212M386.3 209M671.2 213.6M650 210.6M572 214.2M730.4 213.1M751.8 211.4M378.7 210.6M487.6 212.6M539.5 213.3M365 212.5M735.1 214.4M612.5 213.5M650.2 212.4M704.8 213.4M561.3 214M776.1 211.4M739.4 212.2M447 214.4M451.2 212.6M738.9 214.4M706.9 214.2M378.7 211.8M700.7 214.1M737.1 210.2M404.5 213.4M770.9 212.1M638.5 211.6M457 212.4M645.9 212.2M386.2 211.1M404.6 211.9M674.4 212.4M773.9 212.2M767.9 214.5M543 210M576.3 211.8M406.7 213.1M380 212.1M412.9 214.3M459.1 211.3M492.2 211.9M700.4 209M520.7 213.3M363.1 211.3M404.4 211.9M417.1 213.1M626.3 213.6M697.3 211.1M762.1 213.9M359.9 211.4M403.8 213.2M391.9 209M779 212.9M779 213.2M585.9 209.2M588.6 211.6M711.2 211.3M723.1 209.6M730.8 212.8M624.2 210.4M363.7 209.8M350.3 214.4M430.6 211.6M372.4 211.8M758.3 210.8M769.6 211.1M751 210.4M749.6 208.8M588.5 209.9M599.6 213.8M343.6 209.3M341.9 212.1M726.5 210.5M606.3 210.6M599.9 214.2M564.2 209.8M565.1 213.1" marker-start="url(#m69)" marker-mid="url(#m69)" marker-end="url(#m69)"/>
<path d="M618.3 213.4M609.1 214M739.3 214M528 213.5M688.4 214.1M547.6 213.9M623.3 213.7M441 213.9M442.7 214M487.6 213.9M482.7 213.5M500.9 213.3M743.7 214M730.6 214.4M402.9 213.7M705.1 213.9M611.9 214M551.6 213.3M601.2 214.1M572.1 214.2M551.3 213.8M762.1 214.2M599.6 213.9M481.3 214.2M671.7 214M463.2 214.2M555.2 214.1M532.1 214.4M576.3 214.2M727.5 213.9M625.6 213.9M378.3 213.5M553.7 214M717.7 214" marker-start="url(#m70)" marker-mid="url(#m70)" marker-end="url(#m70)"/>
<path d="M577 210.5M461.7 213.5M606.4 211.6M650.6 212.9M571.2 213.4M550 213.2M387.4 213.2M710.2 213.1M685 214.1M379.8 213.1M582.1 209.8M533.8 213.1M778.3 213.8M370.7 211.6M405 212.2M693.2 213.2M614.2 214.4M577.8 210.1M765.8 213.8M743.3 211.2M712 213.2M671.5 212.7M482.6 209M748.8 211.5M479.7 211.3M752.8 212.4M576.9 211.4M710.6 211.7M749.1 213.9M752.3 211.2M383.4 212.9M331.3 213.3M364.2 213.2M505.6 213.2M381.4 211.7M737.2 212.6M744.7 209.1M589.4 212.3M648.7 213.5M746.6 213.3M407.2 213.7M735.2 209.3M460.5 212.2M603.9 214.1M551.6 213.5M329.3 211.8M780 213.5M707.8 210.4M409.4 213M590.7 209.4M350 209.9M696.7 211.6M675.5 212M464 209.8M682.7 214M709.7 209.3M680.6 211.2M403.2 209.8M503.9 214.1M433.2 213.8M555.6 210M654 208.9M637.2 210.4M694.4 212M767.7 211.7M769.5 212.9M398.7 210M402.4 211.2M381.9 210.5M329.2 213.4M333.7 210.6M779 211.1M592.5 209.4M727.8 210.9M430.3 214M379.4 213.3M754.9 213.5M576.9 211.5M636.2 211.6M349.4 209.4M456.1 210.6M573.4 212.2M750.3 213.4M751.6 211" marker-start="url(#m71)" marker-mid="url(#m71)" marker-end="url(#m71)"/>
<path d="M569 214.1M543.9 214.1M380.1 210.9M633.9 212.5M568.3 211.9M455.1 211.4M555 212.9M744.4 211.3M631.5 214.5M653.2 213.4M635.3 213.4M456 212.6M706.1 213.2M375.1 213M556 214.1M329.9 213.2M402.2 212.9M675.8 211.9M548.9 214.5M745.8 211.4M454.2 213.5M605.8 212.4M479.2 212.7M648 210.6M448.7 213.5M672.8 211.3M769.9 212.4M748.7 214.4M718.7 211.9M456.2 213.2M332.4 213M458.9 212.5M636.3 211.1M740.5 209M693 212.6M777.7 212.5M575.3 211.1M777.2 213M612.1 211.1M495.3 214.4M772.9 211M488.1 211.2M585.2 213.2M641.1 210.2M486.3 212.7M717.6 213.9M603.1 213.4M386.7 211.2M772.4 212.3M746 212.8M744.6 213M573.1 211.6M738.3 209.8M561.5 213.4M672.9 213.5M571.8 213.1M722.7 212.7M458.3 214.1M571.1 210.9M636.3 210.4M578.6 209.6M575.7 211.7M500.2 213.2M532.4 213.8M401.6 209.9M497.4 211.7M777.9 210.2M722.2 210.3M469.7 210.1M699.5 210.3M650.5 209.7M495.5 211.5M604.7 208.9M331.3 211M517.7 213.9M359.4 214.4M408.5 212.4M768.6 212.1M460.4 209.2M761.6 211.9M764.4 212M409.2 210.7M378 211.6M324.3 211.8M777.9 210.4M591.3 210.2M595.3 212.3M721 212.8M721.4 209M490.9 210.7M429.5 212.6M374.1 214.2M760 214.1M603.8 213.2M573.9 212.2M760.1 212.7" marker-start="url(#m72)" marker-mid="url(#m72)" marker-end="url(#m72)"/>
<path d="M630.7 287.6M443.8 285.6M750.8 288.4M374 286.4M400 287.6M526.8 289M408 286.7M427.4 289.3M390.6 284.2M381.8 287.3M520.4 289.1M630.2 285.2M637.2 285.6M455.8 288.1M394.3 288.7M544.1 287.9M443.9 287.9M481.7 289.3M335.3 284.2M585.8 286.4M457.5 286M528.7 287.5M619.6 287.1M582.3 284.4M668.8 284.6M338.4 287.1M714.2 288.9M545.1 288.3M625.4 288.2M651.8 289.1M464.7 289M506.7 288.5M609.1 284.7M692.1 286.7M343.3 289.2M400.6 286.3M743.8 286.5M386 287.5M650.4 285.4M339.9 283.7M490.7 287.5M380.5 287.6M707.9 287.7M542.5 284.9M616.2 284.2M478.4 288.1M344.9 286.3M407.2 289.2M558.7 289.2M699.8 288.4M622.5 287.5M412.7 286.9M504 288.6M661.6 287.4M423.5 288.5M566.5 287.7M661.4 288M343.1 289.3M667.2 287.2M385.7 288.9M429.2 287.7M695.9 287.4M513.1 288.1M463.2 286.5M413.1 289.2M477.9 286.7M752.4 286.4M523.9 286.9M615.7 286.8M767.3 286.6M448.2 289.1M394 289M708.2 284.7M541.1 284.3M340.4 285.2M552.3 284.4M523.7 285.7M645.5 286.8M583.6 289.3M730.5 287M515.7 285.4M541 289.1M534.1 288.1M595.7 288.1M469.1 287.6M724.5 287.8M433.8 284.6M623.8 284.5M737.2 288.8" marker-start="url(#m73)" marker-mid="url(#m73)" marker-end="url(#m73)"/>
<path d="M704 288.2M447.7 288.5M357.7 285M609.4 285.5M414.5 285.4M644.5 287.2M327.2 285.8M730.1 284.6M533.3 285.9M400.5 283.6M468 286.1M754.3 283.9M546.6 286.6M679.6 283.6M467.5 284M580.4 288.6M478.6 287.5M404.4 289.3M671.5 287.3M416.7 287.9M531 286.4M661.6 286.4M675 287.2M524 288.5M592.9 286.3M584.9 284.1M421.6 287M763.6 288.2M556.5 283.9M529.5 288.3M709.5 286.7M355.6 286M780.3 286.1M366.7 287M658.9 287M338.8 286.1M771.1 284.4M381.2 285.8M484.5 288.6M376.4 284.9M490.3 289.3M489.2 288.4M771.5 286.1M490.8 289.3M631.5 286M551.8 285.3M610.8 288.1M445.7 288.2M669.2 284.9M507.2 289.1M739.2 284.8M598.7 286.5M403.5 286.1M553.1 285.4M679.1 287.6M692.6 286.7M756.2 283.6M746.2 287M650.1 285.5M543.3 285.7M486.8 286.8M628.3 285.8M389.4 289.3M438.5 287.8M608.8 285.6M357.7 284.9M762.6 284.1M404.6 287.5M409.1 283.6M522.7 284.9M334.8 286M481.2 286.5M477.8 287.5M334.6 287.5M521.4 283.7M370.3 284.4M572.7 285.1M773.1 287.3M538.1 289.2M718.9 287.2M565.8 286M734.5 288.5M379.3 285.1M387.6 285.2M451.6 284.9M371 285.8M351.1 288.3M343.5 287.6M743.7 285.8M502.8 289.2M563.8 288.4M355.9 286.1M357.7 283.9M625.2 284M710.6 288.4M612.5 283.9M606.8 286" marker-start="url(#m74)" marker-mid="url(#m74)" marker-end="url(#m74)"/>
<path d="M777.6 284.6M392.2 284.7M375.3 288.8M551 284.3M772.6 287.6M581.6 284.7M714.2 284.9M757.2 287.6M697.8 288.1M388.3 286.3M734.8 288.5M750.2 284.2M590.4 285.5M369.2 288.3M523.3 289.2M535.7 287.1M358.9 285M482.8 287.9M357.6 285.6M592.9 284.3M504.7 286.8M597.9 284.3M634.7 287.9M650.4 286.7M769.5 287.4M708.6 288.7M583.6 287.7M469.8 285.4M647.4 286.6M741.9 285.2M672.3 286.2M779.1 285.6M368.1 285.1M595.9 283.8M539.2 286.6M470.3 288.1M420.7 285.8M702.9 286.6M488.8 284.2M769 288M421 288.9M354.1 288.2M650.1 284.2M514.7 288.1M513 286M551.4 283.8M759.7 286.3M524 289M472.4 287.8M374.7 288.8M490.2 288.6M347.2 286.4M639 286.4M600.5 286.6M605.8 287.9M658.7 283.6M398.7 288.2M428.1 288.9M417.6 289.1M774.9 288.6M485.1 285.6M422.1 285.4M630 285.3M437.7 287.8M335.2 286.6M745.3 284.9M462.2 288.6M724 285.6M533.8 285.8M729.8 288.5M644.7 288.4M742.4 288.8M760.2 285.3M619.3 287.4M717.5 288.6M759.4 285M731.4 289M510.4 284.7M480.7 283.7M766.2 284.1M694.6 288.3M755.2 286.5M691.6 287.9M597.3 286.8M511.2 287.5M499.4 285.8M498 286.9M546.6 285.2M696.5 288.4" marker-start="url(#m75)" marker-mid="url(#m75)" marker-end="url(#m75)"/>
<path d="M678.8 286.7M346.2 286.6M664.3 286.2M602.5 287.6M712.7 284.1M602.4 287.4M580.6 284.7M601.8 289.3M547.7 284.5M339.6 287.5M343.6 285.4M677 289M427.8 286.6M624.2 287.3M580 289.3M604.6 286.7M345.5 288.7M539.3 285.3M539.6 285.6M774.2 285.8M684.4 286.1M615.8 288.5M431 288.2M442.3 284.6M388.1 283.8M455.3 288.3M476.6 286.5M593 285.3M544.3 287.8M475.8 284.2M602.7 289.2M638.7 284.4M593.7 287.2M624.7 289.3M648 287.1M437 285.3M521.5 286.7M765 285M519.9 285.5M345.9 287.9M328.8 283.8M654.3 288.4M702.4 283.6M584.3 284.1M542.9 285.9M602 286.5M449.5 287.5M504.7 284.2M411.1 286.4M683 285.7M606.1 286.1M772.2 289M622.2 284.6M602.3 283.8M433.6 286.7M451 285.8M577.1 283.6M377.1 288M454.7 283.8M370.9 284.7M725.2 285.8M462.6 288.1M330.8 288.4M370.9 285.4M550.2 285.4M569.8 287.7M486.7 286.5M407.2 285.4M505.3 286.8M701.4 284.2M684.8 284.6M754.1 285.6M478 289.1M707.7 285" marker-start="url(#m76)" marker-mid="url(#m76)" marker-end="url(#m76)"/>
<path d="M661.7 287.8M764.9 288.8M410.8 287M640.4 289M542.2 286.9M372 286.6M578.5 285.2M540.3 286.2M498.1 285.2M450.9 288.9M412.9 285.5M762.3 289.3M465.5 285.2M345.3 287.1M379.6 284M720.8 287.9M499.4 284.6M489.6 284.3M436.1 287.9M476.2 285.5M487.3 286.7M541 286.4M719.7 288.8M466 288.9M529 286.5M392 289M706.8 285.2M416.4 285.6M604.4 285.6M626 285M733.4 286.9M414.9 284.3M391 287.7M356.9 284.2M453.6 284.3M589.7 284.2M606.3 286.7M418.8 289M440.2 284.8M445.3 289.1M732 288M761.2 284.8M609.5 283.9M575 284.2M625.7 287.1M396.8 284.4M733.6 286M581.3 284.7M620.7 286.7M328.2 286.6M476.1 288.6M560.3 284.7M749.5 288.8M760.8 285.2M642.9 284.1M491.2 288.1M452.6 287.1M648.5 284.9M534 284M491.6 288.9M611.6 289.1M575.4 287M703.4 286.9M624.3 286.6M506.6 288.4M737.5 288M369.9 284.1M320.4 284M683.9 288.2M499.3 286.8M548.2 285.8M393.6 286M680.5 287.5M736.6 287.7M737.1 288.7" marker-start="url(#m77)" marker-mid="url(#m77)" marker-end="url(#m77)"/>
<path d="M433.5 288.4M585.3 286.4M544.2 286.4M446.9 286.2M744.6 285.1M594.8 284.8M492.6 283.7M780 288.6M330.1 289.1M459.2 285.1M765.7 284.7M445.3 288.8M671.4 284.4M335.5 288.1M326.8 285.3M766.2 286.5M699 287.5M649.6 287.2M656.9 287.6M419.7 288.4M630 286.2M773 283.6M679.6 288.1M336.6 286.8M662.2 285.4M496.1 289.1M563.3 285.4M772.9 288M776.7 289.1M541.4 285.8M507.4 287.4M416.2 287.5M675.9 284.2M580.5 285.6M340.5 285.6M777.6 288.2M416.6 285.5M700.5 286.7M395.9 288.8M533.3 285.5M665.6 286.4M577.2 285.5M357.7 284.9M765.5 286.7M768.4 289.3M350.7 288.1M749.9 285.1M737.8 286.8M677.9 285M652.9 285.5M509.6 284.1M455.9 285.9M400.3 286.3M764.5 284.5M483.8 286.9M351.1 289.2M509.6 285.2M643.8 283.6M346.8 288M717.5 286.5M577.3 287.2M352.9 287.3M415.1 287.4M584 287.6M703.4 288.4M529.6 289.2M616.6 284.2M626.6 286.1M765.7 283.9M383.6 284.5M511.2 287.7M697.8 285.3M707.3 284.8M522.1 286.5M720.5 287.9M475 287.2M369.4 287.3M395.2 287.8M396.7 286M461.6 284.3M640.9 289.2M365.4 287M506.4 289.2M602.2 289.2M688.2 283.9M504 287.2M626.5 288.9M737 288.7M735.7 288.2M767.9 287.6M680.3 286.8M697.1 289.1M694.6 285M685.5 289" marker-start="url(#m78)" marker-mid="url(#m78)" marker-end="url(#m78)"/>
<path d="M646.4 207.1M583.2 207.5M550.3 204.8M649.9 207M370.1 204.9M544.8 204.4M405.1 205.9M757 205.3M386.2 203.9M717 204.5M336 205.5M375.9 206.5M584.2 205.5M587.6 207.8M667.8 208.2M731.7 207.5" marker-start="url(#m79)" marker-mid="url(#m79)" marker-end="url(#m79)"/>
<path d="M610.4 206.4M610.8 207.1M736.7 207.6M548.4 208.4M645.5 206.7M737.9 208M609.2 207.8M546.1 207.1M718.1 207.7M770.3 208.1M613.6 205.1M735.2 208.2M581.7 205.4M744.9 204.2M547.2 205M771.4 206.9M384.3 207M711.3 203.7M779 208.4M633.3 207.6M369.6 205M576.9 205.9M676.5 206.7M456.5 206.6M464.6 207M460.3 203.5M564.3 207.3" marker-start="url(#m80)" marker-mid="url(#m80)" marker-end="url(#m80)"/>
<path d="M646.4 204.2M741.6 208.2M741.5 208M750 204.3M635 208.3M612.6 204.6M550.9 207.5M744.1 204.2M344 205M354.2 208.6M384.4 208.1M342.7 206.7M779 203.6M592.4 207.1M376.1 203.3M746.9 203.3M592.6 207.8M606.1 206.9M607 206.2" marker-start="url(#m81)" marker-mid="url(#m81)" marker-end="url(#m81)"/>
<path d="M490.7 289.8M334.1 291.6M747.2 292M510.5 291.1M528.5 291.8M435.4 290.6M603.5 289.4M565.5 291.6M452.6 291M343.9 290.2M650.6 290.9M550 291.5M492.2 291.3M517.4 289.7M565.5 292.2M395.5 291.3M537.6 290.2M551.9 291.9M712.9 290.2M394.4 290.6M422.1 290.5M547.8 290.5M329.8 289.6M442.5 291.7M645.7 291.8M451.1 289.5M644.2 292M356.4 289.8M617 291.7M604.6 290.5M548.8 290.6M731.6 291.2M581.3 289.7M707.1 291.5M682.8 290.8M431.2 290.9M338.8 290.5M408.3 290.6M651.1 289.9M720.9 289.5M387 291.1M625.3 291.7M369 291.2M564.4 290.2M439 290.1M572.5 289.4M738.9 291.2M744.1 290.9M735.2 289.3M584.9 289.5" marker-start="url(#m82)" marker-mid="url(#m82)" marker-end="url(#m82)"/>
<path d="M461.5 290.8M552 291.9M661.1 291.8M601.6 291.3M603.6 290M729.2 292.2M637.6 290.9M549 290.1M770.9 291.2M699.6 290M473.6 291.3M398.1 290.1M374.8 291.3M555.1 291.4M486 290.2M494.1 290.4M405.4 291.6M462.6 289.8M467.8 291.6M477.3 290.8M555 289.5M559.1 291.2M445 289.5M521.1 291.7M756.1 289.6M619.8 290.3M751.1 290.3M726.8 290.9M511.8 291.1M578.5 290M575.3 290.5M691 289.8M630.7 291.7M602.4 289.9M333.4 290.1M539.9 291.5M595.3 291.6M570.4 291.4M684.2 291M597.2 291M503.6 291.2M442.5 290.9M536.2 290.8M688.5 290.5M369.7 291.4" marker-start="url(#m83)" marker-mid="url(#m83)" marker-end="url(#m83)"/>
<path d="M388.7 289.5M716.7 295M617.7 295M552.1 289.3M451 294.7M343.5 292.7M412.6 294.7M710.5 292.1M710.1 293.4M352.6 290.8M631.9 291.6M746.9 291.5M649.6 292.2M450.2 291.3M639.7 292.8M378 294.9M584.8 294.5M744.8 293.7M715 292.6M670.2 291.8M420.7 289.9M705.8 294.5M706.2 293.2M538.5 294.8M620 292.9M622.2 292.3M534 294.3M422.8 292M466 290.1M552.2 291.1M624.8 290.7M383.1 291.5M746.1 292.1M704.2 294.5M517 294.1M513.6 292.5M623.9 289.7M712.7 291.9M622.7 292.3M667.9 290.1M708.5 293.8M328.1 290M331.8 292.1M494.6 292.7M354 292.2M401.9 293.9M338.1 290M392.4 290.6M739.6 289.9M532.1 289.4M496.9 289.5M722.3 291.6M448.1 292.9M580.4 292M467.6 294M412.3 289.6M435.3 291.4M701.5 293.9M409.6 294.4M673.6 294M770.4 291.5M409.9 294.3M482.6 290.9M602.7 290.1M642.9 294.7M508.1 289.5M504.7 289.4M720.6 294.5M709.5 294.3M353.8 292M343.6 292.9M418.2 290M417.2 293.1M742.5 293.4M629.7 290.2M624.2 294.6M398.9 294.3M398.9 293.8M450.9 293.4M711.9 293.9M722.5 292.8M447.6 292.3M697 289.7" marker-start="url(#m84)" marker-mid="url(#m84)" marker-end="url(#m84)"/>
<path d="M750.5 289.6M395.5 291.1M707.7 291.6M765.7 290.2M385.6 290.4M721.5 292.5M707.5 290.2M568.8 289.6M573.5 290.9M776.2 289.4M404 289.7M677.2 290.7M751 290.6M652.6 290.9M419.2 290.4M468.2 291.4M569.5 290.4M416.8 289.6M736 291.5M698.2 292.4M654.1 291.5M380.9 290.7M664 292M777.5 289.7M540.8 289.7M493.2 290.7M469.6 290.9M626.2 289.4M677.3 289.8M403.7 291.8M504.2 290.1M748.1 290.6M648.4 291.4M546.5 291.9M582.5 290.1M766 291.3M550 289.6M700.3 291.4M753.4 289.3M397.7 291.4M475.4 290.1M522.8 291.3M562.7 291.2M496.3 291.5M714.1 289.6M527.7 291.4M774 292.4M667.7 291.6M749.7 289.3M697.2 290.7M613.6 291.6M584.1 291.7M687.7 291M368.3 290.8M350.9 290.6" marker-start="url(#m85)" marker-mid="url(#m85)" marker-end="url(#m85)"/>
<path d="M731.8 289.5M668.8 291.3M708.3 289.8M488.2 290.4M583.7 294M662.3 292.2M675.5 290.3M356.2 290.5M512.8 294.7M676.9 289.6M486.1 292.5M353.8 291M464.5 292.6M572.2 293.9M617.3 290.3M431.4 290.8M462.4 294.1M428.3 294.9M612.8 292M672.4 294.2M716.4 293.8M641.6 292M543.3 291.3M415.3 294.7M578.6 293.8M614.1 290M441.6 292.4M740.8 291.9M619.5 293.8M564 294.1M513.5 292.2M517.2 293M657.3 291.2M374.6 289.9M736.1 289.9M338.1 291.4M410.5 292M552.4 292.9M713.9 292.2M515.9 292.1M728.7 291.8M540 292.3M561.3 291.2M623 292.5M416.1 290.4M513.6 290.7M344.4 291.3M574.5 290.2M656 294.1M573.8 290.7M660.5 289.8M657.2 292.5M621.8 291M527.7 290.9M657 293M450.8 293.1M622.2 292.9M744 290.4M460.3 294M748.4 289.5M395.5 290M642 290.5M740.9 291.4M585.5 292M708.6 294.3M647.5 290.6M336.7 292.5M610.6 289.5M392.6 289.9M706.7 293.7M733.7 292.9M549.6 294M485.4 291.7M479.6 290.4M698.2 294.1M357.9 293.5M604 290.9M473.3 290.8M720.9 294.4M630.1 291.7M710 294.7M774.9 290.3M764.8 290M644.5 291.8M657.5 294.8M678.4 290.8M669.6 290.6M423.7 294.2M427 293.8M618.4 294.9M347.5 290.2M343.4 291.6M634 290.5M623.8 293.7M512.9 292.4M408.1 295.1M678.9 290.3M673.4 292.3M738.1 289.7M694.6 292.1" marker-start="url(#m86)" marker-mid="url(#m86)" marker-end="url(#m86)"/>
<path d="M488.2 289.4M625.4 291.9M491.3 294.2M380.9 291M530.1 294.4M399.3 290.6M720.4 291M431.8 294.5M413.8 293.2M508.1 289.7M424.2 289.5M532.6 294.4M520.5 292.6M655.5 294.1M458.7 290.1M375.7 289.8M444.1 289.4M703.4 294.1M471 292.6M742.7 291.1M616.9 291.4M464.6 289.6M669.9 290.8M470 289.4M718.8 289.4M649.8 290.2M387.3 291.7M647.9 293.6M344.5 290.1M459.2 292.4M727.1 289.5M428.6 293.9M616.1 290.5M464.8 294.9M705.8 291M453.7 292M453.9 292.1M673.7 291.1M566.1 290.5M671 294.1M639 289.8M703.3 290M384.5 292.2M493.1 292.1M349.9 289.8M333.5 291.1M660.7 293.8M719.3 292.1M711.2 289.8M670.5 292M473.4 292.2M464.9 293M727.4 291.3M538.4 291.6M425.6 289.4M402.1 291.6M746.1 290M336.6 290.5M417.7 291.9M376.7 290M555.8 291.2M779.8 289.6M705.4 290.4M686 291.4M339 294.2M755.2 290M587.8 290M766.7 292.9M332.4 293.7M481.5 289.8M430.9 294.1M357.2 292.7M359.9 290.7M356 290.7M416.5 292.6M418.8 289.6M730.2 291.9M409.4 293.8M699.3 293.5M692.5 291.3" marker-start="url(#m87)" marker-mid="url(#m87)" marker-end="url(#m87)"/>
<path d="M380.4 201.2M582.1 202.8M732.9 198.7M575.1 198.1M576.5 201.8M575.1 202.9" marker-start="url(#m88)" marker-mid="url(#m88)" marker-end="url(#m88)"/>
<path d="M746.2 202.1M333.7 198.9" marker-start="url(#m89)" marker-mid="url(#m89)" marker-end="url(#m89)"/>
<path d="M728.9 198.8M384.1 200.9M457 199.7" marker-start="url(#m90)" marker-mid="url(#m90)" marker-end="url(#m90)"/>
<path d="M440.9 299.5M522.5 296M461.2 296.6M517.1 296.5M467 296.5M618.7 295.9M465.5 299.6M434.9 300.2M555.5 297.2M403.7 298.3M563.7 296.5M457.7 300.7M435.3 298.3M376.2 297.6M563.3 295.7M660.3 295.3M464 299.6M619.2 295.8M662.9 299.9M406 297.2M710.1 299.6M585.1 296M343.9 299.6M423.3 298.1M554.3 299.1M456.6 298.7M723.4 299.1M518.5 297.8M706.7 297.7M649.8 298.6M432.3 298.7M514.2 299.1M776.1 297.8M454.4 297.6M450.6 297.2M674 300.2" marker-start="url(#m91)" marker-mid="url(#m91)" marker-end="url(#m91)"/>
<path d="M553.6 300.1M449.2 297.6M553.8 295.5M530.7 295.5M719.6 296.2M529.4 295.9M524.4 295.6M460.2 297.1M553 298M562.1 296M451.3 295.7M441 299.6M555.9 299.5M576.4 295.6M655.1 295.2M456.7 296.6M376.1 296.6M468 295.7M449.4 295.2M571.6 296.8M747.8 295.1M713.4 295.4M722.5 295.3M714.6 295.8M714.7 296.8M668.4 295.9M622.9 295.6M538.6 298.7M729.7 297M520.3 300.6M518 297.1M720.8 295.7M663.8 298M447.3 296.4M439.9 297M444.5 299.1" marker-start="url(#m92)" marker-mid="url(#m92)" marker-end="url(#m92)"/>
<path d="M377.7 295.9M380.9 295.9M653.3 295.3M465.6 300.3M525.7 298M556.1 298.4M376.5 298.7M459.6 300.3M526.2 295.6M521 298.2M619.5 296.4M433.1 296.5M430.5 296.2M562 297.6M443.6 295.8M553.7 297.3M413.7 295.1M491 298.9M338.9 300.1M492.1 299.5M451 297.9M524.8 300.5M584.9 296.2M446.1 298.2M337.7 296.7M553.8 298.7M744.1 296.6M714.5 299.9M524.4 300.3M468.4 299.7M495 295.6M648.3 295.7M554.3 300.4M441.5 297.6M451.7 299.2M435.5 300.7M451.1 298.2" marker-start="url(#m93)" marker-mid="url(#m93)" marker-end="url(#m93)"/>
<path d="M672.3 197M558.8 195.7" marker-start="url(#m94)" marker-mid="url(#m94)" marker-end="url(#m94)"/>
<path d="M646.9 197.2" marker-start="url(#m95)" marker-mid="url(#m95)" marker-end="url(#m95)"/>
<path d="M518.8 302M386.6 302.2" marker-start="url(#m96)" marker-mid="url(#m96)" marker-end="url(#m96)"/>
<path d="M439.4 302.6M463.4 306.6M452.7 301.3M720.7 304.5M778.9 304.4M441.1 300.9M446.4 304.8M719.9 301.4M673.8 302M658.8 301.2" marker-start="url(#m97)" marker-mid="url(#m97)" marker-end="url(#m97)"/>
<path d="M462.7 301.1M377.9 301.9M376.3 301.2M445.9 302.7M522.5 304.8M522.9 303.4M557.7 301M451.9 302.6" marker-start="url(#m98)" marker-mid="url(#m98)" marker-end="url(#m98)"/>
<rect x="302.9" y="233.9" width="9.2" height="36.0" rx="3.6" fill="url(#g1)"/>
<rect x="302.9" y="233.9" width="9.2" height="36.0" rx="3.6" fill="url(#cyl)"/>
<path d="M644 203M499 203" marker-start="url(#m99)" marker-mid="url(#m99)" marker-end="url(#m99)"/>
<path d="M772.6 201.2M597.8 199.5M442.9 199.5M340 198.4" marker-start="url(#m100)" marker-mid="url(#m100)" marker-end="url(#m100)"/>
<path d="M363.7 295.1M405 298" marker-start="url(#m101)" marker-mid="url(#m101)" marker-end="url(#m101)"/>
<path d="M405.9 165M411.5 169.6M421.4 192.6M464.3 188M512 184.5M522 181.1M528.6 176.5M574.7 182.8M586.3 192.6M629.2 178.2M635.7 189.7M619.3 192M666.4 160.4M670.4 184.5M710 176.5M714.9 178.2M756 188M761 194.3M696.7 196.1M545 194.9M456 196.1M336 194.3" marker-start="url(#m102)" marker-mid="url(#m102)" marker-end="url(#m102)"/>
<path d="M383 341.1M453.7 317.5M457.8 321.6M465.6 317.5M504.9 308.9M524.3 306.6M535.3 304.9M552 318.7M575.5 307.7M575.5 338.2M590.7 314.6M606 318.7M624 321.6M647.5 328.5M630.8 306.6M665.4 313.5M701.4 303.7M712.5 314.6M748.5 308.9" marker-start="url(#m103)" marker-mid="url(#m103)" marker-end="url(#m103)"/>
<path d="M173 381.2 L176 380.4 L179 379.5 L182 378.7 L185 377.8 L188 376.5 L191 375.1 L194 373.8 L197 372.4 L200 371.1 L203 368.8 L206 366.6 L209 364.3 L212 362 L215 362 L218 362 L221 362 L224 362 L227 362 L230 362 L233 362 L236 362 L239 362 L242 362 L245 362 L248 362 L251 362 L254 362 L257 362 L260 362 L263 362 L266 362 L269 362 L272 362 L275 362 L278 362 L281 362 L284 362 L287 362 L290 362 L293 362 L296 362 L299 362 L302 362 L305 362 L308 362 L311 362 L314 362 L317 362 L320 362 L323 362 L326 362 L329 362 L332 362 L335 362 L338 362 L341 362 L344 362 L347 362 L350 362 L353 362 L356 362 L359 362 L362 362 L365 362 L368 362 L371 362 L374 362 L377 362 L380 362 L383 362 L386 362 L389 362 L392 362 L395 362 L398 362 L401 362 L404 362 L407 362 L410 362 L413 362 L416 362 L419 362 L422 362 L425 362 L428 362 L431 362 L434 362 L437 362 L440 362 L443 362 L446 362 L449 362 L452 362 L455 362 L458 362 L461 362 L464 362 L467 362 L470 362 L473 362 L476 362 L479 362 L482 362 L485 362 L488 362 L491 362 L494 362 L497 362 L500 362 L503 362 L506 362 L509 362 L512 362 L515 362 L518 362 L521 362 L524 362 L527 362 L530 362 L533 362 L536 362 L539 362 L542 362 L545 362 L548 362 L551 362 L554 362 L557 362 L560 362 L563 362 L566 362 L569 362 L572 362 L575 362 L578 362 L581 362 L584 362 L587 362 L590 362 L593 362 L596 362 L599 362 L602 362 L605 362 L608 362 L611 362 L614 362 L617 362 L620 362 L623 362 L626 362 L629 362 L632 362 L635 362 L638 362 L641 362 L644 362 L647 362 L650 362 L653 362 L656 362 L659 362 L662 362 L665 362 L668 362 L671 362 L674 362 L677 362 L680 362 L683 362 L686 362 L689 362 L692 362 L695 362 L698 362 L701 362 L704 362 L707 362 L710 362 L713 362 L716 362 L718 362 L718 401.5 L716 401.5 L713 401.5 L710 401.5 L707 401.5 L704 401.5 L701 401.5 L698 401.5 L695 401.5 L692 401.5 L689 401.5 L686 401.5 L683 401.5 L680 401.5 L677 401.5 L674 401.5 L671 401.5 L668 401.5 L665 401.5 L662 401.5 L659 401.5 L656 401.5 L653 401.5 L650 401.5 L647 401.5 L644 401.5 L641 401.5 L638 401.5 L635 401.5 L632 401.5 L629 401.5 L626 401.5 L623 401.5 L620 401.5 L617 401.5 L614 401.5 L611 401.5 L608 401.5 L605 401.5 L602 401.5 L599 401.5 L596 401.5 L593 401.5 L590 401.5 L587 401.5 L584 401.5 L581 401.5 L578 401.5 L575 401.5 L572 401.5 L569 401.5 L566 401.5 L563 401.5 L560 401.5 L557 401.5 L554 401.5 L551 401.5 L548 401.5 L545 401.5 L542 401.5 L539 401.5 L536 401.5 L533 401.5 L530 401.5 L527 401.5 L524 401.5 L521 401.5 L518 401.5 L515 401.5 L512 401.5 L509 401.5 L506 401.5 L503 401.5 L500 401.5 L497 401.5 L494 401.5 L491 401.5 L488 401.5 L485 401.5 L482 401.5 L479 401.5 L476 401.5 L473 401.5 L470 401.5 L467 401.5 L464 401.5 L461 401.5 L458 401.5 L455 401.5 L452 401.5 L449 401.5 L446 401.5 L443 401.5 L440 401.5 L437 401.5 L434 401.5 L431 401.5 L428 401.5 L425 401.5 L422 401.5 L419 401.5 L416 401.5 L413 401.5 L410 401.5 L407 401.5 L404 401.5 L401 401.5 L398 401.5 L395 401.5 L392 401.5 L389 401.5 L386 401.5 L383 401.5 L380 401.5 L377 401.5 L374 401.5 L371 401.5 L368 401.5 L365 401.5 L362 401.5 L359 401.5 L356 401.5 L353 401.5 L350 401.5 L347 401.5 L344 401.5 L341 401.5 L338 401.5 L335 401.5 L332 401.5 L329 401.5 L326 401.5 L323 401.5 L320 401.5 L317 401.5 L314 401.5 L311 401.5 L308 401.5 L305 401.5 L302 401.5 L299 401.5 L296 401.5 L293 401.5 L290 401.5 L287 401.5 L284 401.5 L281 401.5 L278 401.5 L275 401.5 L272 401.5 L269 401.5 L266 401.5 L263 401.5 L260 401.5 L257 401.5 L254 401.5 L251 401.5 L248 401.5 L245 401.5 L242 401.5 L239 401.5 L236 401.5 L233 401.5 L230 401.5 L227 401.5 L224 401.5 L221 401.5 L218 401.5 L215 401.5 L212 401.5 L209 400.4 L206 399.3 L203 398.1 L200 397 L197 395.2 L194 393.4 L191 391.6 L188 389.8 L185 388 L182 386.9 L179 385.7 L176 384.6 L173 383.5 Z" fill="url(#g2)"/>
<path d="M180.2 379.2M175 380.4M173.9 380.8M180.8 378.6M182.8 376.5" marker-start="url(#m0)" marker-mid="url(#m0)" marker-end="url(#m0)"/>
<path d="M184.6 377.2M183.4 377.9" marker-start="url(#m104)" marker-mid="url(#m104)" marker-end="url(#m104)"/>
<path d="M175.6 384.4M183.9 387.5M173.9 383.9M176.7 384.3" marker-start="url(#m2)" marker-mid="url(#m2)" marker-end="url(#m2)"/>
<path d="M185.7 388.9M185.1 388.7" marker-start="url(#m3)" marker-mid="url(#m3)" marker-end="url(#m3)"/>
<path d="M184.1 387.9M176.4 384.9" marker-start="url(#m105)" marker-mid="url(#m105)" marker-end="url(#m105)"/>
<path d="M192.7 373.9M193.5 373.8M197.7 372M201.9 372" marker-start="url(#m4)" marker-mid="url(#m4)" marker-end="url(#m4)"/>
<path d="M191.3 374.5" marker-start="url(#m5)" marker-mid="url(#m5)" marker-end="url(#m5)"/>
<path d="M197.6 373.5M193.2 373.9M189 374.7M198.7 370.5M187.5 374.7" marker-start="url(#m106)" marker-mid="url(#m106)" marker-end="url(#m106)"/>
<path d="M190.8 391.1M200 395.2" marker-start="url(#m6)" marker-mid="url(#m6)" marker-end="url(#m6)"/>
<path d="M189.3 389.3" marker-start="url(#m7)" marker-mid="url(#m7)" marker-end="url(#m7)"/>
<path d="M196.7 394.3M187.6 389.9M192.2 393.7M189 391.8" marker-start="url(#m107)" marker-mid="url(#m107)" marker-end="url(#m107)"/>
<path d="M216.6 363M698 363M241.3 364.5M349.1 362.8M251.2 362.8M359.1 364.8M599.8 364.5M524.9 364.4M494.6 364M327.4 363.3M422.4 363.2M603.1 364.9M552.8 365.3M203.8 366.9M216.1 362.8M281.6 362.9M450.3 364.9M420.9 365M279.3 364.7M529.4 365.2M334.1 363.3M345.7 364.3M375.2 363.1M413.6 363.5" marker-start="url(#m8)" marker-mid="url(#m8)" marker-end="url(#m8)"/>
<path d="M563 364.3M586.2 363.6M455.5 365M508.7 363M497.4 363.3M225.8 364M529.5 363.6M680.8 362.9M418.2 364M665.2 365.6M366.4 365.4M228.4 365M690.7 364.6M686.5 365.2M605.7 364.7M450.7 365M203.5 365.2" marker-start="url(#m9)" marker-mid="url(#m9)" marker-end="url(#m9)"/>
<path d="M511 365.5M365.3 364.8M558.3 363.4M409.7 364.9M549.4 366M604.9 363M206.3 363.5M632.8 364.7M580.7 366.2M436 364.4M542.7 363.2M231.4 364.9M205.4 365M375.1 365.6M202.1 368M658.7 364.5M466.7 364.6M449.3 364.5M522.8 365.4M361.6 363M649.7 365M332.2 364.7M665.9 363.4M661.9 364.8M397.5 363.2M694.4 363.4M270 364.7M382.1 365.2M229.6 364.7M580.8 364.7M555.9 364.3M382.3 366.2M466.6 363.7M201.3 366.7" marker-start="url(#m108)" marker-mid="url(#m108)" marker-end="url(#m108)"/>
<path d="M237.9 401.6M676.1 399.2M434.3 401.3M274.4 401.8M572.7 398.6M254.4 401.5M197.1 397.4M253.7 401.8M372.6 400M221.3 400.4M447.1 401.9M525.1 400.6M278.9 399.1M239.5 401.4M302.7 400.4M436.1 401.7M374.3 400.3M651 399.5M541.9 399.2M586.4 399.8M675.2 401.5M562.4 400.1M683.5 401.2M443.6 399.6M216.9 399.7M271.3 401.9M547.3 399.4M627.2 399.1M569.4 401.8M376.5 401.5M244.9 399.3M589.4 400.9M364 399.5M259.9 400.8M651.5 400.8M296.3 401M215.7 400.2M456.3 400.7M284.4 400.8M343.5 401.4M296.1 401.3M550.4 399.5M322.3 399M483 400.5M328.6 400.7" marker-start="url(#m10)" marker-mid="url(#m10)" marker-end="url(#m10)"/>
<path d="M351.1 400.7M578.9 399M570.2 401.6M235 399.6M414.4 400.4M298 399.1M282.3 398.8M578.5 397.1M289.8 401.6M242.9 399.8M461.7 399.9M277.6 399.8M213.4 400.3M582.4 400.5M689.7 399.9M648.6 399.4M655.5 401.6M265 400.7M475.5 401M428.4 400.5M206.7 395.8M398.8 399.1M403.4 399.1M376.3 401M668.1 401.3M652.6 400.3M280.1 401.3M604.7 402M563.9 400.1" marker-start="url(#m11)" marker-mid="url(#m11)" marker-end="url(#m11)"/>
<path d="M313.3 401.4M288.2 401M317.6 400M287 401.1M327.8 398.3M440.8 400.8M462.3 401.1M349 401.5M315.7 401.6M258.9 400.7M309.8 401.3M361.1 401.8M325.9 401.6M213.1 398.6M509.6 401.7M224.2 401.6M680.8 401.2M486 400.3M693.1 400.3M303.8 400.4M469.6 400.6M622.9 402M670.3 400.7M214.8 399.9M559.9 401M507.8 398.2M546.1 400.6M216.5 399.3M267.4 401.9M413.5 401.2M344.7 398.6M201.5 401.3" marker-start="url(#m109)" marker-mid="url(#m109)" marker-end="url(#m109)"/>
<path d="M645.4 361.1M348.5 360M642.5 362.5M452.2 359.9M447.2 359.9M656.8 358.2M240.9 358.4M492.7 360.1M460.3 361.8M310.8 360.4M691.1 361.9M252.9 360.4M657.7 359.3M265.5 358.7M215.5 361.5M343.3 359.2M252.8 359.4M276.8 361.9M281.4 362.1M215.5 357.8M386.4 361.1M417 361.8M264.7 358.6M562.1 359M304.7 360M262.8 361.8M412 360.9M357.5 361.9M304.2 358.3M232.4 360M414.8 360.2M289.7 359.1M355.7 360.7M581.5 361.4M637.6 360.6M428.8 361.5M255.1 360.1M612.9 359.7M400.9 359.3M487.6 358.1M707.2 359.3M629.9 361.6M269 359M597.4 360M711.2 359.6M485.5 357.5M700 362.4M546.5 362M655.4 358.8M415.2 360.5M329.3 360M654.9 356.9M624.8 357.1M708.2 357.4M205.6 362.2M442 358.3M389.4 358.7M344.9 359.1M436.2 357.4M283.7 357.1M527.9 359.7M474.9 356.4M435.8 357.7" marker-start="url(#m110)" marker-mid="url(#m110)" marker-end="url(#m110)"/>
<path d="M705.9 361.7M711.2 360M508.6 361.2M421.7 362M294.3 362M361.2 361.2M401.8 360.3M684.8 362.1M460.4 361.1M638.7 358.9M212.1 359.4M609.6 362.2M212 359.1M604 357.5M346.5 361M271.3 357.7M377.6 361.5M540.3 362.1M258.1 359.8M637.1 360.3M266.9 358.8M476.6 360.5M210.7 358.4M541 360.2M237.3 358.7M355.5 361.8M469.7 359.6M214.6 360.8M234.7 360M527 361.9M231.5 360.4M368.8 361.4M592.1 359.3M688 361.1M634.6 358.6M273.7 359.5M469.9 358.4M599 356.8M592.9 362M246.9 361.5M510 361.6M554 361.7M526.8 360.6M565.2 359.4M314 358.5M504.7 360.6M613.1 359.5M617 361.9M663.7 359.3M358.3 362.2M339.1 361.2M220.8 359.8M471.3 361.1M368.8 362.2M682.8 359.4M466.9 360.6M521.4 361.1M580 361.4M414.9 359.2M376.1 361.2M685.3 360.8M328.4 361.6M465 358.7M706.7 359.4M470.6 358.9M307.8 358.9M472.6 360.7M228.8 361.1M505.8 361M649.8 356.9M214.9 356.6M307 360.8M395 362.2M223.4 362.2M376.6 360.7M628.2 359.8M320 359.9M570.2 358.6M710.7 361.1M596.7 357.6M499.4 359.1M381.6 360.2M626.7 357.5M706.6 359M713.5 358.5M660.5 357.3M388.8 359.6M455.3 356.9M294.8 356.6M309.6 358.1M337.5 358.4M659.2 357.7M271.9 358.1M561.6 357.5" marker-start="url(#m36)" marker-mid="url(#m36)" marker-end="url(#m36)"/>
<path d="M661.7 360.8M336.7 360.7M545.6 361.7M527 359.9M655.3 359.6M694.9 360.3M273.1 359M258 357.2M294 361M364.8 361.1M621.8 358.2M484.1 359.4M242.5 356.4M380.2 360.4M527.4 361.8M587.2 360.2M401 358.9M244 357.6M632.9 360.6M336.2 361.1M451.7 362.4M499.5 360.9M427.7 359.6M304.9 359.3M250.1 358.5M538.2 361.2M341.7 360.6M547.2 361.5M550.9 359.7M463.9 358.2M417.2 359.3M345.8 359.6M268.2 362.7M621.4 358.8M542.1 360.9M700.2 360.5M454 361.2M599.3 360.4M277.6 362.4M547.1 362.3M588.7 360.5M453.8 360.8M266.1 360.1M322 361.3M424.7 360.7M389.7 360.9M627 358.5M350.6 361.7M715 359.8M442.3 359.3M645.8 361.9M375.2 361.6M329.4 356.9M651.1 356.5M670.4 359M663.4 356.5M382.5 358.1M545.8 357.9M387.9 356.9M385.1 358.1M563.7 356.3M460.8 356.9M377.3 358M555.6 356.8M433.9 357" marker-start="url(#m111)" marker-mid="url(#m111)" marker-end="url(#m111)"/>
<path d="M295.8 404.2M664 406M314.2 403.4M544.9 402.2M612 402.9M413.4 405.1M341.1 405.5M409.5 403.4M356.6 404.2M292.6 404.7M388.9 403.5M666.9 403.6M472.7 403.2M704.8 406.1M211.6 402.9M647.9 403.5M294.8 405.6M535.8 403.7M553.5 405.1M641.5 403.8M338.3 404.1M622.2 402.1M538.2 402.1M394.9 404.1M652.2 402.7M259.7 403.4M528.2 403.3M694.5 405.9M711.6 402.9M529.6 403.8M598.3 404.9M556.2 403.8M366 403.8M514 403M470.8 403.6M698.9 404.5M709 402.4M247.4 403M410.1 404.5M376.2 403.4M429 403.7M389.6 406.1M661.8 403.1M626.1 403.6M488.3 402.4M501.2 402.7M453.8 402.7M663.6 404.4M419.9 404.4M691.6 404.9M666.1 406.7M267.3 407.7M377.3 408.4M359.8 407.5M432.6 405.6M404.1 406M527 405.8M240.4 404.2M423.1 407.6M415.5 407M580.3 403.6M592.7 406.6M520.9 408.5M447.1 405" marker-start="url(#m112)" marker-mid="url(#m112)" marker-end="url(#m112)"/>
<path d="M686.1 404.7M307.6 403.2M715.4 405.5M213.2 402.7M506.1 403.6M361.2 403.3M498.6 403.7M212.9 404M360.7 402.2M445.4 404.3M716.9 404.1M419.4 403.6M590.6 402.6M285.7 403.3M390.1 403.7M477 406.2M394.8 402.5M634.2 404.5M443.2 402.6M645.2 405.1M344.1 404.1M709.1 404.9M555.6 404.6M456.1 402.1M456.7 402.3M332 403.2M500.4 404.1M220.6 403.6M560.8 403.9M538.8 405M337.4 403.1M250.3 403.4M488.8 405.8M552.3 403.3M654.6 403.9M594.6 404M477.4 404.7M391.5 405.9M411.6 402.1M295.9 403.4M683.5 402.5M262.8 404.4M429.3 403.1M364.9 402.7M709.9 402.6M629.6 403.4M567 403.6M256.9 405.2M641 404.4M305.8 403.8M667.5 406.1M564.6 404.1M680 402.7M217.1 404.3M504.2 404.7M632.6 406.8M585.4 402.6M622.1 404.8M224.8 405.7M623.2 405.8M334.4 404.9M622.2 406.9M207.7 403.7M314 404.4M556.7 407.4M423.6 406.3M623.1 405.6M641.6 405.5M480 406.1M243.7 405.1M572.6 408" marker-start="url(#m42)" marker-mid="url(#m42)" marker-end="url(#m42)"/>
<path d="M253.4 402.7M699.2 405.5M655 405.1M386 404.5M707.7 405.9M294.7 403.8M248.7 404.4M312.9 402.2M226.4 404.6M407.9 404.9M618 404.2M590.3 402.5M477.4 402.1M617.8 404.7M331.5 403.2M363.4 403.2M552.9 402.7M213.4 403.1M412.9 406.2M421 403.2M270.3 403.7M282.9 402.9M374.6 403.7M437.7 403.2M378.8 404.4M534.1 403.6M708.6 405.9M491.4 403.4M611.5 403M616.8 404.3M272.8 406M656.5 405.8M309.1 403.6M310.2 404.5M385.3 405.4M307.5 403.2M489.6 402.2M615.7 403.5M704.7 404.8M261.5 404.2M411.4 406.3M418.3 405.9M514 402.9M489.6 404.6M390 405.6M358.6 402.3M465.9 404.4M432.6 404.1M254.2 403.1M342.2 403.7M566.5 403.6M378.3 407.4M696 405.9M590.3 403.8M520.8 406.8M362.2 404.8M616.2 407M586.8 403.2M498.8 405.1M378.3 408.1M221.6 406.6M244.5 406.7M668 406.8M520 407.8M338.8 406M339.9 408.5M642.1 406.9M522.2 407.8M279.4 403.5M671.3 406.2M276.8 406.3M650 407.5M636.5 405.7M376.7 405.8M338.5 408.4" marker-start="url(#m113)" marker-mid="url(#m113)" marker-end="url(#m113)"/>
<path d="M595.6 356M653.5 355.3M572.1 354.1M293.1 354M290.4 355.7M319.3 354.9M586.2 353.3M279.9 354.8" marker-start="url(#m114)" marker-mid="url(#m114)" marker-end="url(#m114)"/>
<path d="M408.6 356.1M485.3 355M459.5 356M627 355.7M710.4 353.7M348.1 355.3M255.8 355.7M403.5 354.5M467.9 354.5" marker-start="url(#m48)" marker-mid="url(#m48)" marker-end="url(#m48)"/>
<path d="M284 355.7M299.6 352.7M591.9 353.4M273.1 356M468.1 353.2M567.5 355.8" marker-start="url(#m115)" marker-mid="url(#m115)" marker-end="url(#m115)"/>
<path d="M387.7 409.4M425.1 409.5M626.7 409.3" marker-start="url(#m116)" marker-mid="url(#m116)" marker-end="url(#m116)"/>
<path d="M415.8 409.8M407.1 409.6M389.3 410.1" marker-start="url(#m117)" marker-mid="url(#m117)" marker-end="url(#m117)"/>
<line x1="97" y1="323" x2="97" y2="605" stroke="#333" stroke-width="1.5"/>
<line x1="97" y1="605" x2="669.5" y2="605" stroke="#222" stroke-width="1.6"/>
<line x1="91" y1="323" x2="97" y2="323" stroke="#333" stroke-width="1.5"/>
<text x="87" y="332.3" text-anchor="end" font-size="27">200</text>
<line x1="91" y1="393.5" x2="97" y2="393.5" stroke="#333" stroke-width="1.5"/>
<text x="87" y="402.8" text-anchor="end" font-size="27">100</text>
<line x1="91" y1="464" x2="97" y2="464" stroke="#333" stroke-width="1.5"/>
<text x="87" y="473.3" text-anchor="end" font-size="27">0</text>
<line x1="91" y1="534.5" x2="97" y2="534.5" stroke="#333" stroke-width="1.5"/>
<text x="87" y="543.8" text-anchor="end" font-size="27">-100</text>
<line x1="91" y1="605" x2="97" y2="605" stroke="#333" stroke-width="1.5"/>
<text x="87" y="614.3" text-anchor="end" font-size="27">-200</text>
<line x1="97" y1="605" x2="97" y2="612" stroke="#222" stroke-width="1.5"/>
<text x="97" y="640.3" text-anchor="middle" font-size="27">0</text>
<line x1="160.6" y1="605" x2="160.6" y2="612" stroke="#222" stroke-width="1.5"/>
<text x="160.6" y="640.3" text-anchor="middle" font-size="27">4</text>
<line x1="224.2" y1="605" x2="224.2" y2="612" stroke="#222" stroke-width="1.5"/>
<text x="224.2" y="640.3" text-anchor="middle" font-size="27">8</text>
<line x1="287.8" y1="605" x2="287.8" y2="612" stroke="#222" stroke-width="1.5"/>
<text x="287.8" y="640.3" text-anchor="middle" font-size="27">12</text>
<line x1="351.4" y1="605" x2="351.4" y2="612" stroke="#222" stroke-width="1.5"/>
<text x="351.4" y="640.3" text-anchor="middle" font-size="27">16</text>
<line x1="415.1" y1="605" x2="415.1" y2="612" stroke="#222" stroke-width="1.5"/>
<text x="415.1" y="640.3" text-anchor="middle" font-size="27">20</text>
<line x1="478.7" y1="605" x2="478.7" y2="612" stroke="#222" stroke-width="1.5"/>
<text x="478.7" y="640.3" text-anchor="middle" font-size="27">24</text>
<line x1="542.3" y1="605" x2="542.3" y2="612" stroke="#222" stroke-width="1.5"/>
<text x="542.3" y="640.3" text-anchor="middle" font-size="27">28</text>
<line x1="605.9" y1="605" x2="605.9" y2="612" stroke="#222" stroke-width="1.5"/>
<text x="605.9" y="640.3" text-anchor="middle" font-size="27">32</text>
<line x1="669.5" y1="605" x2="669.5" y2="612" stroke="#222" stroke-width="1.5"/>
<text x="669.5" y="640.3" text-anchor="middle" font-size="27">36</text>
<line x1="709.4" y1="513.5" x2="715.4" y2="513.5" stroke="#222" stroke-width="1.2"/>
<text x="717.4" y="522.1" font-size="26">SW</text>
<line x1="774.5" y1="364.2" x2="780.5" y2="364.2" stroke="#222" stroke-width="1.2"/>
<text x="782.5" y="372.6" font-size="22.5">Rim</text>
<line x1="825.5" y1="247.3" x2="831.5" y2="247.3" stroke="#222" stroke-width="1.2"/>
<text x="833.5" y="255.1" font-size="20.5">Web</text>
<text x="339.8" y="670.2" font-size="28">Time(s)</text>
<text x="378.6" y="716.3" text-anchor="middle" font-size="41">(a)</text>
<text transform="translate(26.6,462.8) rotate(-90)" text-anchor="middle" font-size="27.3">Wheel vertical acceleration(m/s<tspan dy="-11.5" font-size="19">2</tspan><tspan dy="11.5">)</tspan></text>
<rect x="97" y="347" width="33.5" height="12.9" fill="#FF0000"/>
<rect x="97" y="359.3" width="33.5" height="12.9" fill="#FF1800"/>
<rect x="97" y="371.6" width="33.5" height="12.9" fill="#FF4000"/>
<rect x="97" y="383.8" width="33.5" height="12.9" fill="#FF6800"/>
<rect x="97" y="396.1" width="33.5" height="12.9" fill="#FF9A00"/>
<rect x="97" y="408.4" width="33.5" height="12.9" fill="#FFD000"/>
<rect x="97" y="420.7" width="33.5" height="12.9" fill="#C8F000"/>
<rect x="97" y="433" width="33.5" height="12.9" fill="#70EE00"/>
<rect x="97" y="445.2" width="33.5" height="12.9" fill="#00F000"/>
<rect x="97" y="457.5" width="33.5" height="12.9" fill="#00EE50"/>
<rect x="97" y="469.8" width="33.5" height="12.9" fill="#00F0B0"/>
<rect x="97" y="482.1" width="33.5" height="12.9" fill="#00F0F0"/>
<rect x="97" y="494.4" width="33.5" height="12.9" fill="#00C0F0"/>
<rect x="97" y="506.6" width="33.5" height="12.9" fill="#0090F0"/>
<rect x="97" y="518.9" width="33.5" height="12.9" fill="#0060F0"/>
<rect x="97" y="531.2" width="33.5" height="12.9" fill="#2040F0"/>
<rect x="97" y="543.5" width="33.5" height="12.9" fill="#3010F0"/>
<rect x="97" y="555.8" width="33.5" height="12.9" fill="#5000F0"/>
<rect x="97" y="568" width="33.5" height="12.9" fill="#7000F0"/>
<rect x="97" y="580.3" width="33.5" height="12.9" fill="#9000F0"/>
<rect x="97" y="347" width="33.5" height="245.6" fill="none" stroke="#555" stroke-width="0.8"/>
<line x1="130.5" y1="347" x2="139.5" y2="347" stroke="#444" stroke-width="1.2"/>
<text x="147.5" y="356.3" font-size="27">100</text>
<line x1="130.5" y1="396.1" x2="139.5" y2="396.1" stroke="#444" stroke-width="1.2"/>
<text x="147.5" y="405.4" font-size="27">60</text>
<line x1="130.5" y1="445.2" x2="139.5" y2="445.2" stroke="#444" stroke-width="1.2"/>
<text x="147.5" y="454.5" font-size="27">20</text>
<line x1="130.5" y1="494.4" x2="139.5" y2="494.4" stroke="#444" stroke-width="1.2"/>
<text x="147.5" y="503.7" font-size="27">-20</text>
<line x1="130.5" y1="543.5" x2="139.5" y2="543.5" stroke="#444" stroke-width="1.2"/>
<text x="147.5" y="552.8" font-size="27">-60</text>
<line x1="130.5" y1="592.6" x2="139.5" y2="592.6" stroke="#444" stroke-width="1.2"/>
<text x="147.5" y="601.9" font-size="27">-100</text>
<polygon points="993,605 1565.5,605 1743,198 1348,198" fill="#f2f2f2"/>
<polygon points="993,605 993,323 1348,3.4 1348,198" fill="#e4f5f5"/>
<polygon points="1348,198 1348,3.4 1743,3.4 1743,198" fill="#fefee2"/>
<line x1="1072.1" y1="605" x2="1402.5" y2="198" stroke="#c4c4c4" stroke-width="0.9"/>
<line x1="1151.1" y1="605" x2="1457.1" y2="198" stroke="#c4c4c4" stroke-width="0.9"/>
<line x1="1230.2" y1="605" x2="1511.6" y2="198" stroke="#c4c4c4" stroke-width="0.9"/>
<line x1="1309.3" y1="605" x2="1566.2" y2="198" stroke="#c4c4c4" stroke-width="0.9"/>
<line x1="1388.4" y1="605" x2="1620.8" y2="198" stroke="#c4c4c4" stroke-width="0.9"/>
<line x1="1467.4" y1="605" x2="1675.3" y2="198" stroke="#c4c4c4" stroke-width="0.9"/>
<line x1="1546.5" y1="605" x2="1729.9" y2="198" stroke="#c4c4c4" stroke-width="0.9"/>
<line x1="1072.8" y1="513.5" x2="1605.4" y2="513.5" stroke="#dedede" stroke-width="0.9"/>
<line x1="1203" y1="364.2" x2="1670.5" y2="364.2" stroke="#dedede" stroke-width="0.9"/>
<line x1="1304.9" y1="247.3" x2="1721.5" y2="247.3" stroke="#dedede" stroke-width="0.9"/>
<line x1="993" y1="393.5" x2="1348" y2="52" stroke="#a8b2b2" stroke-width="0.9"/>
<line x1="993" y1="464" x2="1348" y2="100.7" stroke="#a8b2b2" stroke-width="0.9"/>
<line x1="993" y1="534.5" x2="1348" y2="149.3" stroke="#a8b2b2" stroke-width="0.9"/>
<line x1="1072.8" y1="513.5" x2="1072.8" y2="251.2" stroke="#d4e2e2" stroke-width="0.9"/>
<line x1="1203" y1="364.2" x2="1203" y2="133.9" stroke="#d4e2e2" stroke-width="0.9"/>
<line x1="1304.9" y1="247.3" x2="1304.9" y2="42.1" stroke="#d4e2e2" stroke-width="0.9"/>
<line x1="1402.5" y1="198" x2="1402.5" y2="3.4" stroke="#b2b29a" stroke-width="0.9"/>
<line x1="1457.1" y1="198" x2="1457.1" y2="3.4" stroke="#b2b29a" stroke-width="0.9"/>
<line x1="1511.6" y1="198" x2="1511.6" y2="3.4" stroke="#b2b29a" stroke-width="0.9"/>
<line x1="1566.2" y1="198" x2="1566.2" y2="3.4" stroke="#b2b29a" stroke-width="0.9"/>
<line x1="1620.8" y1="198" x2="1620.8" y2="3.4" stroke="#b2b29a" stroke-width="0.9"/>
<line x1="1675.3" y1="198" x2="1675.3" y2="3.4" stroke="#b2b29a" stroke-width="0.9"/>
<line x1="1729.9" y1="198" x2="1729.9" y2="3.4" stroke="#b2b29a" stroke-width="0.9"/>
<line x1="1348" y1="52" x2="1743" y2="52" stroke="#b2b29a" stroke-width="0.9"/>
<line x1="1348" y1="100.7" x2="1743" y2="100.7" stroke="#b2b29a" stroke-width="0.9"/>
<line x1="1348" y1="149.3" x2="1743" y2="149.3" stroke="#b2b29a" stroke-width="0.9"/>
<polyline points="1348,3.4 1743,3.4 1743,198" fill="none" stroke="#8e8e84" stroke-width="1.1"/>
<polyline points="993,323 1348,3.4" fill="none" stroke="#98a2a2" stroke-width="1"/>
<polyline points="1348,3.4 1348,198" fill="none" stroke="#7c8484" stroke-width="1.1"/>
<line x1="1348" y1="198" x2="1743" y2="198" stroke="#b0b0a0" stroke-width="1"/>
<line x1="993" y1="605" x2="1348" y2="198" stroke="#8c9494" stroke-width="1"/>
<line x1="1565.5" y1="605" x2="1743" y2="198" stroke="#222" stroke-width="1.4"/>
<path d="M1369.1 140.2M1402.3 138.3M1387.3 138.9M1352.6 140.1M1321 138.1M1321.5 139.9M1363.1 139.7M1330 139.2M1335 139.6M1366.4 138M1399.3 139.2M1302.4 143.1M1334.6 139.1M1383.6 138.7M1393.4 138M1339.9 137.9M1308.9 141M1390.5 138.5M1381.1 139.7M1401.1 140.4M1328.9 139.9M1315.9 140.1M1343.2 140.2M1322.6 139.6M1368.2 140.2M1342.2 138.9M1345.1 140.2M1339.2 140.2M1366 138.5M1378.7 138.9M1393.5 137.5M1351.3 138.4M1393.6 138.7M1405.7 138.3M1369.6 138.9M1355.7 139.3M1395.3 138.2M1360.8 138" marker-start="url(#m118)" marker-mid="url(#m118)" marker-end="url(#m118)"/>
<path d="M1329.8 139M1312.9 140.2M1351.7 140.1M1309.1 138.4M1340.8 139.8M1358.9 140.2M1345.2 138.7M1305.5 140.1M1383 140.2M1343.9 137.6M1317.1 139.8M1313.3 139.6M1305.3 139.9M1360.8 140.1M1365.8 139.2M1312.4 139.6M1340.5 139.3M1401.9 137.7M1335.8 139.2M1404.8 138.6M1357 139.5M1326.5 139.8M1378.1 138.9M1393.6 140.4M1360.7 138.3M1314.2 139.1M1362.6 138.5M1411.5 137.9" marker-start="url(#m119)" marker-mid="url(#m119)" marker-end="url(#m119)"/>
<path d="M1385 148.4M1377.4 147.1M1332.9 147M1393.7 148.3M1393.3 148.2M1408.6 148.3M1357.2 147.7M1410.3 147.8M1387.9 148.1M1312.3 148.5M1356.4 147.6M1408.6 147M1330 148M1397.7 148M1322.7 148.2M1343.8 147.9M1312.5 147.4M1378.4 148.5M1404.3 147.4M1380.2 148M1406.1 148.3M1411.4 148.6M1352.2 147.4M1406.9 147.8M1328.7 147.5M1396.1 147.3" marker-start="url(#m120)" marker-mid="url(#m120)" marker-end="url(#m120)"/>
<path d="M1311.4 147.3M1383.6 146.8M1356.3 148.1M1371.4 147.8M1321.4 147.8M1343 147.9M1373.1 147.5M1367 147.2M1349.4 148.7M1395.6 148.2M1401.3 147.2M1400.7 147.9M1338.5 147.1M1335.8 148.2M1399.1 148.6M1361.2 147.7M1382.1 146.8M1304.4 147M1308.3 148.2M1396.7 147M1316.2 148.1M1323.2 148.1M1404.9 147.3M1319.6 148.1M1327.8 147.3M1370.7 147.6M1342.3 147.6M1376.2 147M1371.9 147.6M1396.1 148.7M1355.5 148.2M1322.1 147.3M1407.9 148.5M1376.3 148.1M1366.3 148M1379.3 148.2M1364.2 147.8M1368.1 148.4M1343.6 147M1307.7 148.4" marker-start="url(#m121)" marker-mid="url(#m121)" marker-end="url(#m121)"/>
<path d="M1302 144.7 L1305 138.6 L1308 138.4 L1311 138.4 L1314 138.4 L1317 138.3 L1320 138.3 L1323 138.3 L1326 138.3 L1329 138.3 L1332 138.3 L1335 138.3 L1338 138.2 L1341 138.2 L1344 138.2 L1347 138.2 L1350 138.2 L1353 138.2 L1356 138.2 L1359 138.2 L1362 138.1 L1365 138.1 L1368 138.1 L1371 138.1 L1374 138.1 L1377 138.1 L1380 138.1 L1383 138 L1386 138 L1389 138 L1392 138 L1395 138 L1398 138 L1401 138 L1404 138 L1407 137.9 L1410 137.9 L1412 137.9 L1412 148.6 L1410 148.6 L1407 148.6 L1404 148.6 L1401 148.6 L1398 148.6 L1395 148.6 L1392 148.6 L1389 148.6 L1386 148.5 L1383 148.5 L1380 148.5 L1377 148.5 L1374 148.5 L1371 148.5 L1368 148.5 L1365 148.5 L1362 148.5 L1359 148.4 L1356 148.4 L1353 148.4 L1350 148.4 L1347 148.4 L1344 148.4 L1341 148.4 L1338 148.4 L1335 148.4 L1332 148.4 L1329 148.3 L1326 148.3 L1323 148.3 L1320 148.3 L1317 148.3 L1314 148.3 L1311 148.3 L1308 148.3 L1305 148.1 L1302 144.7 Z" fill="url(#g3)"/>
<path d="M1302 144.7 L1305 138.6 L1308 138.4 L1311 138.4 L1314 138.4 L1317 138.3 L1320 138.3 L1323 138.3 L1326 138.3 L1329 138.3 L1332 138.3 L1335 138.3 L1338 138.2 L1341 138.2 L1344 138.2 L1347 138.2 L1350 138.2 L1353 138.2 L1356 138.2 L1359 138.2 L1362 138.1 L1365 138.1 L1368 138.1 L1371 138.1 L1374 138.1 L1377 138.1 L1380 138.1 L1383 138 L1386 138 L1389 138 L1392 138 L1395 138 L1398 138 L1401 138 L1404 138 L1407 137.9 L1410 137.9 L1412 137.9 L1412 144.7 L1410 144.7 L1407 144.7 L1404 144.7 L1401 144.7 L1398 144.7 L1395 144.7 L1392 144.7 L1389 144.7 L1386 144.7 L1383 144.7 L1380 144.7 L1377 144.7 L1374 144.7 L1371 144.7 L1368 144.7 L1365 144.7 L1362 144.7 L1359 144.7 L1356 144.7 L1353 144.7 L1350 144.7 L1347 144.7 L1344 144.7 L1341 144.7 L1338 144.7 L1335 144.7 L1332 144.7 L1329 144.7 L1326 144.7 L1323 144.7 L1320 144.7 L1317 144.7 L1314 144.7 L1311 144.7 L1308 144.7 L1305 144.7 L1302 144.7 Z" fill="#2ef32e"/><path d="M1302 144.7 L1305 138.6 L1308 138.4 L1311 138.4 L1314 138.4 L1317 138.3 L1320 138.3 L1323 138.3 L1326 138.3 L1329 138.3 L1332 138.3 L1335 138.3 L1338 138.2 L1341 138.2 L1344 138.2 L1347 138.2 L1350 138.2 L1353 138.2 L1356 138.2 L1359 138.2 L1362 138.1 L1365 138.1 L1368 138.1 L1371 138.1 L1374 138.1 L1377 138.1 L1380 138.1 L1383 138 L1386 138 L1389 138 L1392 138 L1395 138 L1398 138 L1401 138 L1404 138 L1407 137.9 L1410 137.9 L1412 137.9 L1412 144.7 L1410 144.7 L1407 144.7 L1404 144.7 L1401 144.7 L1398 144.7 L1395 144.7 L1392 144.7 L1389 144.7 L1386 144.7 L1383 144.7 L1380 144.7 L1377 144.7 L1374 144.7 L1371 144.7 L1368 144.7 L1365 144.7 L1362 144.7 L1359 144.7 L1356 144.7 L1353 144.7 L1350 144.7 L1347 144.7 L1344 144.7 L1341 144.7 L1338 144.7 L1335 144.7 L1332 144.7 L1329 144.7 L1326 144.7 L1323 144.7 L1320 144.7 L1317 144.7 L1314 144.7 L1311 144.7 L1308 144.7 L1305 144.7 L1302 144.7 Z" fill="url(#cylT)"/>
<path d="M1302 144.7 L1305 148.1 L1308 148.3 L1311 148.3 L1314 148.3 L1317 148.3 L1320 148.3 L1323 148.3 L1326 148.3 L1329 148.3 L1332 148.4 L1335 148.4 L1338 148.4 L1341 148.4 L1344 148.4 L1347 148.4 L1350 148.4 L1353 148.4 L1356 148.4 L1359 148.4 L1362 148.5 L1365 148.5 L1368 148.5 L1371 148.5 L1374 148.5 L1377 148.5 L1380 148.5 L1383 148.5 L1386 148.5 L1389 148.6 L1392 148.6 L1395 148.6 L1398 148.6 L1401 148.6 L1404 148.6 L1407 148.6 L1410 148.6 L1412 148.6 L1412 144.7 L1410 144.7 L1407 144.7 L1404 144.7 L1401 144.7 L1398 144.7 L1395 144.7 L1392 144.7 L1389 144.7 L1386 144.7 L1383 144.7 L1380 144.7 L1377 144.7 L1374 144.7 L1371 144.7 L1368 144.7 L1365 144.7 L1362 144.7 L1359 144.7 L1356 144.7 L1353 144.7 L1350 144.7 L1347 144.7 L1344 144.7 L1341 144.7 L1338 144.7 L1335 144.7 L1332 144.7 L1329 144.7 L1326 144.7 L1323 144.7 L1320 144.7 L1317 144.7 L1314 144.7 L1311 144.7 L1308 144.7 L1305 144.7 L1302 144.7 Z" fill="#2ef3e6"/><path d="M1302 144.7 L1305 148.1 L1308 148.3 L1311 148.3 L1314 148.3 L1317 148.3 L1320 148.3 L1323 148.3 L1326 148.3 L1329 148.3 L1332 148.4 L1335 148.4 L1338 148.4 L1341 148.4 L1344 148.4 L1347 148.4 L1350 148.4 L1353 148.4 L1356 148.4 L1359 148.4 L1362 148.5 L1365 148.5 L1368 148.5 L1371 148.5 L1374 148.5 L1377 148.5 L1380 148.5 L1383 148.5 L1386 148.5 L1389 148.6 L1392 148.6 L1395 148.6 L1398 148.6 L1401 148.6 L1404 148.6 L1407 148.6 L1410 148.6 L1412 148.6 L1412 144.7 L1410 144.7 L1407 144.7 L1404 144.7 L1401 144.7 L1398 144.7 L1395 144.7 L1392 144.7 L1389 144.7 L1386 144.7 L1383 144.7 L1380 144.7 L1377 144.7 L1374 144.7 L1371 144.7 L1368 144.7 L1365 144.7 L1362 144.7 L1359 144.7 L1356 144.7 L1353 144.7 L1350 144.7 L1347 144.7 L1344 144.7 L1341 144.7 L1338 144.7 L1335 144.7 L1332 144.7 L1329 144.7 L1326 144.7 L1323 144.7 L1320 144.7 L1317 144.7 L1314 144.7 L1311 144.7 L1308 144.7 L1305 144.7 L1302 144.7 Z" fill="url(#cylB)"/>
<path d="M1685.5 136.6M1695.5 134.3M1640.9 136.6M1664.6 134M1647.6 135.3M1688.6 138.4M1656.6 138.4M1661.1 138.1M1722.3 137.2M1698.9 136.6M1720.1 137.4M1721 137.7M1637 139M1640.1 139M1623.2 137.8M1685.8 136.7M1633.6 136.5M1720.4 138.5M1646.8 136.1M1714.5 136.9M1616.2 137.2M1687 136.7M1633.2 137.1M1661.8 138.1M1637.2 138.2M1692.2 135.8M1611 137.7M1664 137.4M1695.9 134.8M1686.7 138.1M1699 137M1699.8 136.6M1625.4 136.1M1722.5 137.6M1672.3 135.2M1669 133.8M1694.1 137.2M1665.4 136.5M1656.4 137.8M1639.1 136.5M1713.9 136.4M1623.2 134.4M1696 134.9M1649.5 137.5M1676.5 135.6M1723.4 138.4M1681.4 134.6M1669 133.2M1666.7 132.6" marker-start="url(#m122)" marker-mid="url(#m122)" marker-end="url(#m122)"/>
<path d="M1674.6 137.3M1627.7 135.4M1682.7 134.7M1643.7 136.5M1629.9 136.1M1685.6 134M1705.5 136M1629.6 138.5M1616.2 136.7M1690.9 138.2M1622.5 137.5M1660.6 135.9M1639.5 137.8M1614.8 135M1643.5 138.6M1704.4 134.7M1624.4 135.5M1715.7 138.2M1669.6 135.9M1716.3 137.1M1633.6 135.3M1693.6 136.9M1672.1 135.5M1689 134.7M1699.7 138M1623 135.9M1630.8 137.2M1615 137.3M1610.3 135.4M1692.6 135.1M1633.1 135.2M1662.8 135.9M1634.4 137.8M1654.9 138.9M1637.7 133.6M1688.5 133.8" marker-start="url(#m123)" marker-mid="url(#m123)" marker-end="url(#m123)"/>
<path d="M1704.3 152.1M1677.3 152.7M1646.5 152.6M1661.3 153.2M1614.6 154.5M1696.5 151.1M1635.7 153.1M1640.3 152.5M1638.2 154.1M1633.5 151.4M1619.7 154.2M1613.3 153.4M1681.6 152.3M1629.2 153.5M1613.2 153.9M1670.6 153.3M1657.9 151.9M1661.9 152.9M1690.6 154.4M1718 152.3M1612.4 153.5M1694.3 151.5M1629.5 153.4M1664.4 151.6M1687.8 150.9M1725 150.7M1611.8 151.8M1684.9 151.8M1676.4 151.7M1658.9 150.9M1611.5 152.3M1628.1 153.3M1616.9 153.4M1721.1 150.2M1711.9 152.4M1712.1 153M1618.4 154.4M1626.9 153.3M1646.2 153.6M1711.4 151.4M1724.1 150.5M1648 151.9M1664.3 156.8M1627.4 155.7M1612.7 154.5" marker-start="url(#m124)" marker-mid="url(#m124)" marker-end="url(#m124)"/>
<path d="M1693.8 150.8M1626.8 151.9M1691.5 152.1M1715.4 151.2M1643.5 154.3M1675.9 153M1641.4 152.8M1613.4 152.3M1725.4 148.2M1645.5 152.6M1685.9 151.7M1642.7 155.7M1663.3 154.4M1613.2 150.8M1723.1 152.5M1638.6 150.9M1640.2 154.7M1616.1 153.2M1627.8 152M1725.1 149.4M1725.8 149M1715 150.7M1703.4 151M1675.9 151.3M1676 151.7M1655.7 151M1659.6 152.4M1649.2 154M1693 152.1M1654.4 151.6M1673.6 152.7M1703.1 154.6M1675 152.7M1721.3 151.7M1712.3 152.4M1622 155.5M1653.2 151.4M1682.7 153M1640.6 153M1704.6 155.9" marker-start="url(#m125)" marker-mid="url(#m125)" marker-end="url(#m125)"/>
<path d="M1610 135.7 L1613 135.7 L1616 135.7 L1619 135.7 L1622 135.7 L1625 135.7 L1628 135.7 L1631 135.7 L1634 135.7 L1637 135.7 L1640 135.7 L1643 135.7 L1646 135.7 L1649 135.7 L1652 135.7 L1655 135.7 L1658 135.7 L1661 135.7 L1664 135.7 L1667 135.7 L1670 135.7 L1673 135.7 L1676 135.7 L1679 135.7 L1682 135.7 L1685 135.7 L1688 135.7 L1691 135.7 L1694 135.7 L1697 135.7 L1700 135.7 L1703 135.7 L1706 135.7 L1709 135.7 L1712 135.7 L1715 135.7 L1718 135.8 L1721 136.5 L1724 138.3 L1727 144.7 L1727 144.7 L1724 151.2 L1721 153 L1718 153.7 L1715 153.8 L1712 153.8 L1709 153.8 L1706 153.8 L1703 153.8 L1700 153.8 L1697 153.8 L1694 153.8 L1691 153.8 L1688 153.8 L1685 153.8 L1682 153.8 L1679 153.8 L1676 153.8 L1673 153.8 L1670 153.8 L1667 153.8 L1664 153.8 L1661 153.8 L1658 153.8 L1655 153.8 L1652 153.8 L1649 153.8 L1646 153.8 L1643 153.8 L1640 153.8 L1637 153.8 L1634 153.8 L1631 153.8 L1628 153.8 L1625 153.8 L1622 153.8 L1619 153.8 L1616 153.8 L1613 153.8 L1610 153.8 Z" fill="url(#g4)"/>
<path d="M1610 135.7 L1613 135.7 L1616 135.7 L1619 135.7 L1622 135.7 L1625 135.7 L1628 135.7 L1631 135.7 L1634 135.7 L1637 135.7 L1640 135.7 L1643 135.7 L1646 135.7 L1649 135.7 L1652 135.7 L1655 135.7 L1658 135.7 L1661 135.7 L1664 135.7 L1667 135.7 L1670 135.7 L1673 135.7 L1676 135.7 L1679 135.7 L1682 135.7 L1685 135.7 L1688 135.7 L1691 135.7 L1694 135.7 L1697 135.7 L1700 135.7 L1703 135.7 L1706 135.7 L1709 135.7 L1712 135.7 L1715 135.7 L1718 135.8 L1721 136.5 L1724 138.3 L1727 144.7 L1727 144.7 L1724 144.7 L1721 144.7 L1718 144.7 L1715 144.7 L1712 144.7 L1709 144.7 L1706 144.7 L1703 144.7 L1700 144.7 L1697 144.7 L1694 144.7 L1691 144.7 L1688 144.7 L1685 144.7 L1682 144.7 L1679 144.7 L1676 144.7 L1673 144.7 L1670 144.7 L1667 144.7 L1664 144.7 L1661 144.7 L1658 144.7 L1655 144.7 L1652 144.7 L1649 144.7 L1646 144.7 L1643 144.7 L1640 144.7 L1637 144.7 L1634 144.7 L1631 144.7 L1628 144.7 L1625 144.7 L1622 144.7 L1619 144.7 L1616 144.7 L1613 144.7 L1610 144.7 Z" fill="#2ef32e"/><path d="M1610 135.7 L1613 135.7 L1616 135.7 L1619 135.7 L1622 135.7 L1625 135.7 L1628 135.7 L1631 135.7 L1634 135.7 L1637 135.7 L1640 135.7 L1643 135.7 L1646 135.7 L1649 135.7 L1652 135.7 L1655 135.7 L1658 135.7 L1661 135.7 L1664 135.7 L1667 135.7 L1670 135.7 L1673 135.7 L1676 135.7 L1679 135.7 L1682 135.7 L1685 135.7 L1688 135.7 L1691 135.7 L1694 135.7 L1697 135.7 L1700 135.7 L1703 135.7 L1706 135.7 L1709 135.7 L1712 135.7 L1715 135.7 L1718 135.8 L1721 136.5 L1724 138.3 L1727 144.7 L1727 144.7 L1724 144.7 L1721 144.7 L1718 144.7 L1715 144.7 L1712 144.7 L1709 144.7 L1706 144.7 L1703 144.7 L1700 144.7 L1697 144.7 L1694 144.7 L1691 144.7 L1688 144.7 L1685 144.7 L1682 144.7 L1679 144.7 L1676 144.7 L1673 144.7 L1670 144.7 L1667 144.7 L1664 144.7 L1661 144.7 L1658 144.7 L1655 144.7 L1652 144.7 L1649 144.7 L1646 144.7 L1643 144.7 L1640 144.7 L1637 144.7 L1634 144.7 L1631 144.7 L1628 144.7 L1625 144.7 L1622 144.7 L1619 144.7 L1616 144.7 L1613 144.7 L1610 144.7 Z" fill="url(#cylT)"/>
<path d="M1610 153.8 L1613 153.8 L1616 153.8 L1619 153.8 L1622 153.8 L1625 153.8 L1628 153.8 L1631 153.8 L1634 153.8 L1637 153.8 L1640 153.8 L1643 153.8 L1646 153.8 L1649 153.8 L1652 153.8 L1655 153.8 L1658 153.8 L1661 153.8 L1664 153.8 L1667 153.8 L1670 153.8 L1673 153.8 L1676 153.8 L1679 153.8 L1682 153.8 L1685 153.8 L1688 153.8 L1691 153.8 L1694 153.8 L1697 153.8 L1700 153.8 L1703 153.8 L1706 153.8 L1709 153.8 L1712 153.8 L1715 153.8 L1718 153.7 L1721 153 L1724 151.2 L1727 144.7 L1727 144.7 L1724 144.7 L1721 144.7 L1718 144.7 L1715 144.7 L1712 144.7 L1709 144.7 L1706 144.7 L1703 144.7 L1700 144.7 L1697 144.7 L1694 144.7 L1691 144.7 L1688 144.7 L1685 144.7 L1682 144.7 L1679 144.7 L1676 144.7 L1673 144.7 L1670 144.7 L1667 144.7 L1664 144.7 L1661 144.7 L1658 144.7 L1655 144.7 L1652 144.7 L1649 144.7 L1646 144.7 L1643 144.7 L1640 144.7 L1637 144.7 L1634 144.7 L1631 144.7 L1628 144.7 L1625 144.7 L1622 144.7 L1619 144.7 L1616 144.7 L1613 144.7 L1610 144.7 Z" fill="#2ef3e6"/><path d="M1610 153.8 L1613 153.8 L1616 153.8 L1619 153.8 L1622 153.8 L1625 153.8 L1628 153.8 L1631 153.8 L1634 153.8 L1637 153.8 L1640 153.8 L1643 153.8 L1646 153.8 L1649 153.8 L1652 153.8 L1655 153.8 L1658 153.8 L1661 153.8 L1664 153.8 L1667 153.8 L1670 153.8 L1673 153.8 L1676 153.8 L1679 153.8 L1682 153.8 L1685 153.8 L1688 153.8 L1691 153.8 L1694 153.8 L1697 153.8 L1700 153.8 L1703 153.8 L1706 153.8 L1709 153.8 L1712 153.8 L1715 153.8 L1718 153.7 L1721 153 L1724 151.2 L1727 144.7 L1727 144.7 L1724 144.7 L1721 144.7 L1718 144.7 L1715 144.7 L1712 144.7 L1709 144.7 L1706 144.7 L1703 144.7 L1700 144.7 L1697 144.7 L1694 144.7 L1691 144.7 L1688 144.7 L1685 144.7 L1682 144.7 L1679 144.7 L1676 144.7 L1673 144.7 L1670 144.7 L1667 144.7 L1664 144.7 L1661 144.7 L1658 144.7 L1655 144.7 L1652 144.7 L1649 144.7 L1646 144.7 L1643 144.7 L1640 144.7 L1637 144.7 L1634 144.7 L1631 144.7 L1628 144.7 L1625 144.7 L1622 144.7 L1619 144.7 L1616 144.7 L1613 144.7 L1610 144.7 Z" fill="url(#cylB)"/>
<path d="M1408 141.5 L1411 138.5 L1414 136.2 L1417 135 L1420 133.9 L1423 132.7 L1426 131.6 L1429 131.1 L1432 130.5 L1435 130 L1438 129.4 L1441 128.9 L1444 128.3 L1447 128.5 L1450 128.6 L1453 128.8 L1456 129.1 L1459 129.3 L1462 129.6 L1465 129.9 L1468 130.2 L1471 130.6 L1474 131 L1477 131.4 L1480 131.7 L1483 132.2 L1486 132.6 L1489 133.1 L1492 133.9 L1495 134.6 L1498 135.4 L1501 136.3 L1504 137.1 L1507 137.1 L1510 136.7 L1513 136.3 L1516 136 L1519 135.5 L1522 134.7 L1525 134.2 L1528 133.7 L1531 133.3 L1534 132.8 L1537 132.4 L1540 131.9 L1543 131.5 L1546 131.2 L1549 131 L1552 130.9 L1555 130.8 L1558 130.7 L1561 130.6 L1564 130.4 L1567 130.3 L1570 130.2 L1573 130.1 L1576 130 L1579 130.3 L1582 130.6 L1585 131 L1588 131.3 L1591 131.6 L1594 132 L1597 132.3 L1600 132.6 L1603 133.1 L1606 134 L1609 134.8 L1612 135.7 L1615 136.9 L1618 138.2 L1618 150.5 L1615 150.9 L1612 151.3 L1609 151.8 L1606 152.3 L1603 152.8 L1600 153.2 L1597 153.6 L1594 154 L1591 154.3 L1588 154.7 L1585 155.1 L1582 155.5 L1579 155.8 L1576 156.2 L1573 156.4 L1570 156.5 L1567 156.7 L1564 156.9 L1561 157 L1558 157.2 L1555 157.3 L1552 157.5 L1549 157.7 L1546 157.8 L1543 157.6 L1540 157.3 L1537 157 L1534 156.6 L1531 156.3 L1528 156 L1525 155.6 L1522 155.2 L1519 154.8 L1516 154.5 L1513 154.3 L1510 154.1 L1507 153.9 L1504 153.7 L1501 153.4 L1498 153.1 L1495 153.2 L1492 153.8 L1489 154.4 L1486 155 L1483 155.5 L1480 156 L1477 156.4 L1474 156.5 L1471 156.7 L1468 156.9 L1465 157.1 L1462 157.3 L1459 157.5 L1456 157.6 L1453 157.8 L1450 157.7 L1447 157.4 L1444 157 L1441 156.6 L1438 156.2 L1435 155.8 L1432 155.4 L1429 155 L1426 154.6 L1423 153.2 L1420 151.7 L1417 150.3 L1414 148.9 L1411 147.6 L1408 146.4 Z" fill="url(#g5)"/>
<path d="M1412 138.3M1522 136.3M1485.3 135M1499.9 136.7M1511.3 135.2M1414.4 135M1411.8 137.8M1502.4 135.9M1493.4 134.7M1490.7 135.9M1615.5 135.3M1505.6 136.1M1498.2 135.6M1502.1 134.7M1497.6 135.4M1411.3 139.1M1479.4 134.8M1528.9 135.8M1505 136M1412 137.2" marker-start="url(#m119)" marker-mid="url(#m119)" marker-end="url(#m119)"/>
<path d="M1418.9 135.5M1599.7 135M1511.5 135.3M1501.8 136.5M1587.9 134.7M1599.1 135.5M1477.3 134.8M1415.8 136.2M1602.8 135M1610.8 135.4M1511.4 134.5M1597.4 136.8M1519.5 134.9M1516.7 137.1M1413.5 135.7M1411.3 137.1M1496.2 137M1519.6 135.5M1505.4 137.6M1612 134.6M1514.2 135.4M1519.4 137.3M1504.6 136.5" marker-start="url(#m126)" marker-mid="url(#m126)" marker-end="url(#m126)"/>
<path d="M1509.8 137.9M1410.2 140.7M1499.6 137M1415.1 136.3M1584.8 134.6M1494.9 135.1M1521.7 135.2M1413 135.2M1504.6 136.1M1522.3 134.5M1515.7 137.1M1593.5 135.5M1484.1 134.8M1605.8 135.9M1413 137.9M1520.1 136.6M1611.6 137.4M1492 136.6M1412.1 137.5M1499.1 134.9M1523.9 135M1510.3 136.6M1505.2 138M1412 137.8M1604.3 134.9M1617.6 137.1M1411.7 136.5" marker-start="url(#m127)" marker-mid="url(#m127)" marker-end="url(#m127)"/>
<path d="M1484.3 153.3M1485.9 152.4M1408.7 146.6M1612.9 149.2M1503.8 152.2M1497 154.4M1603.2 151.5M1559 154.3M1414.7 148.8M1421.7 153.3M1492.3 152.7M1444.6 153.8M1413.7 149.3M1519.2 154.6M1488.7 152.6M1486.3 154.9M1493.1 154.2M1517.6 153.7M1590.2 154.8M1416.1 149.8M1507 152.7M1412.8 149.3M1506.8 151.9M1429.2 152.9M1617.7 150.2M1416.1 150.1M1416.2 151.2M1609.2 149.8M1422.8 153.9M1508.9 154.3M1596.8 152.9M1417.2 151M1616 152.4M1615.5 151.6M1616 151.5M1616 152.6M1610 153.3M1614.3 152.1M1529.9 154M1602.4 151.9M1517 153.3M1558.5 154.2M1599.7 154.1M1598.8 154.6M1524.3 154.8M1548.5 154.7M1412.9 147.8M1598.5 154.9M1571.5 154.7M1589.4 152.1M1453.9 154.8" marker-start="url(#m121)" marker-mid="url(#m121)" marker-end="url(#m121)"/>
<path d="M1413.6 148.9M1595.1 154.8M1422.4 152M1505.1 154.7M1417.4 151.6M1476.2 154.9M1488.2 152.9M1408.9 147.1M1495.8 153M1601.7 155M1551.2 153.3M1501.7 154.6M1607.5 151.9M1410.3 147.7M1558.8 155M1439.2 154.1M1409.3 147.5M1497 152M1501.8 153.4M1557.1 154.3M1414.2 150.3M1615.3 151.8M1613.2 153.6M1602.7 153.3M1612 151.8M1606.9 153.9M1516.2 154.9M1501.6 151.7M1587.6 153.2M1588.7 154.4M1608.7 151.1M1424.5 153.7M1408.7 146.8M1592.9 155M1603.6 150.9M1507.9 154.4M1581.1 153.1M1599.4 154M1587.9 152.8M1411 147.1M1514.3 153.4" marker-start="url(#m128)" marker-mid="url(#m128)" marker-end="url(#m128)"/>
<path d="M1481.1 153.8M1602.3 152M1483.1 154.9M1416.4 151.2M1481.9 154.4M1615.6 150.4M1601 153.1M1598.3 154.8M1418.4 150M1426.9 152.9M1605.6 153.9M1611.6 151.4M1489.7 153.4M1607.2 152.2M1420.5 152.2M1466.1 154.2M1610.1 150.4M1610.2 152.3M1495.5 154.6M1419.8 152.9M1498.5 154.8M1485.1 154.2M1423.1 153.6M1516.2 151.6M1510.2 152M1497.5 152.4M1422 153.9M1494 153.8M1436.4 154.6M1495 152.7M1483.6 154.1M1415.5 150.8M1408.1 146.9M1418.8 150.6M1609.2 152.9M1408.3 146.8M1607.9 150.9M1600.4 151.4M1600.9 154.4M1523 154.4M1590.3 153.4M1585.8 154.9M1419.2 151.2M1426.7 153.2M1447.2 154.8M1429.1 153.5M1476.2 154M1473.3 154.1M1428.2 154.2M1501 154.2M1423.7 151.6" marker-start="url(#m129)" marker-mid="url(#m129)" marker-end="url(#m129)"/>
<path d="M1448.5 128.6M1472.1 133.4M1584.2 131.6M1524.2 132.8M1520.6 133.8M1598.3 134.1M1571.4 130M1574.7 126.3M1476.3 129.5M1521.1 133.3M1601.6 133.9M1570.5 132M1565.9 126.7M1562.9 132.8M1574.8 126.5M1440.9 124.9M1432.2 128.1M1477.4 129M1562.5 132.3M1590.8 130.9M1440.3 131.8M1574 125.3M1578.6 129M1458.1 127.1M1440.1 128.1M1555 128.9M1444.1 126M1576.9 125.8M1416.5 134.3M1521.7 134.1M1531.1 132.1M1609.7 133.8M1578.1 132M1598.4 133.3M1422.8 131M1578.1 126.1M1588.6 129.4M1553.8 128.4M1449.8 129.8M1582.5 132.4M1465.2 128.5M1606.1 131.8M1474 133.3M1459.5 131.8M1556.4 127.9M1496.3 133.6M1452.8 125.3M1578.7 129.5M1466.5 128.5M1476.2 128.2M1534.2 131.6M1420.1 130.5M1588.3 127.2M1486.2 128.2M1472.4 126.2M1545.1 127.9M1576.7 124.6M1487.7 130.6M1490.6 130M1489.6 131M1545.1 127.4M1436.8 125.1M1439.6 124.7M1439.9 125.2M1581.1 126.6M1585.4 128M1582.7 127.4M1470.4 126.8M1465.5 127.5M1468.2 126.6M1466.9 126.1M1491.2 131.5M1603.6 133.4M1516.5 133.8M1500.6 134M1470.7 129.4M1423.9 130.4M1529.3 131.8M1536.6 131.5M1472 129.8M1557.2 127.5M1468.9 128.5M1474.3 131.2M1564.5 128.4M1572.6 129.1M1440.5 132.3M1522.3 133.5M1567.2 131.4M1449.3 126.1M1440.3 126M1567.6 127.5M1445.2 127.8M1482.4 132.8M1571 127.8M1559.5 132.3" marker-start="url(#m130)" marker-mid="url(#m130)" marker-end="url(#m130)"/>
<path d="M1529.8 129.9M1458.2 127.7M1420.2 131.5M1460.5 127.6M1475 129M1478.4 129.1M1599.1 132.7M1602.5 131.5M1594.4 133M1454.7 126.9M1565.9 127.4M1527.3 133M1610.5 131.9M1469.8 127.6M1565.9 127.1M1590.1 130.4M1612.6 132.8M1480.9 130.6M1425 132.1M1461.5 126.6M1439.8 125.8M1520.3 133.2M1439.7 126.5M1565.6 131.3M1433.7 128.1M1426.2 130.2M1423.3 130.4M1475.5 133.9M1453.5 128.3M1464.8 126.8M1449.5 128.6M1435.6 131.1M1591.4 131.9M1520.7 133.7M1469.9 129.9M1607.8 134.5M1485 130.9M1516.9 134.1M1449.4 128.5M1488.6 132.6M1450.1 126M1576.2 127.1M1454.6 126.1M1583.3 132.4M1532.3 134.2M1488.3 133.5M1428.9 127.6M1476.7 130.4M1473.4 129.3M1462.8 128.8M1577.9 128.9M1539.3 132.6M1578.5 128.1M1569.4 129.7M1532.1 132.2M1484.6 130.4M1549.6 128.7M1577.7 128.9M1529.9 133.3M1427.4 128M1544.2 130.6M1438.4 127.5M1597.2 134.1M1555.6 128.3M1534.7 132.9M1454.8 129.4M1550.2 132.4M1527.5 131.8M1606.6 131.4M1451.1 130.1M1478.6 129.2M1545.1 127.7M1436.5 125.1M1491.6 131M1612.2 130.8M1584.4 128M1485.6 129.6M1489.6 128.7M1488.8 130.9M1543.4 128.3M1585.9 129.4M1577.5 126.4M1458.1 125.3M1457 126.8M1419 132.9M1470.3 126M1465.2 128.7M1466.6 128.5M1527.3 131.9M1529.1 131.2M1497.4 133.5M1609.8 133.9M1419.8 133M1420.9 131M1606.9 132.7M1430.4 133.7M1444.9 129.1M1563.9 131.2M1582 133.2M1454.5 127.8M1591.7 131.7M1573.7 129.4M1567.4 130.8M1460.4 132.2M1587.6 130.2M1586 132.4M1599.5 130.9M1437.7 126.1M1489.5 133.1" marker-start="url(#m131)" marker-mid="url(#m131)" marker-end="url(#m131)"/>
<path d="M1473.1 128.5M1579.5 125.4M1431.2 127M1519.8 133.2M1580.1 133.8M1471.7 130.1M1428.7 130.3M1473.2 129.2M1547.3 129.5M1421.8 131.8M1605.1 133.6M1612 134.3M1530.2 131.8M1587.3 133.1M1584.8 129.1M1487.5 131.4M1426.4 129.2M1543.7 131.4M1550.1 129.8M1437.5 125.9M1560.2 130.5M1562.3 129.6M1609.7 132.4M1484 130M1417.6 134.4M1531 133.5M1429.9 127.6M1442.2 130.6M1537.9 131.1M1421.3 131.1M1583.4 128M1610 132.3M1452.4 129.5M1541.9 133.8M1566.1 131.2M1543.3 129.3M1579 126.3M1562.2 129.5M1466.8 131.5M1419.6 133.8M1432.4 126.8M1579.6 127.3M1453.9 127.7M1480.4 133.7M1528.7 131.7M1419 131.5M1438 125.3M1587.3 131M1577.9 124.4M1503.9 134.2M1571.6 125.5M1469.3 126.4M1528.7 130.7M1557.8 126.8M1424.7 127.2M1508.7 133.9M1487.6 128.5M1485.7 130.8M1544.5 126.6M1435.6 125.2M1435.7 124.9M1455.3 125.7M1467.7 128.8M1417.3 132.9M1473.7 128M1528.7 132.2M1526 129.3M1559.6 133.9M1484.3 131M1469.2 133.7M1495 134.1M1548.8 134.2M1588.4 130.7M1569.4 129M1458 130.1M1430.3 130.4M1472 130.1M1548 131.2" marker-start="url(#m132)" marker-mid="url(#m132)" marker-end="url(#m132)"/>
<path d="M1481.6 155.8M1523.8 158.1M1597.5 156.1M1512.9 156.2M1563.6 156.4M1587.8 155.7M1505.3 155.4M1587.8 155.3M1558.7 159.7M1477 157.9M1448.3 159.9M1574.7 160.2M1457.8 159.7M1574 159.7M1485.8 156.7M1565.5 160.2M1558.8 158M1430.1 155.8M1440.7 158.1M1464.1 158.6M1579.1 156.5M1542.9 161M1572.1 159.2M1488.3 155.6M1449.3 155.7M1474.5 158.3M1545.7 159.4M1476.8 157.5M1581.3 158.2M1532.9 158.7M1455 161.1M1603.4 155.2M1502.2 155.1M1456.6 159.9M1431.4 158.1M1500.7 156.5M1546 160.6M1577.3 161.7M1537.2 162.2M1586.8 157.5M1525.9 158.8M1578.2 160.5M1562.6 160.7M1563.3 159.4M1429.1 156.5M1430.4 156.5M1482.6 157.1M1440.9 156M1428.4 157.1M1586.2 156.5M1519.8 155.7M1544 157.2M1548.1 160.2M1572.6 158.8M1507.6 156M1531 156.7M1556.2 159.4M1578.3 156.2M1535.1 159.7" marker-start="url(#m133)" marker-mid="url(#m133)" marker-end="url(#m133)"/>
<path d="M1470.8 158.1M1464 159.7M1576.9 156.9M1464 159.7M1524.2 156.3M1569.3 159.9M1585.9 156.9M1451.7 160.1M1458.2 156.9M1467.6 155.7M1596.6 155.1M1561.8 158.6M1519.8 155.3M1454 161.1M1467.8 159.4M1538.6 159.8M1428 157M1456.8 156.7M1562.8 157.2M1455.2 157.9M1586.3 155.7M1565.4 160.5M1546.7 159.1M1530.9 159.7M1557 158.1M1459.8 159.1M1433.2 155.5M1577.8 159.3M1464.5 158.2M1581.5 158.9M1512 156.6M1425.9 156.1M1486.4 156.1M1535.2 157.1M1526.7 156.2M1574.4 156.4M1598 155.7M1482.7 156M1593.4 158.3M1575 161.7M1456.8 161.4M1467.5 160.3M1586.8 158.6M1575 159.5M1591.6 157.5M1524.6 160.8M1578.6 160.3M1563.6 159.5M1549.2 156.6M1459.1 160.3M1455 159.3M1441.1 157.9M1426.7 155.3M1458 156.7M1458.3 155.8M1463.5 157.1M1446.1 159.3" marker-start="url(#m134)" marker-mid="url(#m134)" marker-end="url(#m134)"/>
<path d="M1583.9 158.5M1457.3 159.5M1538.4 158.2M1528.3 155.3M1459.3 160.6M1491 155.3M1468.9 156.4M1535.1 156.6M1589.4 156.7M1558.5 158.8M1539.5 157.5M1449.8 160.2M1470.8 159.2M1463 157.2M1568.4 160M1549 159.1M1459.4 159.8M1568.5 155.9M1554.9 157.7M1521.4 156.2M1572.7 159.8M1523.9 155.6M1547.1 159.2M1467.9 156.3M1561.3 155.7M1447.1 159.8M1470 158M1522 155.4M1523.4 157.8M1440.6 156.1M1589.8 157.6M1524.2 157M1463.1 157.3M1534 158.1M1563.3 156.4M1479.9 155.5M1549.2 155.1M1543.9 156.8M1535.9 159.8M1464.7 159.3M1506.5 155.3M1530.9 157M1555.3 157M1532.2 159.4M1578.5 156.5M1577.8 158.7M1450.2 161.4M1447.7 159.1M1492.2 156M1460.4 161M1582.8 158.1M1512.9 155.4M1552 156.8M1452.2 161M1568.7 159.5M1582.7 157.6M1451.9 161.4M1560.9 160M1532.1 161.8M1433.4 158.2M1586.4 158.5M1581.8 159.3M1532.5 161M1429.8 157.8M1552.9 157.9M1575.8 159.8M1590.6 157.8M1523.7 158.2M1581 159.3M1581.8 159.8M1580.3 158.7M1566.5 159.7M1556.6 158.3M1432 159.6M1439.6 157.3M1457.2 159.9M1449.6 158M1439.4 155.9M1463.6 156.5M1560.8 158M1537.8 157.8M1545.3 160.9M1529.2 157.6M1535.8 157.4M1448.1 157.8M1539.1 158.7M1537.9 155.2M1441.3 157.8M1484.7 156.1M1465.5 158.7M1578.3 157.6M1459.3 155.9" marker-start="url(#m135)" marker-mid="url(#m135)" marker-end="url(#m135)"/>
<path d="M1574.5 123.5M1454.2 122.9" marker-start="url(#m136)" marker-mid="url(#m136)" marker-end="url(#m136)"/>
<path d="M1450 123.3M1456.1 123.9" marker-start="url(#m137)" marker-mid="url(#m137)" marker-end="url(#m137)"/>
<path d="M1316.1 244M1290.4 245.4M1249 245.2M1257.3 243M1295.2 245M1200.3 247.6M1269.7 244.5M1230 245.4M1294.8 244.6M1282.5 243.3M1249.7 242.8M1281.4 243.1M1208.5 244.7M1283.6 243.1M1232.3 245M1283.3 243.7M1216.3 245.4M1222.8 244.2M1248.3 243.1M1222.2 243.6M1286.6 244.2M1273.7 244.1M1305.5 244.3M1291 245M1315.7 244.9M1235.6 244.2M1207.8 243.4M1213.1 245.4M1288.3 244.4M1248.7 244.7M1277.1 242.9M1237.3 244.8M1287.4 245.4" marker-start="url(#m138)" marker-mid="url(#m138)" marker-end="url(#m138)"/>
<path d="M1255.3 243.8M1214.9 244.4M1224.5 243.5M1235.6 243.4M1238.8 244.5M1203.3 245.5M1222 245.4M1301.7 244.6M1307.7 243.9M1219.8 245.6M1294.4 244.3M1206.4 244.9M1204.2 245M1320 242.6M1206 245.3M1203.5 245.1M1297 243.1M1259.1 242.6M1237.6 244.4M1217 243.8M1303.9 243.8M1208.8 245.3M1215.4 244.2M1296.5 245.6M1304.2 244.8M1237.7 243.5M1299.7 243.3M1262 243.2M1243.3 244.8M1276.4 243.3M1261.6 242.5M1257.4 243.9M1208.6 245.6M1205.1 244.9M1204.6 245.2M1287.5 243.3M1276.5 243.5M1229.9 243.5M1219.7 245.2M1209.7 244.8" marker-start="url(#m17)" marker-mid="url(#m17)" marker-end="url(#m17)"/>
<path d="M1290.6 257M1225.1 254.7M1262.8 259M1309.8 258.1M1212.1 256.9M1202.3 254.3M1229.3 253.6M1245.2 254.1M1264.6 254.9M1250.9 258M1307.8 255.5M1209.8 256.5M1236.4 256.3M1281.5 255.8M1265.7 256.5M1288.8 257.4M1239.6 254.8M1288.8 257.8M1219.8 256.5M1310.6 259M1283.1 258.1M1314.3 259.5M1274.1 258M1311 256.7M1316.5 259.3M1309.2 258.1M1294 258.2M1227.1 255.3M1265.6 256.7M1297.9 258.3M1270.3 259M1282.1 255.1M1268.6 256.6M1296.7 259M1272.6 256M1291 256" marker-start="url(#m139)" marker-mid="url(#m139)" marker-end="url(#m139)"/>
<path d="M1320.9 256.2M1231.8 257.3M1273 255.8M1219.2 254.8M1253.3 257.1M1281.7 258.1M1204.2 256M1248.6 256M1211.5 254.5M1216.5 256.3M1227.5 256.5M1218.6 255.2M1257.5 258.2M1218.6 254M1282.7 255.9M1243 254.7M1233.6 256.8M1219.3 253.8M1202.6 254.1M1318.4 257.4M1311.4 256.3M1222.2 256.9M1225.2 257.1M1294.6 258.2M1242.9 256.7M1269.9 259M1290.5 255.8M1219.7 255.8M1230.9 255.3M1296.3 256.2M1321.2 257.3M1204 255.9M1259.3 258.7M1261 256.8M1305.6 259.1M1280 258.3M1217.8 256.4" marker-start="url(#m140)" marker-mid="url(#m140)" marker-end="url(#m140)"/>
<path d="M1200 249 L1203 243.7 L1206 243.5 L1209 243.5 L1212 243.5 L1215 243.5 L1218 243.4 L1221 243.4 L1224 243.4 L1227 243.4 L1230 243.4 L1233 243.3 L1236 243.3 L1239 243.3 L1242 243.3 L1245 243.3 L1248 243.2 L1251 243.2 L1254 243.2 L1257 243.2 L1260 243.2 L1263 243.1 L1266 243.1 L1269 243.1 L1272 243.1 L1275 243.1 L1278 243 L1281 243 L1284 243 L1287 243 L1290 243 L1293 242.9 L1296 242.9 L1299 242.9 L1302 242.9 L1305 242.8 L1308 242.7 L1311 242.7 L1314 242.6 L1317 242.6 L1320 242.5 L1322 242.5 L1322 260 L1320 259.9 L1317 259.8 L1314 259.8 L1311 259.7 L1308 259.6 L1305 259.5 L1302 259.5 L1299 259.4 L1296 259.3 L1293 259.2 L1290 259.1 L1287 259 L1284 258.9 L1281 258.8 L1278 258.7 L1275 258.6 L1272 258.5 L1269 258.4 L1266 258.3 L1263 258.2 L1260 258.1 L1257 258 L1254 257.9 L1251 257.8 L1248 257.7 L1245 257.6 L1242 257.5 L1239 257.4 L1236 257.3 L1233 257.2 L1230 257.1 L1227 257 L1224 256.9 L1221 256.8 L1218 256.7 L1215 256.6 L1212 256.5 L1209 256.4 L1206 256.3 L1203 256 L1200 249 Z" fill="url(#g6)"/>
<path d="M1200 249 L1203 243.7 L1206 243.5 L1209 243.5 L1212 243.5 L1215 243.5 L1218 243.4 L1221 243.4 L1224 243.4 L1227 243.4 L1230 243.4 L1233 243.3 L1236 243.3 L1239 243.3 L1242 243.3 L1245 243.3 L1248 243.2 L1251 243.2 L1254 243.2 L1257 243.2 L1260 243.2 L1263 243.1 L1266 243.1 L1269 243.1 L1272 243.1 L1275 243.1 L1278 243 L1281 243 L1284 243 L1287 243 L1290 243 L1293 242.9 L1296 242.9 L1299 242.9 L1302 242.9 L1305 242.8 L1308 242.7 L1311 242.7 L1314 242.6 L1317 242.6 L1320 242.5 L1322 242.5 L1322 249 L1320 249 L1317 249 L1314 249 L1311 249 L1308 249 L1305 249 L1302 249 L1299 249 L1296 249 L1293 249 L1290 249 L1287 249 L1284 249 L1281 249 L1278 249 L1275 249 L1272 249 L1269 249 L1266 249 L1263 249 L1260 249 L1257 249 L1254 249 L1251 249 L1248 249 L1245 249 L1242 249 L1239 249 L1236 249 L1233 249 L1230 249 L1227 249 L1224 249 L1221 249 L1218 249 L1215 249 L1212 249 L1209 249 L1206 249 L1203 249 L1200 249 Z" fill="#2ef32e"/><path d="M1200 249 L1203 243.7 L1206 243.5 L1209 243.5 L1212 243.5 L1215 243.5 L1218 243.4 L1221 243.4 L1224 243.4 L1227 243.4 L1230 243.4 L1233 243.3 L1236 243.3 L1239 243.3 L1242 243.3 L1245 243.3 L1248 243.2 L1251 243.2 L1254 243.2 L1257 243.2 L1260 243.2 L1263 243.1 L1266 243.1 L1269 243.1 L1272 243.1 L1275 243.1 L1278 243 L1281 243 L1284 243 L1287 243 L1290 243 L1293 242.9 L1296 242.9 L1299 242.9 L1302 242.9 L1305 242.8 L1308 242.7 L1311 242.7 L1314 242.6 L1317 242.6 L1320 242.5 L1322 242.5 L1322 249 L1320 249 L1317 249 L1314 249 L1311 249 L1308 249 L1305 249 L1302 249 L1299 249 L1296 249 L1293 249 L1290 249 L1287 249 L1284 249 L1281 249 L1278 249 L1275 249 L1272 249 L1269 249 L1266 249 L1263 249 L1260 249 L1257 249 L1254 249 L1251 249 L1248 249 L1245 249 L1242 249 L1239 249 L1236 249 L1233 249 L1230 249 L1227 249 L1224 249 L1221 249 L1218 249 L1215 249 L1212 249 L1209 249 L1206 249 L1203 249 L1200 249 Z" fill="url(#cylT)"/>
<path d="M1200 249 L1203 256 L1206 256.3 L1209 256.4 L1212 256.5 L1215 256.6 L1218 256.7 L1221 256.8 L1224 256.9 L1227 257 L1230 257.1 L1233 257.2 L1236 257.3 L1239 257.4 L1242 257.5 L1245 257.6 L1248 257.7 L1251 257.8 L1254 257.9 L1257 258 L1260 258.1 L1263 258.2 L1266 258.3 L1269 258.4 L1272 258.5 L1275 258.6 L1278 258.7 L1281 258.8 L1284 258.9 L1287 259 L1290 259.1 L1293 259.2 L1296 259.3 L1299 259.4 L1302 259.5 L1305 259.5 L1308 259.6 L1311 259.7 L1314 259.8 L1317 259.8 L1320 259.9 L1322 260 L1322 249 L1320 249 L1317 249 L1314 249 L1311 249 L1308 249 L1305 249 L1302 249 L1299 249 L1296 249 L1293 249 L1290 249 L1287 249 L1284 249 L1281 249 L1278 249 L1275 249 L1272 249 L1269 249 L1266 249 L1263 249 L1260 249 L1257 249 L1254 249 L1251 249 L1248 249 L1245 249 L1242 249 L1239 249 L1236 249 L1233 249 L1230 249 L1227 249 L1224 249 L1221 249 L1218 249 L1215 249 L1212 249 L1209 249 L1206 249 L1203 249 L1200 249 Z" fill="#2ef3e6"/><path d="M1200 249 L1203 256 L1206 256.3 L1209 256.4 L1212 256.5 L1215 256.6 L1218 256.7 L1221 256.8 L1224 256.9 L1227 257 L1230 257.1 L1233 257.2 L1236 257.3 L1239 257.4 L1242 257.5 L1245 257.6 L1248 257.7 L1251 257.8 L1254 257.9 L1257 258 L1260 258.1 L1263 258.2 L1266 258.3 L1269 258.4 L1272 258.5 L1275 258.6 L1278 258.7 L1281 258.8 L1284 258.9 L1287 259 L1290 259.1 L1293 259.2 L1296 259.3 L1299 259.4 L1302 259.5 L1305 259.5 L1308 259.6 L1311 259.7 L1314 259.8 L1317 259.8 L1320 259.9 L1322 260 L1322 249 L1320 249 L1317 249 L1314 249 L1311 249 L1308 249 L1305 249 L1302 249 L1299 249 L1296 249 L1293 249 L1290 249 L1287 249 L1284 249 L1281 249 L1278 249 L1275 249 L1272 249 L1269 249 L1266 249 L1263 249 L1260 249 L1257 249 L1254 249 L1251 249 L1248 249 L1245 249 L1242 249 L1239 249 L1236 249 L1233 249 L1230 249 L1227 249 L1224 249 L1221 249 L1218 249 L1215 249 L1212 249 L1209 249 L1206 249 L1203 249 L1200 249 Z" fill="url(#cylB)"/>
<path d="M1651.8 239.9M1662.6 239.5M1575.4 240.8M1636.9 235.7M1585 240.4M1669.5 241.6M1547.7 239.5M1562.3 239.6M1673.4 240.5M1613.8 234.1M1670.2 241.5M1616.2 236.4M1574.7 239.2M1549.5 236.6M1645.7 237.7M1653.2 240.5M1574 236.6M1586.3 237.6M1540.5 236.6M1642.6 238.4M1605.8 236.3M1612.1 238.1M1555.1 238M1578 237.3M1657.6 240.1M1567.5 238.2M1580.2 240.8M1545.6 240.2M1675.1 244.2M1618.1 236M1544 238.3M1675.9 243.9M1630.9 236.8M1602.5 236.7M1588 240.1M1568.8 239.1M1590.2 236M1631.9 237.4M1674.4 242.6M1593.6 238.8M1638.5 239.7M1614.3 239.4M1556.1 240.4M1586.3 237.3M1648.3 237.7M1548.7 237.7M1672.8 242.8M1653.6 236M1676 242.8M1666.1 235.1" marker-start="url(#m19)" marker-mid="url(#m19)" marker-end="url(#m19)"/>
<path d="M1551.3 238.9M1668.8 241.1M1554.9 235.6M1587.4 236.1M1607.2 240M1603.8 239.3M1600.9 238.6M1651.5 236.1M1614.8 237.6M1585.6 238.2M1572.2 238.6M1649.5 235.5M1563.7 238.5M1670.8 240.7M1571 241.1M1591.7 240.9M1622.9 238.6M1595.8 236.4M1671.5 241.3M1545.9 236.1M1643.6 235.7M1634.7 238.1M1675.4 244.5M1573.9 236.4M1545.8 236.6M1564.7 238.3M1667.7 240.9M1622.6 236.9M1657.4 240.3M1613.1 234.8M1642 235.4M1588.9 236M1653.9 240.9M1545.6 236.8M1652.7 237.9M1594.6 238.9M1672.6 240.9M1651.5 239.9M1674.4 242M1641 238.2M1673.5 240.8M1642.9 236.1M1598 236.9M1612.8 238.8M1647.3 239.1M1599 235.6M1631.4 239.4M1638.6 232.9M1577.3 235.6M1630 232.2" marker-start="url(#m141)" marker-mid="url(#m141)" marker-end="url(#m141)"/>
<path d="M1548.4 261.2M1649.3 262.1M1584.7 263M1654 259.1M1559.6 258.6M1624.1 261.6M1650.9 261.1M1655 259.5M1652.8 262.1M1555.8 260.5M1645.3 259.4M1603 258.4M1585.9 262.3M1646.3 263.3M1549.6 259.7M1644 261.9M1591.6 262.8M1617.5 262.4M1669.7 261.1M1595.1 259.9M1564.3 257.7M1663.7 260.4M1575.1 265.5M1634.2 263.2M1663.1 261.8M1548.9 258.2M1555.9 260.5M1665.7 264.4M1675.8 253.2M1614.1 262.1M1646.8 262M1630 259.8M1578.4 263.9M1555 263.7M1597.7 258.8M1564.7 262.6M1610.4 260.4M1596.4 258.9M1650.3 263.5M1635.8 260.4M1661.5 259.5M1645.8 259.5M1548.3 258.1M1612.4 261.1M1659.4 261.4M1573.1 263.7M1585.5 264.7M1573 265.8M1634.7 262.6M1619.5 264.2M1570.7 262.2M1652.7 264.1" marker-start="url(#m142)" marker-mid="url(#m142)" marker-end="url(#m142)"/>
<path d="M1575.6 265.3M1644 262.7M1559.9 257.8M1541.1 262M1568.1 261.8M1560.2 261.4M1562.3 262.8M1641.2 261.2M1581.2 263.7M1648.2 259M1543.2 263.7M1634.9 258M1596.1 258.5M1611.6 263.8M1632.5 259.1M1651.8 263.1M1615.2 263.7M1588.1 264.7M1631.1 263.6M1622.5 264M1607.4 259.5M1586.5 262.2M1656.4 258.3M1588.7 259.3M1585.6 262.4M1656.7 262.5M1640.1 263.2M1557.3 258M1665.2 263.5M1650.5 259.6M1563.6 261.1M1668.4 263.7M1556.5 262.3M1569.8 259.1M1638.7 257.8M1545.3 261.4M1669.4 262.5M1541 262.1M1656.4 258M1606.8 258.1M1655.6 262.1M1627.2 263.4M1580.2 263.3M1550.2 259.4M1614.2 266.6M1617.7 265.9M1544.4 264.5M1548.3 264" marker-start="url(#m143)" marker-mid="url(#m143)" marker-end="url(#m143)"/>
<path d="M1540 236.9 L1543 236.9 L1546 236.9 L1549 236.9 L1552 236.9 L1555 236.9 L1558 236.9 L1561 236.9 L1564 236.9 L1567 236.9 L1570 236.9 L1573 236.9 L1576 236.9 L1579 236.9 L1582 236.9 L1585 236.9 L1588 236.9 L1591 236.9 L1594 236.9 L1597 236.9 L1600 236.9 L1603 236.9 L1606 236.9 L1609 236.9 L1612 236.9 L1615 236.9 L1618 236.9 L1621 236.9 L1624 236.9 L1627 236.9 L1630 236.9 L1633 236.9 L1636 236.9 L1639 236.9 L1642 236.9 L1645 236.9 L1648 236.9 L1651 236.9 L1654 236.9 L1657 236.9 L1660 236.9 L1663 236.9 L1666 236.9 L1669 237.6 L1672 239.1 L1675 242.3 L1677 249 L1677 249 L1675 256.9 L1672 260.5 L1669 262.4 L1666 263.2 L1663 263.2 L1660 263.2 L1657 263.2 L1654 263.2 L1651 263.2 L1648 263.2 L1645 263.2 L1642 263.2 L1639 263.2 L1636 263.2 L1633 263.2 L1630 263.2 L1627 263.2 L1624 263.2 L1621 263.2 L1618 263.2 L1615 263.2 L1612 263.2 L1609 263.2 L1606 263.2 L1603 263.2 L1600 263.2 L1597 263.2 L1594 263.2 L1591 263.2 L1588 263.2 L1585 263.2 L1582 263.2 L1579 263.2 L1576 263.2 L1573 263.2 L1570 263.2 L1567 263.2 L1564 263.2 L1561 263.2 L1558 263.2 L1555 263.2 L1552 263.2 L1549 263.2 L1546 263.2 L1543 263.2 L1540 263.2 Z" fill="url(#g7)"/>
<path d="M1540 236.9 L1543 236.9 L1546 236.9 L1549 236.9 L1552 236.9 L1555 236.9 L1558 236.9 L1561 236.9 L1564 236.9 L1567 236.9 L1570 236.9 L1573 236.9 L1576 236.9 L1579 236.9 L1582 236.9 L1585 236.9 L1588 236.9 L1591 236.9 L1594 236.9 L1597 236.9 L1600 236.9 L1603 236.9 L1606 236.9 L1609 236.9 L1612 236.9 L1615 236.9 L1618 236.9 L1621 236.9 L1624 236.9 L1627 236.9 L1630 236.9 L1633 236.9 L1636 236.9 L1639 236.9 L1642 236.9 L1645 236.9 L1648 236.9 L1651 236.9 L1654 236.9 L1657 236.9 L1660 236.9 L1663 236.9 L1666 236.9 L1669 237.6 L1672 239.1 L1675 242.3 L1677 249 L1677 249 L1675 249 L1672 249 L1669 249 L1666 249 L1663 249 L1660 249 L1657 249 L1654 249 L1651 249 L1648 249 L1645 249 L1642 249 L1639 249 L1636 249 L1633 249 L1630 249 L1627 249 L1624 249 L1621 249 L1618 249 L1615 249 L1612 249 L1609 249 L1606 249 L1603 249 L1600 249 L1597 249 L1594 249 L1591 249 L1588 249 L1585 249 L1582 249 L1579 249 L1576 249 L1573 249 L1570 249 L1567 249 L1564 249 L1561 249 L1558 249 L1555 249 L1552 249 L1549 249 L1546 249 L1543 249 L1540 249 Z" fill="#2ef32e"/><path d="M1540 236.9 L1543 236.9 L1546 236.9 L1549 236.9 L1552 236.9 L1555 236.9 L1558 236.9 L1561 236.9 L1564 236.9 L1567 236.9 L1570 236.9 L1573 236.9 L1576 236.9 L1579 236.9 L1582 236.9 L1585 236.9 L1588 236.9 L1591 236.9 L1594 236.9 L1597 236.9 L1600 236.9 L1603 236.9 L1606 236.9 L1609 236.9 L1612 236.9 L1615 236.9 L1618 236.9 L1621 236.9 L1624 236.9 L1627 236.9 L1630 236.9 L1633 236.9 L1636 236.9 L1639 236.9 L1642 236.9 L1645 236.9 L1648 236.9 L1651 236.9 L1654 236.9 L1657 236.9 L1660 236.9 L1663 236.9 L1666 236.9 L1669 237.6 L1672 239.1 L1675 242.3 L1677 249 L1677 249 L1675 249 L1672 249 L1669 249 L1666 249 L1663 249 L1660 249 L1657 249 L1654 249 L1651 249 L1648 249 L1645 249 L1642 249 L1639 249 L1636 249 L1633 249 L1630 249 L1627 249 L1624 249 L1621 249 L1618 249 L1615 249 L1612 249 L1609 249 L1606 249 L1603 249 L1600 249 L1597 249 L1594 249 L1591 249 L1588 249 L1585 249 L1582 249 L1579 249 L1576 249 L1573 249 L1570 249 L1567 249 L1564 249 L1561 249 L1558 249 L1555 249 L1552 249 L1549 249 L1546 249 L1543 249 L1540 249 Z" fill="url(#cylT)"/>
<path d="M1540 263.2 L1543 263.2 L1546 263.2 L1549 263.2 L1552 263.2 L1555 263.2 L1558 263.2 L1561 263.2 L1564 263.2 L1567 263.2 L1570 263.2 L1573 263.2 L1576 263.2 L1579 263.2 L1582 263.2 L1585 263.2 L1588 263.2 L1591 263.2 L1594 263.2 L1597 263.2 L1600 263.2 L1603 263.2 L1606 263.2 L1609 263.2 L1612 263.2 L1615 263.2 L1618 263.2 L1621 263.2 L1624 263.2 L1627 263.2 L1630 263.2 L1633 263.2 L1636 263.2 L1639 263.2 L1642 263.2 L1645 263.2 L1648 263.2 L1651 263.2 L1654 263.2 L1657 263.2 L1660 263.2 L1663 263.2 L1666 263.2 L1669 262.4 L1672 260.5 L1675 256.9 L1677 249 L1677 249 L1675 249 L1672 249 L1669 249 L1666 249 L1663 249 L1660 249 L1657 249 L1654 249 L1651 249 L1648 249 L1645 249 L1642 249 L1639 249 L1636 249 L1633 249 L1630 249 L1627 249 L1624 249 L1621 249 L1618 249 L1615 249 L1612 249 L1609 249 L1606 249 L1603 249 L1600 249 L1597 249 L1594 249 L1591 249 L1588 249 L1585 249 L1582 249 L1579 249 L1576 249 L1573 249 L1570 249 L1567 249 L1564 249 L1561 249 L1558 249 L1555 249 L1552 249 L1549 249 L1546 249 L1543 249 L1540 249 Z" fill="#2ef3e6"/><path d="M1540 263.2 L1543 263.2 L1546 263.2 L1549 263.2 L1552 263.2 L1555 263.2 L1558 263.2 L1561 263.2 L1564 263.2 L1567 263.2 L1570 263.2 L1573 263.2 L1576 263.2 L1579 263.2 L1582 263.2 L1585 263.2 L1588 263.2 L1591 263.2 L1594 263.2 L1597 263.2 L1600 263.2 L1603 263.2 L1606 263.2 L1609 263.2 L1612 263.2 L1615 263.2 L1618 263.2 L1621 263.2 L1624 263.2 L1627 263.2 L1630 263.2 L1633 263.2 L1636 263.2 L1639 263.2 L1642 263.2 L1645 263.2 L1648 263.2 L1651 263.2 L1654 263.2 L1657 263.2 L1660 263.2 L1663 263.2 L1666 263.2 L1669 262.4 L1672 260.5 L1675 256.9 L1677 249 L1677 249 L1675 249 L1672 249 L1669 249 L1666 249 L1663 249 L1660 249 L1657 249 L1654 249 L1651 249 L1648 249 L1645 249 L1642 249 L1639 249 L1636 249 L1633 249 L1630 249 L1627 249 L1624 249 L1621 249 L1618 249 L1615 249 L1612 249 L1609 249 L1606 249 L1603 249 L1600 249 L1597 249 L1594 249 L1591 249 L1588 249 L1585 249 L1582 249 L1579 249 L1576 249 L1573 249 L1570 249 L1567 249 L1564 249 L1561 249 L1558 249 L1555 249 L1552 249 L1549 249 L1546 249 L1543 249 L1540 249 Z" fill="url(#cylB)"/>
<line x1="1352.7" y1="185.7" x2="1352.7" y2="249.0" stroke="#151515" stroke-width="2"/>
<line x1="1352.7" y1="191.4" x2="1352.7" y2="249.0" stroke="#151515" stroke-width="2"/>
<line x1="1359.0" y1="200.7" x2="1359.0" y2="249.0" stroke="#151515" stroke-width="2"/>
<path d="M1318 243.5 L1321 242.1 L1324 240.7 L1327 239.3 L1330 238 L1333 236.6 L1336 235 L1339 233.3 L1342 231.6 L1345 229.9 L1348 228.7 L1351 228.5 L1354 228.3 L1357 228 L1360 227.8 L1363 227.9 L1366 228 L1369 228 L1372 228.1 L1375 228.2 L1378 228.2 L1381 228.3 L1384 228.4 L1387 228.5 L1390 228.5 L1393 228.6 L1396 228.7 L1399 228.7 L1402 228.8 L1405 228.8 L1408 228.8 L1411 228.8 L1414 228.5 L1417 228.2 L1420 227.8 L1423 227.8 L1426 227.8 L1429 227.8 L1432 227.8 L1435 227.8 L1438 227.8 L1441 227.8 L1444 227.8 L1447 227.8 L1450 227.8 L1453 227.8 L1456 227.8 L1459 227.8 L1462 227.9 L1465 228 L1468 228.2 L1471 228.4 L1474 228.5 L1477 228.7 L1480 228.8 L1483 229 L1486 229.1 L1489 229.3 L1492 229.5 L1495 229.6 L1498 229.5 L1501 229.3 L1504 229.1 L1507 228.9 L1510 228.7 L1513 228.5 L1516 228.3 L1519 228.1 L1522 227.9 L1525 228.4 L1528 229.3 L1531 230.2 L1534 231.1 L1537 231.9 L1540 232.8 L1543 233.7 L1546 235 L1549 237 L1552 239.1 L1555 240.5 L1558 241.6 L1558 258.2 L1555 259.3 L1552 261.6 L1549 266.1 L1546 270.5 L1543 272.1 L1540 272.3 L1537 272.4 L1534 272.5 L1531 272.6 L1528 272.8 L1525 272.9 L1522 272.9 L1519 272.8 L1516 272.7 L1513 272.6 L1510 272.5 L1507 272.4 L1504 272.3 L1501 272.2 L1498 272.1 L1495 272.1 L1492 272.2 L1489 272.2 L1486 272.3 L1483 272.4 L1480 272.5 L1477 272.5 L1474 272.6 L1471 272.7 L1468 272.8 L1465 272.9 L1462 272.9 L1459 273.1 L1456 273.2 L1453 273.3 L1450 273.5 L1447 273.6 L1444 273.7 L1441 273.9 L1438 274 L1435 274.1 L1432 274.3 L1429 274.4 L1426 274.5 L1423 274.7 L1420 274.8 L1417 275.8 L1414 276.9 L1411 278.1 L1408 279.7 L1405 281.3 L1402 282.9 L1399 284 L1396 284 L1393 284 L1390 284 L1387 284 L1384 284 L1381 284 L1378 284 L1375 284 L1372 284 L1369 284 L1366 284 L1363 284 L1360 284 L1357 282.3 L1354 280.6 L1351 278.9 L1348 277.2 L1345 275.2 L1342 273.1 L1339 271 L1336 268.9 L1333 266.8 L1330 265 L1327 263.1 L1324 261.3 L1321 259.4 L1318 257.3 Z" fill="url(#g8)"/>
<path d="M1318.5 243.5M1552.4 239.1M1320.9 239.2M1553 243.4M1481.3 237.7M1480.2 237.8M1552.7 243.6M1323.7 244.3M1353 238.6M1330.9 239.5M1320.1 242.2M1327.5 238.2M1333.8 240.3M1480.7 238M1321.5 241.3M1395.9 238M1542.1 240.8M1324.8 239M1541.7 238.5M1332.5 242.2M1441.5 237.8M1546.5 239M1323.2 241.4M1347.4 237.7M1476.7 237.7M1380.9 238.1M1331.4 238.6M1329.5 238.7M1533.1 239.8M1548.4 241.9M1398.3 237.8" marker-start="url(#m17)" marker-mid="url(#m17)" marker-end="url(#m17)"/>
<path d="M1554.7 238.6M1322.3 240.1M1321.1 240.3M1396.8 237.5M1330.5 237.9M1557.7 242.6M1414.7 238.3M1322.9 240.4M1541.4 239.8M1318.8 244.8M1319.2 244.1M1476.1 238M1490 237.7M1319 241.6M1550.8 238.7M1484.2 238.5M1324.5 239.3M1325.9 242.8M1528.8 238.5M1543.2 239.5M1318.4 243M1321.8 244.2M1328.3 241.8M1549.2 241.2M1318.2 244.4M1556 244.1M1325.2 241M1325.1 241.7M1322.6 243.3" marker-start="url(#m144)" marker-mid="url(#m144)" marker-end="url(#m144)"/>
<path d="M1319.4 242.4M1547.4 238.6M1537.8 238.9M1330.6 239.9M1321.5 244.3M1540.5 240.6M1318.7 245.9M1548.3 238.6M1536 239.9M1544.9 238.4M1547.3 241.2M1499.1 239.2M1366.6 238.4M1362.1 237.9M1534 239.8M1552.1 243.1M1329 238M1555.6 239.5M1320.9 240.9M1373.8 237.7M1550.7 242.8M1519.5 238.5M1556.8 243.1M1473.1 237.9M1332.7 241.8M1318.4 245.6M1320 245M1556.1 243.3M1557.9 240.2M1554.2 240.3M1337.4 238.4M1323.5 245M1552 242M1546.3 241" marker-start="url(#m123)" marker-mid="url(#m123)" marker-end="url(#m123)"/>
<path d="M1556.7 260.1M1322 260.3M1323.2 256.1M1329.3 259.5M1550.7 256.6" marker-start="url(#m140)" marker-mid="url(#m140)" marker-end="url(#m140)"/>
<path d="M1557.8 260.1M1322.8 259.9M1319.1 255.7M1549.5 258.6M1325.3 260.1M1552.6 260.3M1328.1 256.8M1326.3 256.7M1328.7 258.4M1318 255.4M1325.2 255.6M1325 258.4M1551.3 257.7M1324.3 256.3M1319.1 259.6M1331 258.9M1552.9 260.3M1329.7 260.4" marker-start="url(#m145)" marker-mid="url(#m145)" marker-end="url(#m145)"/>
<path d="M1557.2 259.1M1320.7 259.6M1319.1 258.7M1329 257.6M1326.8 259.5M1550.5 258.5M1555.1 255.7M1554.6 255.6M1319.6 257.1M1557.2 254.6M1552.1 260.1M1554.6 259.4M1328.1 259.6M1321.7 256.7M1555.6 260.3M1320.7 256.4" marker-start="url(#m125)" marker-mid="url(#m125)" marker-end="url(#m125)"/>
<path d="M1546.9 232M1530.7 229.4M1462.8 228.8M1364.3 230.7M1347.2 227.6M1543.2 229.7M1353.1 228.9M1444.7 231.9M1328.5 236.4M1537 228.8M1400.8 228.3M1389.9 231.4M1541.6 227.3M1382.3 228.6M1352.4 232.5M1474.1 228.5M1434.8 227.5M1352 231.7M1433.5 230.7M1519.6 226.9M1366.9 230.7M1338.3 229.3M1450.4 230.2M1352.3 233.2M1414.5 231M1551.5 235.2M1480.5 228.8M1425.5 227.6M1344.3 229.9M1337.1 233.1M1460.9 230.6M1329.2 234.7M1350.1 234.7M1550.9 234.5M1343.3 228.8M1550.8 235.1M1457.1 227.4M1491.4 231.5M1341.6 235.2M1426.9 228.9M1333.2 230.4M1549.4 232.3M1325.3 234.6M1328.1 233.6M1329 231.2M1326 229.9M1545.1 229M1521.7 234.7M1461.7 228.6M1464.2 234.2M1476.1 233.3M1406.6 232.1M1498.3 227.7M1443.5 226.1M1515.2 228.1M1398.3 235.5M1374.8 232.8M1473.8 226.3M1481 236.6M1418.3 232.8M1505.3 232.9M1368 228.1M1478.1 233.4M1485.1 229.5M1521.6 230.1M1414.1 236.7M1480.6 236M1446.9 232.7M1412.7 232.6M1424.2 229.7M1548.6 236.6M1536.2 232M1519.1 234.3M1344.8 227.8M1332.2 235.3M1434.7 236.4M1404.1 233.2M1379.7 234.6M1508.4 234M1476.7 233.9M1385.6 235.9M1441.9 236.1M1400.1 233.8M1355.4 235.5M1380 230.3M1371.7 231.4M1448.5 227.5M1368.6 228M1370.8 230.5M1415.5 237M1452.9 228.9M1342.9 231.5M1474.6 234.3M1354.5 226.1M1389 236.1M1411.7 226M1338 232.1M1369.3 228M1410.4 236.9M1422 234M1519.3 226M1341.7 232.6M1444.1 227.1M1474.3 231.8M1502.6 228.4M1535.1 234.2M1505.2 231.2M1390.3 231.3M1407.7 231.4M1395.2 226.8M1499.2 229.9M1492.7 228.1M1522.5 227.2M1474.9 227M1523.6 227.7M1500.2 237.3M1543.6 232.1M1360.5 226.8M1409.5 234.5M1477.9 232M1343.9 227.8M1467.6 227.8M1342.7 235.4M1514.1 229.5M1550.7 236.3M1535.8 232.3M1418.4 234.2M1469.3 236.6M1372.3 228.5M1332.4 236.2M1539.5 231.6M1416.5 236.4M1463.4 229.7M1438.7 232.9M1385.7 232.7M1374.5 233.3M1531.8 229.6M1515.3 233.2M1334.1 233.2M1486.7 232.9M1461.5 232.3M1404.1 228.4M1526 236.1M1448.4 229.3" marker-start="url(#m146)" marker-mid="url(#m146)" marker-end="url(#m146)"/>
<path d="M1519.2 226.7M1492.6 227.1M1340.2 229.4M1380.1 226.5M1420.7 227.4M1539.1 229.8M1363.7 226.6M1348.8 229.5M1329.3 234.6M1500.4 227.5M1542.9 227.8M1355.6 233.5M1393.9 227.3M1504 232.6M1347.9 227.1M1353 227.9M1337.4 232.8M1504.9 228.7M1339.2 229.8M1351.7 228.1M1413.5 226.2M1498.3 226.5M1363.8 231.7M1326.9 236.5M1486.4 226.5M1388.8 226.7M1493.7 226.8M1479 229M1348.7 227.8M1399.6 228.2M1346.5 227.3M1386.4 228.7M1509.4 228.3M1537.9 231.1M1418 226.1M1549.6 234M1550.1 236.5M1339.4 233M1553.3 236.1M1548.6 231.9M1336.3 227.6M1335.8 229.4M1331.7 226.8M1329.6 229.4M1328.7 234M1329.7 235.8M1459.5 234.9M1521.4 232.4M1533.6 232.1M1354.8 227.7M1340.7 229.2M1476.3 234.8M1541.6 232.5M1383.5 226.1M1507.7 235.6M1440.9 227.8M1401.3 228.3M1350.3 235.3M1493.5 235.2M1422.6 233.4M1427 233.8M1458.5 235.4M1455.4 231.3M1533.4 233.1M1528.3 227.2M1422.1 233.5M1502.2 228.9M1505.5 234.5M1426 229.6M1472 234.2M1518.2 237.5M1346.9 231.2M1343 230.6M1368.6 231.3M1501.3 232.8M1481.2 231.6M1383.4 230.7M1423.7 233.9M1481.6 235.6M1536.6 233.1M1401.4 232.3M1502.8 236.9M1464.9 232.3M1488.1 235.1M1432.9 228.2M1398.5 229.5M1437.1 234.5M1422 226.6M1544.7 235.2M1412.3 229.4M1337.8 237.5M1340.2 237.3M1374.8 232.9M1331.1 236.1M1450.1 236.2M1513.8 231.4M1393.5 232.6M1426.1 231.5M1347.2 230.6M1416.3 231.3M1370.9 231.5M1344.4 231.4M1343.3 231.8M1463.4 236.9M1525.6 230.7M1538.7 232.1M1404.5 231.2M1423.3 229M1431.6 228.9M1510.8 226.4M1390.8 235.3M1518.1 226.9M1404 234.9M1450.1 229.6M1425.5 233.7M1424.3 234M1521.7 228.3M1500.3 237M1381.5 235.7M1447.3 231.3M1453.1 226.9M1435.9 230.6M1422.3 226.2M1330.4 235.5M1435.7 226.6M1341 229.5" marker-start="url(#m147)" marker-mid="url(#m147)" marker-end="url(#m147)"/>
<path d="M1385.2 229.2M1349.5 228.1M1372 227M1487.3 228.8M1334.6 235.1M1511.7 226.1M1327.1 236.4M1550.2 233.3M1519.5 230M1343.7 230.4M1419.8 229.9M1536.7 229.3M1474.7 226.7M1514.1 229.8M1350 231.5M1541.9 228.9M1497.9 230.1M1476.3 227M1511.4 228.3M1342 231.2M1425.4 226M1453.2 226.1M1423.7 227M1503.1 226.7M1525.7 226.4M1425.5 231.6M1457.1 232.9M1488.6 226.5M1501.4 227.7M1548.1 233.3M1447.1 229.7M1497.1 230.1M1430.2 230.3M1431.4 229.1M1391.4 227.2M1377.7 228.2M1517.4 229.6M1336.1 234M1408.1 226.8M1352.9 233.6M1474.9 230.6M1540.5 232.2M1367.5 227.5M1413 227.1M1335.3 232.2M1329.5 229.3M1329.7 227.6M1325.3 232.1M1330.8 234M1543.5 228.1M1402 229.1M1471.2 237.4M1424.3 228.9M1494.1 236.1M1465.4 237.4M1379.1 229.3M1408.5 228.8M1484.4 232.5M1427.6 230.2M1485 235.9M1442.3 232.5M1456.5 231.1M1489.5 236.4M1362.6 235M1337.4 234.4M1356.4 236.4M1458.9 235.9M1396.6 234.6M1359 236M1412.2 228.8M1541.7 231.6M1341.6 233.9M1502.9 234M1487 233.9M1514.9 234.1M1537.1 229.1M1515.2 237M1479.7 237.4M1433.7 232.3M1366.8 228M1482.1 234.5M1438.2 235.4M1517.9 226.3M1518.2 226.4M1425 237.3M1406 229.5M1542.6 235.9M1448.4 233.2M1376.5 232.7M1417 227.9M1497.1 237.3M1529.2 231.5M1493.6 237M1360.3 233.1M1412.3 229.8M1347 231.1M1389.4 231.4M1468.1 234.2M1469.5 230.4M1525.7 231.3M1390.3 229.1M1338.5 230.8M1535 237.4M1483.9 226.8M1433.9 227.1M1348.4 228.1M1372.5 229.8M1460.6 234.4M1396.8 227.2M1542.1 237.3M1440.4 229.9M1375.1 227.6M1497.7 228.6M1451.3 231.4M1330 235.7M1538 229.1M1405.8 235.7M1398.2 228.8M1393.3 235.1M1398 233.2M1486.7 228.7M1371.2 231.2M1525.2 233.2M1471.6 235.4M1542.2 230.7M1450.2 228.3M1394.8 234.6M1373.9 236.7M1339.9 233.1M1363.5 227.3M1351.7 232.8M1415.3 232.2M1335.6 234M1339.3 233.3M1545.9 236.7M1479.1 226.1M1501.6 235.6M1497.7 229.6M1491 230.6M1478.8 226.4M1369 234.9M1509.1 235.3M1500.4 236.3M1397.1 229.9M1410.9 226.2M1411 234.3M1474.3 230.7M1508.7 230.9M1450.2 233.4M1336.8 237.1M1425.1 237.2" marker-start="url(#m148)" marker-mid="url(#m148)" marker-end="url(#m148)"/>
<path d="M1555.8 260.6M1323.5 261M1549.3 271M1346.7 271.7M1327.3 268.6M1520.2 270.5M1519.8 271.4M1534.6 270.9M1521.3 271.6M1338.3 269.6M1551.2 264.7M1548 267.1M1379.2 271M1465.1 265.7M1471.5 270.5M1332.8 263.4M1341.2 271.5M1426.2 262.1M1423.6 261.9M1530.6 269.1M1336.6 263.8M1503.4 262.2M1478.5 263M1378 269.4M1494.9 271.3M1514.9 264.2M1460.5 262.9M1354.2 271.8M1435.2 270.5M1517.8 264.1M1549.1 266.5M1469.4 265.4M1343.5 268.2M1414.7 270M1449 265.7M1538.1 270.8M1547.1 266.9M1454 271.8M1520.1 263.2M1383.3 271.3M1512.8 266.6M1547.3 265.7M1358.6 266.3M1394.1 269.4M1506 269.1M1331.5 267.8M1442 270.2M1364.8 267.5M1346 264.8M1323.9 260.7M1505.2 268M1548.6 267.1M1335.9 260.9M1503.6 261.7M1333.2 263M1476 266.8M1508.5 266.7M1491.7 270.4M1535.2 267.7M1357.5 266.4M1489.2 270.7M1432.4 264.4M1506.8 265.7M1446.5 268.2M1535.8 268.9M1495.8 262.5M1391.5 268.9M1408.1 271.4M1497.4 264.7M1337.1 263.1M1515.8 271.6M1347.4 269.4M1551.7 260.9M1452.9 271M1513.2 271.2M1478.9 270.2M1348 268.3M1415.1 271M1490.9 261.6M1452.8 265M1427 268.5" marker-start="url(#m149)" marker-mid="url(#m149)" marker-end="url(#m149)"/>
<path d="M1505.1 272M1478.8 269.9M1516.5 268.3M1472.6 271.9M1323.6 263.1M1325.2 265.9M1344.4 270.6M1551.8 266M1516.7 267.3M1481.6 267.9M1525.4 270M1324.6 266.1M1318.1 260.9M1428.3 262.1M1435.7 269.2M1520.9 266.7M1331.4 262.7M1453.9 269.4M1378.5 269.6M1367.6 267.9M1340.4 267.1M1514.3 270M1490.5 264.5M1547.6 268.8M1480.2 266.1M1463 264.9M1534.6 267.6M1550.9 266.5M1520.4 264.4M1494.2 268.8M1336.1 271.7M1510.3 270.5M1465.8 263.4M1341 261.1M1466.7 269.7M1537 263.4M1426.1 270.1M1380.6 267M1475.2 263.9M1523.8 267.6M1508.6 271.4M1503.8 262M1536.4 262.3M1460.4 261.3M1377 271.7M1496.4 270.5M1425.5 269.9M1461.3 261.8M1425.4 265.9M1524.5 261.9M1497.1 271.5M1337.2 264.3M1484.7 261.1M1334.8 261.2M1538.9 270.7M1367.7 270M1506.8 268.9M1337.9 270.7M1477.8 264.7M1538.4 263.6M1334 271.4M1468.2 266.1M1477.9 268.8M1468.8 270.9M1406 271.7M1402.6 270M1336.4 262.6M1521.4 262.2M1541.1 265.2M1330.4 267.5M1548 268.1M1348.3 267M1321 261.1M1420 265.8M1342.1 267.4M1437.4 267.2M1410.2 266.5M1370.3 266.8M1410.3 264.9M1512 263M1487.6 263.1M1433.5 267.2M1454 262M1327.7 261.1" marker-start="url(#m150)" marker-mid="url(#m150)" marker-end="url(#m150)"/>
<path d="M1428.9 269.6M1551.7 265.2M1449 272M1320.7 261.1M1535 265.3M1330.3 271.1M1448.5 270.7M1550.5 264.7M1329.5 267.4M1330.3 270.2M1528.1 271M1493.1 271.1M1454.6 269.7M1520 270.3M1322 262.4M1482.2 271.7M1478.6 268.3M1485.3 266.8M1534.5 268.5M1549.6 271.4M1323.4 266.9M1551.6 267.7M1323.9 264.2M1512.7 262.4M1514 266.7M1497.8 261.2M1537 270.8M1529 269.6M1534 267.2M1519.6 268.8M1402.1 266.4M1510.4 268.5M1427.4 270.1M1551.8 262.6M1492.3 261M1396 267.5M1507.2 270.9M1337.7 263.4M1459 267.5M1395 266.8M1466.3 264.9M1532.4 264.4M1475.2 270.6M1469.2 266.5M1546.9 271M1532.5 265.9M1517.7 261.7M1411.3 269.6M1428.5 265M1341.7 270.1M1471.3 264.3M1455.4 268.9M1400.6 267.8M1459.3 266M1532.1 263.4M1515.2 263.1M1490.6 270.6M1433.9 270M1461.2 266.5M1512.9 268.7M1334.5 268.8M1503.7 265.3M1539 264.7M1515.9 262.8M1442.4 270M1370.8 267.7M1360.2 267.4M1454.9 266.4M1538.2 265.6M1529.9 269.9M1479.5 261.7M1533.5 267.9M1372.5 268.1M1534.5 260.8M1498 261.2M1327.4 264.8M1411.3 267.8M1443.6 270.7M1430.1 264.7M1526.6 270M1504.8 262.6M1447 262.8M1519.4 262.7M1409.9 264.9M1470.8 264.2M1411.7 269.3M1368.6 267.6M1508.7 271.5M1334 268M1443.4 261.6M1460.9 271.3M1461.6 262M1459.5 271.5M1387.7 267.2M1538.1 262.9M1327.4 262.8M1497.6 271.3" marker-start="url(#m151)" marker-mid="url(#m151)" marker-end="url(#m151)"/>
<path d="M1515.8 223.2M1348.2 224.8M1364.8 225.3M1445.7 224.5M1486.1 224.3M1511.2 224.6M1408.1 224.1M1369 222.9M1356.4 225.6M1364.3 222.2M1412.4 225.5M1453.4 224.3M1483.5 222.7M1485.3 223.7M1377 224.6M1424.1 223.5M1466.1 225.8M1473.7 224.9M1433.2 224.1M1393.5 224M1525.5 223.6M1393.7 224.2M1417.5 224M1448 224.5M1346.8 216.9M1358.7 214.6M1539.5 224.7M1465.5 218.3M1506.4 220.9M1424.7 222.4M1383.9 218.2M1352.3 222.2M1452.9 221.9M1526.4 221M1471.9 217.2M1403.8 224M1404.5 221.5M1447.2 223.2M1449.5 224.2M1511.2 223.4M1404.6 220.4M1417.6 224.4M1428.6 214.7M1431.7 221.7M1541.9 224.6M1527 216.6M1444.4 217.3M1445.5 217.7M1380.8 225.9M1348.6 224.2M1485.7 224.6M1476.4 224.9M1484.5 224.2M1365.3 224.5M1354.3 223.9M1451.1 224.5M1429.5 224.2M1422.9 222.9M1420.9 223.8M1409.9 223.7M1463.8 223.6M1358.3 223.1M1477.2 224.2M1454.1 222.9M1480.6 225.5" marker-start="url(#m152)" marker-mid="url(#m152)" marker-end="url(#m152)"/>
<path d="M1435.8 224.9M1525.3 222.7M1462.8 225M1489.8 225.5M1415.4 226M1416.2 225.6M1364.5 225.7M1406.6 224.2M1419.2 223.5M1512 222.2M1448.8 223.5M1374 223.7M1421.7 224.2M1451.2 223.6M1383.5 223.8M1375.5 223M1513 223.9M1513.8 224.7M1406.8 224.7M1363.5 225.5M1430.1 225.3M1423.3 225.2M1525 225.8M1425.1 218M1535 222M1493.6 225M1462.6 222.9M1444.7 219.4M1408 220.9M1523.4 222M1411 222.5M1439.4 223M1536.9 222.4M1384.7 217.4M1372.5 216.4M1534.6 221.5M1473.2 221.9M1473.9 219.8M1330.2 222.7M1368.1 220.7M1367.4 215.3M1402.1 214.6M1405.1 224.2M1422 218.8M1531.3 221.2M1509.3 218.1M1511.3 222.9M1527.1 224.1M1358.4 224.8M1420.6 225.7M1426 224.2M1515.8 223.9M1404.8 225.3M1353.8 223.5M1453 225.8M1432.9 225.4M1403.4 224.7M1454.6 222.8M1409.2 224.6M1418.9 224.6M1413.7 223.7M1421.1 224.9M1488.9 224.8M1459.4 224.3M1418.1 223.5M1427.9 224.2M1530 225.8M1504.6 225.1M1503 225.2M1504 225.6M1445.8 224.9M1467.1 224.1M1517.5 224.9M1512 225.2M1482.6 225.7M1505.4 225.2M1487 225.1" marker-start="url(#m153)" marker-mid="url(#m153)" marker-end="url(#m153)"/>
<path d="M1366.6 225.7M1524.8 222.6M1389.2 224.2M1517.5 221.6M1360.9 224.6M1349.9 225.7M1518.3 223.8M1386 223.6M1467 225.9M1489.8 224.1M1535.4 225.6M1414 223.7M1516.9 222.3M1510.4 225.4M1430.2 224.2M1370.7 223.5M1515.6 221.5M1415.7 222.1M1337.4 224.7M1425.1 221.3M1533.5 220.3M1475.3 218.9M1521.3 222.2M1521.2 218.7M1365.2 218.9M1365.8 223.2M1366 220.7M1512.7 219.6M1513.4 220.4M1403.5 221.1M1531.2 222.8M1511.9 220.4M1485 220.7M1488.3 222.1M1528.3 216.5M1514.5 219.6M1445.2 221.7M1465.6 222.3M1525.4 225.4M1436 224.8M1438.3 223.9M1434.2 225.5M1397.7 224.7M1380.2 225.5M1444.9 225M1457.4 225.2M1357.2 225.4M1439.6 225.5M1376.2 224.3M1469 224.7M1395.2 225.9M1363.9 222.9M1434.5 224M1518.6 223.2M1436.3 225.9M1393.4 225.7M1456.1 225.9M1376.5 225.4" marker-start="url(#m154)" marker-mid="url(#m154)" marker-end="url(#m154)"/>
<path d="M1378.1 273.7M1511.3 272.7M1547 273M1490.3 276.7M1351 282.7M1539.6 274.5M1509.8 277.3M1427.8 276.8M1343.5 274.7M1363.3 283.1M1514.5 275.1M1353.7 277.2M1538.6 278.1M1501.9 273M1500.3 277M1341.6 277.5M1471.4 275M1511.8 278.3M1456.4 273.9M1540.5 280M1459.2 275.6M1412.3 273.7M1475.7 274.2M1450.2 274.4M1511.1 273.8M1542.6 277M1373.3 278.4M1459.8 279.8M1540.5 280.1M1523.2 280.7M1346.9 283M1420.3 283.3M1530.9 274.6M1513.5 282.3M1495.5 282.5M1536.9 275.7M1537.1 277.6M1521.3 276.9M1446.6 281.1M1443.6 281.1M1512.1 281.2M1340.2 275.7M1342.2 277.9M1336.8 277.6M1450.9 278M1453.6 281M1489 278.5M1443.8 279.7M1373.4 281M1408.3 281.1M1518.1 277.7M1400.7 273.9M1401.8 283.1M1504 275.1M1538.3 277.7M1404.1 278.7M1402 275.5M1533.2 276.3M1468.9 278.4M1504.3 272.1M1520.8 276.2M1435.5 273.9M1413.1 275M1346.9 272.9M1467.1 272.4M1405.1 279.7M1394.4 276.5M1386.6 281.9M1409.2 276.1M1488.9 275.1M1408.6 283.4M1413.8 275.8M1373.5 281.7M1483.1 274.3M1437.2 278.7M1416.1 281.6M1345.4 278M1466.2 275.1M1533.1 275.9M1403.4 272.4M1525.8 276.3M1362.8 272.6M1464.4 275.5M1346.4 281.5M1507 274.2M1474.5 278.2M1540.2 276.5M1417.8 274.3M1368.6 274M1351.2 278.2M1484.3 276.1M1434.4 275.6M1345.2 278.2M1504.3 273.6M1339.9 274.3M1518.4 272.7M1375.5 276.7M1364.9 272.5M1352.3 272.7M1516.1 276.1M1388.8 278.4M1503.7 277.5M1453 273.9M1464.1 274.2M1481 274.9M1543.4 275.4M1527 278.6M1418.8 274.3M1419.5 281.4" marker-start="url(#m155)" marker-mid="url(#m155)" marker-end="url(#m155)"/>
<path d="M1472.6 276.5M1549.1 272.1M1497.3 278.4M1504.2 272.9M1514.7 272.1M1435.3 273.8M1507.4 273.5M1408.3 276.4M1515.8 276.5M1489 274.8M1339.6 274.3M1525 274.7M1421.7 276.8M1419.1 278.1M1468.7 277.3M1513.7 277.2M1499.3 276.5M1428.2 279.2M1443.1 280.7M1442.9 278.8M1401.3 283.5M1449.3 274.3M1547.7 273.3M1505.4 273.5M1539.7 277.4M1504.8 280.2M1467.6 280.2M1449.4 278.4M1450 275.3M1427.4 274.8M1534.3 276M1450.8 275.2M1454.7 277.3M1501.4 280.5M1352.2 278.1M1534.2 274.2M1444.7 277.3M1477.1 274.2M1446.1 278.4M1409.8 275.7M1516.1 274.2M1451.3 274.7M1408.5 276.9M1453.4 279.7M1405.3 278.1M1474.6 278.9M1492.1 282.6M1509 280.2M1540.8 282.4M1510.7 280.6M1516.4 275.2M1347.6 283M1536.8 276.4M1444 281.4M1513.6 275.7M1421.7 279.9M1423.4 282.2M1451.5 281.2M1510.5 275.4M1512.8 276.2M1455 282.1M1454.5 277.4M1490 278.3M1443.8 279.9M1447.8 281.3M1449.5 280.3M1533 274.3M1412.5 276.8M1458.8 277M1516.9 277.5M1395.8 278M1532.6 276.3M1370.6 281.1M1409.2 273.1M1383.5 275.6M1401.1 282.5M1482.3 273.6M1447.4 272.7M1335.7 272.9M1379 282.5M1379.2 280.3M1512.8 275.6M1337.7 275.2M1379.1 283.4M1478.8 273.5M1422.6 272.3M1509.1 273.7M1348.5 280.6M1425.7 277M1397.1 275.9M1463.9 278.7M1525.9 274.2M1361.3 276.1M1393.5 277.8M1495.2 275.2M1410 281.7M1489.6 274.7M1435.1 274.4M1435.4 279.1M1357.4 275.9M1362.3 273.9M1433.5 277.7M1515.1 278.5M1349.2 276.5M1489.2 275.2M1511 274M1420.8 273M1527.5 273.9M1481.9 277.2M1442.9 274.3M1460.5 272.9M1517.6 276.7M1494.5 277" marker-start="url(#m156)" marker-mid="url(#m156)" marker-end="url(#m156)"/>
<path d="M1546.6 275.1M1440.9 273.8M1426.5 274.6M1426.8 278M1455.6 274.1M1462.8 273.4M1528.7 274.2M1467.5 273.4M1547.9 273.7M1523.8 272.8M1439 277.9M1537.4 276.9M1523.4 273.2M1416.1 274.5M1468.6 278.4M1376.6 274.9M1441.8 278.9M1392.1 282.9M1376.6 274.9M1342.2 277.3M1428.7 274M1472.5 280M1508.8 276.2M1532.5 274.3M1414.5 280.8M1349.4 279.5M1503.5 278.5M1467.7 278.4M1345 277.8M1545.9 277.3M1450.4 278.3M1352.4 282.6M1452.9 280.4M1539.2 277.6M1423.4 276M1411 281.8M1518 274.6M1503.2 281.4M1490.2 281.9M1428.7 282M1337.1 278.6M1534.8 278.5M1512.8 275.8M1513.6 275.9M1493.8 277.1M1493.7 277.2M1534.9 280.8M1536 279.2M1522.4 282.4M1444.7 283.2M1444.8 281.4M1513.2 276.6M1451.9 281.9M1509.2 278.1M1455.9 278.4M1426.6 278.8M1447.1 279.1M1367 277.8M1468.4 277.7M1389.7 280.9M1364.6 275.8M1458.8 279M1403.6 275.5M1461.9 276.3M1412.6 277.7M1450 272.2M1508.9 276M1366.5 273.7M1386.1 278.4M1380.5 272.1M1415.6 276.6M1389 276M1434.9 279M1520.1 272.3M1349 282M1402.9 272.6M1386.4 276M1421.5 276.8M1382.3 276.1M1351.1 280.3M1378 283.2M1445.3 278.7M1474.5 276.5M1520.6 278.3M1472.3 276.6M1399.1 282.2M1428.1 276.4M1366.3 282.1M1423.5 272.4M1498.6 276.2M1514.9 273.8M1491.5 276.4M1470.1 276.8M1364.7 277.9M1512.6 278M1462.5 278.9M1492.3 274.7" marker-start="url(#m157)" marker-mid="url(#m157)" marker-end="url(#m157)"/>
<path d="M1427.9 211.9M1426.9 213.7" marker-start="url(#m79)" marker-mid="url(#m79)" marker-end="url(#m79)"/>
<path d="M1514.8 213.9M1351.5 212.3M1513.9 208.8M1514 212.7M1445.8 214.4M1467 210.4" marker-start="url(#m158)" marker-mid="url(#m158)" marker-end="url(#m158)"/>
<path d="M1523.3 212.9M1532.7 213.2M1521.2 211M1405.4 214.2M1444.5 211.2M1466.7 203.4M1467.3 205.5" marker-start="url(#m159)" marker-mid="url(#m159)" marker-end="url(#m159)"/>
<path d="M1391.6 286.3M1362.3 292.2M1370.9 288M1359.1 293.1M1365.1 288.6M1386.2 292.5M1399.2 287.9M1369.6 294.9M1445.2 285.2M1375.8 290.4M1408.8 290.3M1342.1 287.5M1442.3 283.7M1477.1 285.5M1374.7 293.5M1389.5 293.8M1402.7 290.2M1398.4 292.9M1398.2 293.4M1398.5 291.4M1390.1 287.7M1389.8 284.7M1393 285M1373.3 285.9M1390 284.2M1352.7 285.7M1381.3 289.7M1357.5 283.8M1361.8 289.3M1380.1 288.8" marker-start="url(#m84)" marker-mid="url(#m84)" marker-end="url(#m84)"/>
<path d="M1395.2 288.3M1351.7 284.5M1389.5 293.5M1396.5 285.6M1390.5 293.2M1385.1 291.1M1370.1 290.4M1385.9 290M1360.7 284M1498.1 283.8M1406.4 287.8M1456.8 286.1M1420.8 284.2M1437.4 288.7M1346.2 284.7M1493.4 285.4M1519.2 284.6M1423.5 285.9M1390.2 291.7M1404.8 288.7M1403.9 291.1M1425.3 288.3M1401.4 294.1M1385.6 287.2M1365.1 291.3M1360.9 286.8M1365 285.6M1390.2 289.2M1406.7 287.7M1379.7 285.1M1387.8 288.2M1385.4 286.4M1358.2 285.8M1370.1 287.9M1375 288.1M1407.6 283.7M1359.3 289.9M1368.4 288.1" marker-start="url(#m160)" marker-mid="url(#m160)" marker-end="url(#m160)"/>
<path d="M1392.5 283.6M1402.8 284.7M1385.2 285.1M1403.7 283.9M1391.6 291.4M1372 288.8M1410.1 285.2M1362.6 289.9M1360 291.3M1375.4 285M1467.4 285.9M1382.9 291M1458.2 289.9M1381.4 288.8M1389.8 292.9M1389.5 293.6M1404.2 287.6M1402.2 287.4M1388.4 292.7M1400.1 289.6M1400.3 287.9M1381.6 284.3M1357.5 285.1M1377 284.5M1378.2 288.1M1369.6 285M1380.3 284.6M1380.5 292.8M1397.3 291M1394.1 288.5M1370.2 286.7M1366.6 286.7" marker-start="url(#m161)" marker-mid="url(#m161)" marker-end="url(#m161)"/>
<path d="M1351.1 201" marker-start="url(#m162)" marker-mid="url(#m162)" marker-end="url(#m162)"/>
<path d="M1365.4 295.6M1367.3 303.6M1370.6 296.5" marker-start="url(#m96)" marker-mid="url(#m96)" marker-end="url(#m96)"/>
<path d="M1359.3 295.7M1394.7 300.4M1352.8 295.8M1388.8 305.3" marker-start="url(#m163)" marker-mid="url(#m163)" marker-end="url(#m163)"/>
<path d="M1362.4 297.1M1364.9 297.7M1367.4 295.6M1389.6 298.6M1370 296.6" marker-start="url(#m164)" marker-mid="url(#m164)" marker-end="url(#m164)"/>
<path d="M1352.7 185.7M1352.7 191.4M1359 200.7" marker-start="url(#m165)" marker-mid="url(#m165)" marker-end="url(#m165)"/>
<path d="M1311.1 377.8M1222.5 376.3M1600.4 375.2M1562.4 374.6M1106.4 378.1M1468.7 374.2M1115.9 377M1541.3 376.5M1275.1 377.1M1308.3 375.3M1395.3 375.7M1147.5 376.7M1504.8 374.7M1522.9 374.2M1584 376.3M1131 377.3M1378.7 376.7M1416.8 376M1083.4 377.6M1491.6 375M1588.5 375M1515.7 376.2M1478.5 375.7M1362 373.4M1282.9 374.6M1140.3 377.7M1320.9 375.7M1123.5 375.7M1185.4 375.9M1211.7 375.5M1333.7 377.4M1581.6 375.6M1519.7 375M1238.6 376.2M1380 377.2M1342.2 375.9M1364.3 373.8M1335.7 375.3M1215.6 376.4M1404.3 374.4M1449.8 374M1126.7 376.1M1530.9 375.3M1449.4 374.4M1273.3 375.7M1361.2 373.4M1356.5 373M1551.8 376.5M1550.2 376.7M1363.9 374.7M1287.9 375.4M1563.1 373.5M1342 375.7M1504.3 375.6M1149.3 377.7M1571.4 377.1M1142.7 377.1M1300.7 376.2M1395.1 377.3M1264.5 376.1M1397.2 376.9M1505.4 376.4M1605.9 374.9M1252.8 375.4M1600.2 377.3M1593.2 375.4M1415.2 374.6M1367.2 375.3M1429 375.6M1077.6 379.2M1459 376.5M1148.1 375.7M1316.5 377M1266.9 374.7M1585.4 374.8M1218.6 376M1412.5 374.9M1585 375.6M1545.4 377.4M1075.1 379.4M1109.2 378.4M1255.9 375M1504 375.7M1227.4 375.2M1301.4 376M1320 376.7M1231.7 374.9M1237.8 374.4M1425.6 376.6M1317.9 376.8M1115.6 376.1M1501.2 375.3M1509.2 376.8M1364.4 375.3M1422.3 374.8M1384.8 376.9M1251 376.7M1556.4 377M1506.7 376.2M1337.1 375.9M1531.7 374.7M1550.8 373.9M1353.4 374.3M1298.1 376.4M1299.9 376.5M1420.6 374.9M1563.5 374.3M1386 375M1391.8 376.8M1564.6 375.7M1331.1 377M1496.1 377.4M1397.9 376.7M1487.6 376.7M1349.1 377.3M1070.7 380.1M1080.3 379.1M1609.5 378.2M1264.6 375M1431.2 375.7M1375.2 375.7M1533.1 374.6M1478.4 375.6M1208.7 377.3M1119.9 377.8M1141.1 377.3M1390.7 377.3M1571.5 376.9M1331.2 374.8M1601.2 374.8M1516.4 374.9M1366.6 376.3M1380.6 377.3M1376.9 377.4M1320.5 377.3M1199.1 375.7M1395.4 376.9M1226.1 374.9M1480.3 376.2M1170.4 376.3M1315.8 376.4M1402.8 375.3M1155.8 377M1202.1 375.1M1417.2 377.2M1288.1 376M1516.4 376.7M1297.4 377.7M1547.5 374.4M1596.1 375.8M1425.4 374.6M1538.8 376.3M1190 376.4M1558.7 376.9M1146.4 376.6M1545.4 376.9M1556.5 377.2M1358.4 375.3M1497.7 376.2M1554.5 376.6M1219.8 374.7M1308.2 374.6M1504.5 373.2M1467.2 372.6M1604.4 373.9M1406.5 373.3" marker-start="url(#m17)" marker-mid="url(#m17)" marker-end="url(#m17)"/>
<path d="M1119.9 377.8M1389.1 374.7M1081.5 378.1M1610.7 380.8M1499.2 374.2M1537.1 375.7M1113.4 376.7M1546 375.1M1575.4 375.3M1350.6 375.6M1588 376.9M1208.4 377.9M1477.8 376.4M1339.6 376.9M1430.3 377.3M1546.2 376.2M1183.6 378M1519.5 375.7M1433.6 375.3M1243.3 374.9M1542.2 377.6M1311.5 376.1M1166.9 377M1117.2 375.7M1273.9 375.1M1598.8 375.6M1258.5 377.2M1255.1 376.1M1302.1 377.1M1441.4 374.5M1150.4 376.7M1480 375.9M1352.8 373.9M1234.7 377M1361.2 376.5M1573.6 376.1M1253.8 374.6M1354 376.4M1175 377.4M1244.2 376.4M1195.9 375.4M1558.3 376.2M1141.7 378.6M1122.5 375.8M1122 376.6M1451.2 374.9M1090.3 378M1163.3 377.5M1483.7 376.1M1526.7 376.6M1245.1 377.3M1378.2 377M1472.7 374.7M1142.1 378M1485.1 374.5M1181.9 377.8M1233.2 377.1M1195.6 374.8M1358.4 374.7M1417.5 375M1469.7 376.3M1343.1 375.4M1075.8 379.3M1560 375.3M1279.1 373.8M1325.2 377.5M1363.2 374.9M1581.4 375.9M1393.4 376.2M1331.4 376.8M1412.4 376M1098.6 378.6M1097.1 377.2M1109.8 376.3M1094.6 379M1396.6 376.9M1263 376.8M1309.6 376M1395.2 375.2M1330.3 376.2M1494.3 375.7M1407.2 377.2M1367.9 375.3M1331.8 376.5M1310.4 375.8M1508.1 376.2M1303.7 375.5M1446.1 376.3M1223.1 377.4M1244.4 376.2M1307 375.2M1266.6 375.9M1500.7 374.6M1165.5 375.6M1122.7 375.8M1202.8 377.3M1483.7 375.9M1453.1 373.5M1479.6 374.1M1202.9 377.5M1440.1 376.3M1325.1 375.9M1239.1 376.8M1187.6 377.7M1553.9 375.9M1409.1 374.4M1531.7 375.8M1187.6 378M1598 374.7M1552.7 374.2M1313.5 377.1M1414.6 374M1514.7 376.9M1402.6 375.6M1445.3 377.5M1566 376.5M1182.7 376.9M1155.2 375.8M1241 376.2M1423.8 377.5M1455.1 375.1M1557.7 376.8M1577.2 375M1248.2 374.6M1461.6 376.6M1167.3 376.7M1087.5 377.1M1290.1 377.6M1484.9 374.3M1463.3 375.7M1211 377.2M1422 377.1M1180.8 377.4M1207.3 376.5M1490.1 377M1381.9 375.9M1119.6 375.8M1373.1 376.3M1236.4 375.2M1147.4 377.3M1164 376.4M1324.2 376.7M1476.7 375.8M1523.5 374.2M1559.7 375.4M1230.2 375.4M1466 375.5M1137.3 377.7M1354.7 375.8M1610.6 380.1M1137 377.5M1070.3 381.2M1082.9 379M1554.3 374.5M1094.8 379.2M1236.5 375.8M1175.8 375.7M1421.7 376.4M1590.1 376.4M1455.8 376.5M1294.6 377.6M1135.3 377.1M1167.9 377.2M1389.1 376.9M1357.2 371.2M1360.7 372.5M1203 374.8M1572.7 373.7" marker-start="url(#m19)" marker-mid="url(#m19)" marker-end="url(#m19)"/>
<path d="M1243.6 389.4M1349.6 388.8M1391.3 390.4M1366.4 388.8M1211.4 388.8M1379.8 390.5M1533.5 388.1M1560.9 389.4M1484 389.6M1448 389.6M1139.5 388.3M1148.2 387.9M1071.8 384.7M1299.6 388.3M1437.8 390.8M1230 388.1M1296.3 388.1M1266.9 388.8M1091.5 386.5M1469 390.9M1320.3 389.4M1276.2 390.9M1296.4 388.7M1180.7 387.6M1347.1 388.9M1215.3 390M1463.9 390.9M1484.2 390.4M1246 390.3M1092.1 386M1359.4 389.3M1279.1 391.3M1125.5 387.2M1427.3 388.7M1371.9 389.5M1586.7 390.4M1429.9 389.6M1471.8 392.3M1086.8 386.7M1401.5 388M1592.8 389M1265 391M1438 389M1571.2 390.4M1199.5 388M1212.9 388.8M1441.4 391.2M1452 390.5M1544.7 392M1347.2 389.2M1533.1 388.7M1377 389.4M1407 390.3M1195 387.2M1325.3 390.7M1411.6 388.1M1096.3 387.4M1465.6 392M1502.9 388.2M1546.4 389.8M1245.1 387.7M1368.3 390M1331.5 391.2M1606.5 388.4M1219.9 392.1M1607.9 387.8M1165.1 386.1M1104.1 387.1M1286 390.8M1205.5 388.9M1391.5 388.6M1471.2 389.5M1365.5 390.3M1259.5 388.9M1286.3 388.1M1243.9 389.6M1081.3 385.3M1302.7 391.7M1340.1 389.4M1582.7 388.5M1490.7 390.1M1343.1 388.6M1341.3 388M1311.7 389.4M1130.1 386.7M1607.6 386.9M1176 387.6M1532.6 390.7M1557.9 388.1M1357.9 388.8M1527 390.8M1445.9 387.9M1162.8 387.5M1400 389.1M1074.3 384.6M1486.5 388.5M1221.1 388.9M1136.6 388.5M1279.7 390.8M1228.5 390.3M1280 389M1513.9 391.1M1365.3 388.2M1605.5 390M1431.4 389.2M1329.5 390.2M1304.5 388.7M1425 391.3M1121.9 388.3M1581 390.5M1128.9 387.3M1489.9 388.4M1106.6 386.6M1162.1 386.3M1530.3 388.1M1147.9 388.2M1289.9 389.9M1293.6 387.7M1154.7 387.8M1289.1 389.6M1280.9 389.1M1247.9 389.2M1377.2 389.7M1313.9 387.8M1286.3 388.7M1466.6 389.8M1073.8 385.3M1524.5 388.2M1420.1 389M1224.6 390.7M1247.5 388.6M1496.5 390.6M1415.5 387M1296.3 390.2M1163.3 386.3M1503.4 389.4M1430.4 390.9M1450.3 388.7M1245.4 388.1M1346.7 388.6M1488.2 389.1M1450.8 388.7M1259.8 388.8M1561.3 387.7M1279.2 388.5M1505.9 388.4M1135.4 388.1M1129.7 387.1M1499.3 391.3M1542.7 388.9M1399.7 389.8M1315 389M1549.1 391.8M1583.9 392.5M1233.6 392.6M1237.3 391.7M1103.2 388.4M1293.6 391.4M1601.7 392.1M1306.3 392.8" marker-start="url(#m140)" marker-mid="url(#m140)" marker-end="url(#m140)"/>
<path d="M1102.6 386M1399 388.7M1210.5 389.7M1245.9 389.8M1506.1 390M1407.2 387.6M1092.9 386.4M1275 388.8M1443.7 390.3M1103.1 386.9M1119.5 387.7M1329.8 389.2M1480.9 389.6M1607.4 388.8M1095.5 386.4M1405.9 389.4M1081 385.5M1313.4 390.5M1233.5 389.9M1087.2 386M1328.9 390.4M1239.8 389.5M1149.6 387.3M1145.9 388.9M1376.2 391M1493.8 389.3M1134.8 387.4M1277.4 389.3M1450.5 388.1M1179.2 388.8M1328.8 388.8M1448.8 387.4M1135.1 388.5M1217.2 390M1323.7 389.3M1109.1 386.2M1552.4 390M1511 391.9M1278 389.3M1487.4 390.1M1518.8 390.3M1439.7 388.9M1397.5 388.9M1407.8 389.2M1239.5 390.4M1156.3 387.8M1505.5 389.1M1224.6 390.9M1198.2 387.4M1549.1 389.2M1158 388.3M1098.9 386.4M1206.8 388.5M1457.2 388.7M1137.7 387.2M1215 389.6M1541.1 389M1288.9 391.1M1162.6 386.2M1503.1 390.7M1191 388.8M1484.1 391.3M1435.2 389.1M1521.1 389.3M1218.1 390M1193.1 388.1M1104.8 388.1M1432.6 388.4M1294.3 390.5M1371.5 389M1361.6 390.2M1264.2 390.2M1104.5 386.8M1508.3 391.4M1576.5 389M1075.1 384.8M1280.1 389.4M1508.6 389.8M1261.5 388.5M1258 387.9M1478 388.3M1509.6 388.7M1150.1 388.5M1562.9 387.4M1550.2 391.2M1135.7 388.1M1306 389.4M1348.7 387.3M1574 387.9M1247.5 388.4M1171.9 388M1098.4 388.1M1518.6 390.1M1455 388.4M1315.6 389.7M1109.8 387.5M1544.3 388.5M1501 388.3M1166.6 386.9M1586.8 388.2M1133.5 386.6M1086.9 386.7M1372.9 392.1M1078.3 385.3M1139.8 386.6M1468.3 390M1411.5 388.2M1579.4 388.6M1197.2 388.4M1436.1 390M1312.6 387.7M1250.3 389.4M1078.2 385.4M1117.8 387.2M1086.4 386.5M1265.7 389.2M1595 391.3M1609.7 385.4M1350.2 389.1M1270.1 388.2M1160.3 387.7M1428.9 392.5M1489.8 388.5M1154.3 387.4M1345.8 388M1490.6 389M1322.3 391.7M1501.2 388.1M1211.1 388.3M1283.4 389M1189 386.9M1278.1 390.5M1158.3 387.1M1455.8 387.6M1331.9 388.4M1267.8 389.8M1240.5 389.6M1098.7 386M1388.9 390.4M1284.6 388.7M1610.9 383.8M1408 389.2M1383.7 387.3M1274.4 389.6M1522 390.7M1568.9 387.8M1153.9 387.2M1087 386.2M1178.4 388.7M1337.1 389.5M1257.3 387.9M1274 390.8M1315 389.8M1263.8 389.6M1447.3 388.1M1209.1 387.5M1274.3 390.5M1597.9 391.3M1477.4 388.4M1340.8 387.4M1377.3 389.8M1334.9 388.9M1188.2 387.2M1556.6 391.2M1266.9 391M1399 390.9M1360.6 388.7M1225 390.2M1332.3 388.6M1359.2 390.1M1235.8 389.4M1422.6 390.1M1580.5 392M1125.2 389.1" marker-start="url(#m142)" marker-mid="url(#m142)" marker-end="url(#m142)"/>
<path d="M1070 382.4 L1073 378.6 L1076 378.5 L1079 378.3 L1082 378.1 L1085 377.9 L1088 377.8 L1091 377.6 L1094 377.5 L1097 377.3 L1100 377.2 L1103 377 L1106 376.9 L1109 376.7 L1112 376.6 L1115 376.4 L1118 376.4 L1121 376.4 L1124 376.4 L1127 376.4 L1130 376.4 L1133 376.4 L1136 376.4 L1139 376.4 L1142 376.4 L1145 376.4 L1148 376.4 L1151 376.4 L1154 376.3 L1157 376.3 L1160 376.3 L1163 376.3 L1166 376.3 L1169 376.3 L1172 376.3 L1175 376.3 L1178 376.3 L1181 376.3 L1184 376.3 L1187 376.3 L1190 376.3 L1193 376.2 L1196 376.2 L1199 376.2 L1202 376.2 L1205 376 L1208 375.6 L1211 375.2 L1214 375 L1217 375 L1220 375 L1223 375 L1226 375 L1229 375 L1232 375 L1235 375 L1238 375 L1241 375 L1244 375 L1247 375 L1250 375 L1253 375 L1256 375 L1259 375 L1262 375 L1265 375 L1268 375 L1271 375 L1274 375 L1277 375 L1280 375 L1283 375 L1286 375 L1289 375 L1292 375 L1295 375 L1298 375 L1301 375 L1304 375 L1307 375 L1310 375 L1313 375 L1316 375 L1319 375 L1322 375 L1325 375 L1328 375 L1331 375 L1334 375 L1337 375 L1340 375 L1343 375 L1346 375 L1349 375 L1352 375 L1355 375 L1358 375 L1361 375 L1364 375 L1367 375 L1370 375 L1373 375 L1376 375 L1379 375 L1382 375 L1385 375 L1388 375 L1391 375 L1394 375 L1397 375 L1400 375 L1403 375 L1406 375 L1409 375 L1412 375 L1415 375 L1418 375 L1421 375 L1424 375 L1427 375 L1430 375 L1433 375 L1436 375 L1439 375 L1442 375 L1445 375 L1448 375 L1451 375 L1454 375 L1457 375 L1460 375 L1463 375 L1466 375 L1469 375 L1472 375 L1475 375 L1478 375 L1481 375 L1484 375 L1487 375 L1490 375 L1493 375 L1496 375 L1499 375 L1502 375 L1505 375 L1508 375 L1511 375 L1514 375 L1517 375 L1520 375 L1523 375 L1526 375 L1529 375 L1532 375 L1535 375 L1538 375 L1541 375 L1544 375 L1547 375 L1550 375 L1553 375 L1556 375 L1559 375 L1562 375 L1565 375 L1568 375 L1571 375 L1574 375 L1577 375 L1580 375 L1583 375 L1586 375 L1589 375 L1592 375 L1595 375 L1598 375 L1601 375 L1604 375.1 L1607 376 L1610 378.8 L1611 382.4 L1611 382.4 L1610 386.2 L1607 389.3 L1604 390.3 L1601 390.4 L1598 390.4 L1595 390.4 L1592 390.4 L1589 390.4 L1586 390.4 L1583 390.4 L1580 390.4 L1577 390.4 L1574 390.4 L1571 390.4 L1568 390.4 L1565 390.4 L1562 390.4 L1559 390.4 L1556 390.4 L1553 390.3 L1550 390.3 L1547 390.3 L1544 390.3 L1541 390.3 L1538 390.3 L1535 390.3 L1532 390.3 L1529 390.3 L1526 390.3 L1523 390.3 L1520 390.3 L1517 390.3 L1514 390.3 L1511 390.3 L1508 390.3 L1505 390.3 L1502 390.3 L1499 390.3 L1496 390.3 L1493 390.3 L1490 390.3 L1487 390.3 L1484 390.3 L1481 390.3 L1478 390.3 L1475 390.3 L1472 390.3 L1469 390.3 L1466 390.3 L1463 390.3 L1460 390.3 L1457 390.3 L1454 390.3 L1451 390.3 L1448 390.3 L1445 390.3 L1442 390.3 L1439 390.3 L1436 390.3 L1433 390.3 L1430 390.3 L1427 390.3 L1424 390.3 L1421 390.3 L1418 390.3 L1415 390.3 L1412 390.3 L1409 390.3 L1406 390.3 L1403 390.3 L1400 390.3 L1397 390.3 L1394 390.3 L1391 390.3 L1388 390.3 L1385 390.2 L1382 390.2 L1379 390.2 L1376 390.2 L1373 390.2 L1370 390.2 L1367 390.2 L1364 390.2 L1361 390.2 L1358 390.2 L1355 390.2 L1352 390.2 L1349 390.2 L1346 390.2 L1343 390.2 L1340 390.2 L1337 390.2 L1334 390.2 L1331 390.2 L1328 390.2 L1325 390.2 L1322 390.2 L1319 390.2 L1316 390.2 L1313 390.2 L1310 390.2 L1307 390.2 L1304 390.2 L1301 390.2 L1298 390.2 L1295 390.2 L1292 390.2 L1289 390.2 L1286 390.2 L1283 390.2 L1280 390.2 L1277 390.2 L1274 390.2 L1271 390.2 L1268 390.2 L1265 390.2 L1262 390.2 L1259 390.2 L1256 390.2 L1253 390.2 L1250 390.2 L1247 390.2 L1244 390.2 L1241 390.2 L1238 390.2 L1235 390.2 L1232 390.2 L1229 390.2 L1226 390.2 L1223 390.2 L1220 390.2 L1217 390.1 L1214 390.1 L1211 390 L1208 389.4 L1205 388.9 L1202 388.5 L1199 388.5 L1196 388.4 L1193 388.4 L1190 388.4 L1187 388.4 L1184 388.3 L1181 388.3 L1178 388.3 L1175 388.3 L1172 388.2 L1169 388.2 L1166 388.2 L1163 388.2 L1160 388.2 L1157 388.1 L1154 388.1 L1151 388.1 L1148 388.1 L1145 388 L1142 388 L1139 388 L1136 388 L1133 387.9 L1130 387.9 L1127 387.9 L1124 387.9 L1121 387.8 L1118 387.8 L1115 387.8 L1112 387.7 L1109 387.6 L1106 387.4 L1103 387.3 L1100 387.2 L1097 387 L1094 386.9 L1091 386.8 L1088 386.6 L1085 386.5 L1082 386.4 L1079 386.1 L1076 385.9 L1073 385.7 L1070 382.4 Z" fill="url(#g9)"/>
<path d="M1070 382.4 L1073 378.6 L1076 378.5 L1079 378.3 L1082 378.1 L1085 377.9 L1088 377.8 L1091 377.6 L1094 377.5 L1097 377.3 L1100 377.2 L1103 377 L1106 376.9 L1109 376.7 L1112 376.6 L1115 376.4 L1118 376.4 L1121 376.4 L1124 376.4 L1127 376.4 L1130 376.4 L1133 376.4 L1136 376.4 L1139 376.4 L1142 376.4 L1145 376.4 L1148 376.4 L1151 376.4 L1154 376.3 L1157 376.3 L1160 376.3 L1163 376.3 L1166 376.3 L1169 376.3 L1172 376.3 L1175 376.3 L1178 376.3 L1181 376.3 L1184 376.3 L1187 376.3 L1190 376.3 L1193 376.2 L1196 376.2 L1199 376.2 L1202 376.2 L1205 376 L1208 375.6 L1211 375.2 L1214 375 L1217 375 L1220 375 L1223 375 L1226 375 L1229 375 L1232 375 L1235 375 L1238 375 L1241 375 L1244 375 L1247 375 L1250 375 L1253 375 L1256 375 L1259 375 L1262 375 L1265 375 L1268 375 L1271 375 L1274 375 L1277 375 L1280 375 L1283 375 L1286 375 L1289 375 L1292 375 L1295 375 L1298 375 L1301 375 L1304 375 L1307 375 L1310 375 L1313 375 L1316 375 L1319 375 L1322 375 L1325 375 L1328 375 L1331 375 L1334 375 L1337 375 L1340 375 L1343 375 L1346 375 L1349 375 L1352 375 L1355 375 L1358 375 L1361 375 L1364 375 L1367 375 L1370 375 L1373 375 L1376 375 L1379 375 L1382 375 L1385 375 L1388 375 L1391 375 L1394 375 L1397 375 L1400 375 L1403 375 L1406 375 L1409 375 L1412 375 L1415 375 L1418 375 L1421 375 L1424 375 L1427 375 L1430 375 L1433 375 L1436 375 L1439 375 L1442 375 L1445 375 L1448 375 L1451 375 L1454 375 L1457 375 L1460 375 L1463 375 L1466 375 L1469 375 L1472 375 L1475 375 L1478 375 L1481 375 L1484 375 L1487 375 L1490 375 L1493 375 L1496 375 L1499 375 L1502 375 L1505 375 L1508 375 L1511 375 L1514 375 L1517 375 L1520 375 L1523 375 L1526 375 L1529 375 L1532 375 L1535 375 L1538 375 L1541 375 L1544 375 L1547 375 L1550 375 L1553 375 L1556 375 L1559 375 L1562 375 L1565 375 L1568 375 L1571 375 L1574 375 L1577 375 L1580 375 L1583 375 L1586 375 L1589 375 L1592 375 L1595 375 L1598 375 L1601 375 L1604 375.1 L1607 376 L1610 378.8 L1611 382.4 L1611 382.4 L1610 382.4 L1607 382.4 L1604 382.4 L1601 382.4 L1598 382.4 L1595 382.4 L1592 382.4 L1589 382.4 L1586 382.4 L1583 382.4 L1580 382.4 L1577 382.4 L1574 382.4 L1571 382.4 L1568 382.4 L1565 382.4 L1562 382.4 L1559 382.4 L1556 382.4 L1553 382.4 L1550 382.4 L1547 382.4 L1544 382.4 L1541 382.4 L1538 382.4 L1535 382.4 L1532 382.4 L1529 382.4 L1526 382.4 L1523 382.4 L1520 382.4 L1517 382.4 L1514 382.4 L1511 382.4 L1508 382.4 L1505 382.4 L1502 382.4 L1499 382.4 L1496 382.4 L1493 382.4 L1490 382.4 L1487 382.4 L1484 382.4 L1481 382.4 L1478 382.4 L1475 382.4 L1472 382.4 L1469 382.4 L1466 382.4 L1463 382.4 L1460 382.4 L1457 382.4 L1454 382.4 L1451 382.4 L1448 382.4 L1445 382.4 L1442 382.4 L1439 382.4 L1436 382.4 L1433 382.4 L1430 382.4 L1427 382.4 L1424 382.4 L1421 382.4 L1418 382.4 L1415 382.4 L1412 382.4 L1409 382.4 L1406 382.4 L1403 382.4 L1400 382.4 L1397 382.4 L1394 382.4 L1391 382.4 L1388 382.4 L1385 382.4 L1382 382.4 L1379 382.4 L1376 382.4 L1373 382.4 L1370 382.4 L1367 382.4 L1364 382.4 L1361 382.4 L1358 382.4 L1355 382.4 L1352 382.4 L1349 382.4 L1346 382.4 L1343 382.4 L1340 382.4 L1337 382.4 L1334 382.4 L1331 382.4 L1328 382.4 L1325 382.4 L1322 382.4 L1319 382.4 L1316 382.4 L1313 382.4 L1310 382.4 L1307 382.4 L1304 382.4 L1301 382.4 L1298 382.4 L1295 382.4 L1292 382.4 L1289 382.4 L1286 382.4 L1283 382.4 L1280 382.4 L1277 382.4 L1274 382.4 L1271 382.4 L1268 382.4 L1265 382.4 L1262 382.4 L1259 382.4 L1256 382.4 L1253 382.4 L1250 382.4 L1247 382.4 L1244 382.4 L1241 382.4 L1238 382.4 L1235 382.4 L1232 382.4 L1229 382.4 L1226 382.4 L1223 382.4 L1220 382.4 L1217 382.4 L1214 382.4 L1211 382.4 L1208 382.4 L1205 382.4 L1202 382.4 L1199 382.4 L1196 382.4 L1193 382.4 L1190 382.4 L1187 382.4 L1184 382.4 L1181 382.4 L1178 382.4 L1175 382.4 L1172 382.4 L1169 382.4 L1166 382.4 L1163 382.4 L1160 382.4 L1157 382.4 L1154 382.4 L1151 382.4 L1148 382.4 L1145 382.4 L1142 382.4 L1139 382.4 L1136 382.4 L1133 382.4 L1130 382.4 L1127 382.4 L1124 382.4 L1121 382.4 L1118 382.4 L1115 382.4 L1112 382.4 L1109 382.4 L1106 382.4 L1103 382.4 L1100 382.4 L1097 382.4 L1094 382.4 L1091 382.4 L1088 382.4 L1085 382.4 L1082 382.4 L1079 382.4 L1076 382.4 L1073 382.4 L1070 382.4 Z" fill="#2ef32e"/><path d="M1070 382.4 L1073 378.6 L1076 378.5 L1079 378.3 L1082 378.1 L1085 377.9 L1088 377.8 L1091 377.6 L1094 377.5 L1097 377.3 L1100 377.2 L1103 377 L1106 376.9 L1109 376.7 L1112 376.6 L1115 376.4 L1118 376.4 L1121 376.4 L1124 376.4 L1127 376.4 L1130 376.4 L1133 376.4 L1136 376.4 L1139 376.4 L1142 376.4 L1145 376.4 L1148 376.4 L1151 376.4 L1154 376.3 L1157 376.3 L1160 376.3 L1163 376.3 L1166 376.3 L1169 376.3 L1172 376.3 L1175 376.3 L1178 376.3 L1181 376.3 L1184 376.3 L1187 376.3 L1190 376.3 L1193 376.2 L1196 376.2 L1199 376.2 L1202 376.2 L1205 376 L1208 375.6 L1211 375.2 L1214 375 L1217 375 L1220 375 L1223 375 L1226 375 L1229 375 L1232 375 L1235 375 L1238 375 L1241 375 L1244 375 L1247 375 L1250 375 L1253 375 L1256 375 L1259 375 L1262 375 L1265 375 L1268 375 L1271 375 L1274 375 L1277 375 L1280 375 L1283 375 L1286 375 L1289 375 L1292 375 L1295 375 L1298 375 L1301 375 L1304 375 L1307 375 L1310 375 L1313 375 L1316 375 L1319 375 L1322 375 L1325 375 L1328 375 L1331 375 L1334 375 L1337 375 L1340 375 L1343 375 L1346 375 L1349 375 L1352 375 L1355 375 L1358 375 L1361 375 L1364 375 L1367 375 L1370 375 L1373 375 L1376 375 L1379 375 L1382 375 L1385 375 L1388 375 L1391 375 L1394 375 L1397 375 L1400 375 L1403 375 L1406 375 L1409 375 L1412 375 L1415 375 L1418 375 L1421 375 L1424 375 L1427 375 L1430 375 L1433 375 L1436 375 L1439 375 L1442 375 L1445 375 L1448 375 L1451 375 L1454 375 L1457 375 L1460 375 L1463 375 L1466 375 L1469 375 L1472 375 L1475 375 L1478 375 L1481 375 L1484 375 L1487 375 L1490 375 L1493 375 L1496 375 L1499 375 L1502 375 L1505 375 L1508 375 L1511 375 L1514 375 L1517 375 L1520 375 L1523 375 L1526 375 L1529 375 L1532 375 L1535 375 L1538 375 L1541 375 L1544 375 L1547 375 L1550 375 L1553 375 L1556 375 L1559 375 L1562 375 L1565 375 L1568 375 L1571 375 L1574 375 L1577 375 L1580 375 L1583 375 L1586 375 L1589 375 L1592 375 L1595 375 L1598 375 L1601 375 L1604 375.1 L1607 376 L1610 378.8 L1611 382.4 L1611 382.4 L1610 382.4 L1607 382.4 L1604 382.4 L1601 382.4 L1598 382.4 L1595 382.4 L1592 382.4 L1589 382.4 L1586 382.4 L1583 382.4 L1580 382.4 L1577 382.4 L1574 382.4 L1571 382.4 L1568 382.4 L1565 382.4 L1562 382.4 L1559 382.4 L1556 382.4 L1553 382.4 L1550 382.4 L1547 382.4 L1544 382.4 L1541 382.4 L1538 382.4 L1535 382.4 L1532 382.4 L1529 382.4 L1526 382.4 L1523 382.4 L1520 382.4 L1517 382.4 L1514 382.4 L1511 382.4 L1508 382.4 L1505 382.4 L1502 382.4 L1499 382.4 L1496 382.4 L1493 382.4 L1490 382.4 L1487 382.4 L1484 382.4 L1481 382.4 L1478 382.4 L1475 382.4 L1472 382.4 L1469 382.4 L1466 382.4 L1463 382.4 L1460 382.4 L1457 382.4 L1454 382.4 L1451 382.4 L1448 382.4 L1445 382.4 L1442 382.4 L1439 382.4 L1436 382.4 L1433 382.4 L1430 382.4 L1427 382.4 L1424 382.4 L1421 382.4 L1418 382.4 L1415 382.4 L1412 382.4 L1409 382.4 L1406 382.4 L1403 382.4 L1400 382.4 L1397 382.4 L1394 382.4 L1391 382.4 L1388 382.4 L1385 382.4 L1382 382.4 L1379 382.4 L1376 382.4 L1373 382.4 L1370 382.4 L1367 382.4 L1364 382.4 L1361 382.4 L1358 382.4 L1355 382.4 L1352 382.4 L1349 382.4 L1346 382.4 L1343 382.4 L1340 382.4 L1337 382.4 L1334 382.4 L1331 382.4 L1328 382.4 L1325 382.4 L1322 382.4 L1319 382.4 L1316 382.4 L1313 382.4 L1310 382.4 L1307 382.4 L1304 382.4 L1301 382.4 L1298 382.4 L1295 382.4 L1292 382.4 L1289 382.4 L1286 382.4 L1283 382.4 L1280 382.4 L1277 382.4 L1274 382.4 L1271 382.4 L1268 382.4 L1265 382.4 L1262 382.4 L1259 382.4 L1256 382.4 L1253 382.4 L1250 382.4 L1247 382.4 L1244 382.4 L1241 382.4 L1238 382.4 L1235 382.4 L1232 382.4 L1229 382.4 L1226 382.4 L1223 382.4 L1220 382.4 L1217 382.4 L1214 382.4 L1211 382.4 L1208 382.4 L1205 382.4 L1202 382.4 L1199 382.4 L1196 382.4 L1193 382.4 L1190 382.4 L1187 382.4 L1184 382.4 L1181 382.4 L1178 382.4 L1175 382.4 L1172 382.4 L1169 382.4 L1166 382.4 L1163 382.4 L1160 382.4 L1157 382.4 L1154 382.4 L1151 382.4 L1148 382.4 L1145 382.4 L1142 382.4 L1139 382.4 L1136 382.4 L1133 382.4 L1130 382.4 L1127 382.4 L1124 382.4 L1121 382.4 L1118 382.4 L1115 382.4 L1112 382.4 L1109 382.4 L1106 382.4 L1103 382.4 L1100 382.4 L1097 382.4 L1094 382.4 L1091 382.4 L1088 382.4 L1085 382.4 L1082 382.4 L1079 382.4 L1076 382.4 L1073 382.4 L1070 382.4 Z" fill="url(#cylT)"/>
<path d="M1070 382.4 L1073 385.7 L1076 385.9 L1079 386.1 L1082 386.4 L1085 386.5 L1088 386.6 L1091 386.8 L1094 386.9 L1097 387 L1100 387.2 L1103 387.3 L1106 387.4 L1109 387.6 L1112 387.7 L1115 387.8 L1118 387.8 L1121 387.8 L1124 387.9 L1127 387.9 L1130 387.9 L1133 387.9 L1136 388 L1139 388 L1142 388 L1145 388 L1148 388.1 L1151 388.1 L1154 388.1 L1157 388.1 L1160 388.2 L1163 388.2 L1166 388.2 L1169 388.2 L1172 388.2 L1175 388.3 L1178 388.3 L1181 388.3 L1184 388.3 L1187 388.4 L1190 388.4 L1193 388.4 L1196 388.4 L1199 388.5 L1202 388.5 L1205 388.9 L1208 389.4 L1211 390 L1214 390.1 L1217 390.1 L1220 390.2 L1223 390.2 L1226 390.2 L1229 390.2 L1232 390.2 L1235 390.2 L1238 390.2 L1241 390.2 L1244 390.2 L1247 390.2 L1250 390.2 L1253 390.2 L1256 390.2 L1259 390.2 L1262 390.2 L1265 390.2 L1268 390.2 L1271 390.2 L1274 390.2 L1277 390.2 L1280 390.2 L1283 390.2 L1286 390.2 L1289 390.2 L1292 390.2 L1295 390.2 L1298 390.2 L1301 390.2 L1304 390.2 L1307 390.2 L1310 390.2 L1313 390.2 L1316 390.2 L1319 390.2 L1322 390.2 L1325 390.2 L1328 390.2 L1331 390.2 L1334 390.2 L1337 390.2 L1340 390.2 L1343 390.2 L1346 390.2 L1349 390.2 L1352 390.2 L1355 390.2 L1358 390.2 L1361 390.2 L1364 390.2 L1367 390.2 L1370 390.2 L1373 390.2 L1376 390.2 L1379 390.2 L1382 390.2 L1385 390.2 L1388 390.3 L1391 390.3 L1394 390.3 L1397 390.3 L1400 390.3 L1403 390.3 L1406 390.3 L1409 390.3 L1412 390.3 L1415 390.3 L1418 390.3 L1421 390.3 L1424 390.3 L1427 390.3 L1430 390.3 L1433 390.3 L1436 390.3 L1439 390.3 L1442 390.3 L1445 390.3 L1448 390.3 L1451 390.3 L1454 390.3 L1457 390.3 L1460 390.3 L1463 390.3 L1466 390.3 L1469 390.3 L1472 390.3 L1475 390.3 L1478 390.3 L1481 390.3 L1484 390.3 L1487 390.3 L1490 390.3 L1493 390.3 L1496 390.3 L1499 390.3 L1502 390.3 L1505 390.3 L1508 390.3 L1511 390.3 L1514 390.3 L1517 390.3 L1520 390.3 L1523 390.3 L1526 390.3 L1529 390.3 L1532 390.3 L1535 390.3 L1538 390.3 L1541 390.3 L1544 390.3 L1547 390.3 L1550 390.3 L1553 390.3 L1556 390.4 L1559 390.4 L1562 390.4 L1565 390.4 L1568 390.4 L1571 390.4 L1574 390.4 L1577 390.4 L1580 390.4 L1583 390.4 L1586 390.4 L1589 390.4 L1592 390.4 L1595 390.4 L1598 390.4 L1601 390.4 L1604 390.3 L1607 389.3 L1610 386.2 L1611 382.4 L1611 382.4 L1610 382.4 L1607 382.4 L1604 382.4 L1601 382.4 L1598 382.4 L1595 382.4 L1592 382.4 L1589 382.4 L1586 382.4 L1583 382.4 L1580 382.4 L1577 382.4 L1574 382.4 L1571 382.4 L1568 382.4 L1565 382.4 L1562 382.4 L1559 382.4 L1556 382.4 L1553 382.4 L1550 382.4 L1547 382.4 L1544 382.4 L1541 382.4 L1538 382.4 L1535 382.4 L1532 382.4 L1529 382.4 L1526 382.4 L1523 382.4 L1520 382.4 L1517 382.4 L1514 382.4 L1511 382.4 L1508 382.4 L1505 382.4 L1502 382.4 L1499 382.4 L1496 382.4 L1493 382.4 L1490 382.4 L1487 382.4 L1484 382.4 L1481 382.4 L1478 382.4 L1475 382.4 L1472 382.4 L1469 382.4 L1466 382.4 L1463 382.4 L1460 382.4 L1457 382.4 L1454 382.4 L1451 382.4 L1448 382.4 L1445 382.4 L1442 382.4 L1439 382.4 L1436 382.4 L1433 382.4 L1430 382.4 L1427 382.4 L1424 382.4 L1421 382.4 L1418 382.4 L1415 382.4 L1412 382.4 L1409 382.4 L1406 382.4 L1403 382.4 L1400 382.4 L1397 382.4 L1394 382.4 L1391 382.4 L1388 382.4 L1385 382.4 L1382 382.4 L1379 382.4 L1376 382.4 L1373 382.4 L1370 382.4 L1367 382.4 L1364 382.4 L1361 382.4 L1358 382.4 L1355 382.4 L1352 382.4 L1349 382.4 L1346 382.4 L1343 382.4 L1340 382.4 L1337 382.4 L1334 382.4 L1331 382.4 L1328 382.4 L1325 382.4 L1322 382.4 L1319 382.4 L1316 382.4 L1313 382.4 L1310 382.4 L1307 382.4 L1304 382.4 L1301 382.4 L1298 382.4 L1295 382.4 L1292 382.4 L1289 382.4 L1286 382.4 L1283 382.4 L1280 382.4 L1277 382.4 L1274 382.4 L1271 382.4 L1268 382.4 L1265 382.4 L1262 382.4 L1259 382.4 L1256 382.4 L1253 382.4 L1250 382.4 L1247 382.4 L1244 382.4 L1241 382.4 L1238 382.4 L1235 382.4 L1232 382.4 L1229 382.4 L1226 382.4 L1223 382.4 L1220 382.4 L1217 382.4 L1214 382.4 L1211 382.4 L1208 382.4 L1205 382.4 L1202 382.4 L1199 382.4 L1196 382.4 L1193 382.4 L1190 382.4 L1187 382.4 L1184 382.4 L1181 382.4 L1178 382.4 L1175 382.4 L1172 382.4 L1169 382.4 L1166 382.4 L1163 382.4 L1160 382.4 L1157 382.4 L1154 382.4 L1151 382.4 L1148 382.4 L1145 382.4 L1142 382.4 L1139 382.4 L1136 382.4 L1133 382.4 L1130 382.4 L1127 382.4 L1124 382.4 L1121 382.4 L1118 382.4 L1115 382.4 L1112 382.4 L1109 382.4 L1106 382.4 L1103 382.4 L1100 382.4 L1097 382.4 L1094 382.4 L1091 382.4 L1088 382.4 L1085 382.4 L1082 382.4 L1079 382.4 L1076 382.4 L1073 382.4 L1070 382.4 Z" fill="#2ef3e6"/><path d="M1070 382.4 L1073 385.7 L1076 385.9 L1079 386.1 L1082 386.4 L1085 386.5 L1088 386.6 L1091 386.8 L1094 386.9 L1097 387 L1100 387.2 L1103 387.3 L1106 387.4 L1109 387.6 L1112 387.7 L1115 387.8 L1118 387.8 L1121 387.8 L1124 387.9 L1127 387.9 L1130 387.9 L1133 387.9 L1136 388 L1139 388 L1142 388 L1145 388 L1148 388.1 L1151 388.1 L1154 388.1 L1157 388.1 L1160 388.2 L1163 388.2 L1166 388.2 L1169 388.2 L1172 388.2 L1175 388.3 L1178 388.3 L1181 388.3 L1184 388.3 L1187 388.4 L1190 388.4 L1193 388.4 L1196 388.4 L1199 388.5 L1202 388.5 L1205 388.9 L1208 389.4 L1211 390 L1214 390.1 L1217 390.1 L1220 390.2 L1223 390.2 L1226 390.2 L1229 390.2 L1232 390.2 L1235 390.2 L1238 390.2 L1241 390.2 L1244 390.2 L1247 390.2 L1250 390.2 L1253 390.2 L1256 390.2 L1259 390.2 L1262 390.2 L1265 390.2 L1268 390.2 L1271 390.2 L1274 390.2 L1277 390.2 L1280 390.2 L1283 390.2 L1286 390.2 L1289 390.2 L1292 390.2 L1295 390.2 L1298 390.2 L1301 390.2 L1304 390.2 L1307 390.2 L1310 390.2 L1313 390.2 L1316 390.2 L1319 390.2 L1322 390.2 L1325 390.2 L1328 390.2 L1331 390.2 L1334 390.2 L1337 390.2 L1340 390.2 L1343 390.2 L1346 390.2 L1349 390.2 L1352 390.2 L1355 390.2 L1358 390.2 L1361 390.2 L1364 390.2 L1367 390.2 L1370 390.2 L1373 390.2 L1376 390.2 L1379 390.2 L1382 390.2 L1385 390.2 L1388 390.3 L1391 390.3 L1394 390.3 L1397 390.3 L1400 390.3 L1403 390.3 L1406 390.3 L1409 390.3 L1412 390.3 L1415 390.3 L1418 390.3 L1421 390.3 L1424 390.3 L1427 390.3 L1430 390.3 L1433 390.3 L1436 390.3 L1439 390.3 L1442 390.3 L1445 390.3 L1448 390.3 L1451 390.3 L1454 390.3 L1457 390.3 L1460 390.3 L1463 390.3 L1466 390.3 L1469 390.3 L1472 390.3 L1475 390.3 L1478 390.3 L1481 390.3 L1484 390.3 L1487 390.3 L1490 390.3 L1493 390.3 L1496 390.3 L1499 390.3 L1502 390.3 L1505 390.3 L1508 390.3 L1511 390.3 L1514 390.3 L1517 390.3 L1520 390.3 L1523 390.3 L1526 390.3 L1529 390.3 L1532 390.3 L1535 390.3 L1538 390.3 L1541 390.3 L1544 390.3 L1547 390.3 L1550 390.3 L1553 390.3 L1556 390.4 L1559 390.4 L1562 390.4 L1565 390.4 L1568 390.4 L1571 390.4 L1574 390.4 L1577 390.4 L1580 390.4 L1583 390.4 L1586 390.4 L1589 390.4 L1592 390.4 L1595 390.4 L1598 390.4 L1601 390.4 L1604 390.3 L1607 389.3 L1610 386.2 L1611 382.4 L1611 382.4 L1610 382.4 L1607 382.4 L1604 382.4 L1601 382.4 L1598 382.4 L1595 382.4 L1592 382.4 L1589 382.4 L1586 382.4 L1583 382.4 L1580 382.4 L1577 382.4 L1574 382.4 L1571 382.4 L1568 382.4 L1565 382.4 L1562 382.4 L1559 382.4 L1556 382.4 L1553 382.4 L1550 382.4 L1547 382.4 L1544 382.4 L1541 382.4 L1538 382.4 L1535 382.4 L1532 382.4 L1529 382.4 L1526 382.4 L1523 382.4 L1520 382.4 L1517 382.4 L1514 382.4 L1511 382.4 L1508 382.4 L1505 382.4 L1502 382.4 L1499 382.4 L1496 382.4 L1493 382.4 L1490 382.4 L1487 382.4 L1484 382.4 L1481 382.4 L1478 382.4 L1475 382.4 L1472 382.4 L1469 382.4 L1466 382.4 L1463 382.4 L1460 382.4 L1457 382.4 L1454 382.4 L1451 382.4 L1448 382.4 L1445 382.4 L1442 382.4 L1439 382.4 L1436 382.4 L1433 382.4 L1430 382.4 L1427 382.4 L1424 382.4 L1421 382.4 L1418 382.4 L1415 382.4 L1412 382.4 L1409 382.4 L1406 382.4 L1403 382.4 L1400 382.4 L1397 382.4 L1394 382.4 L1391 382.4 L1388 382.4 L1385 382.4 L1382 382.4 L1379 382.4 L1376 382.4 L1373 382.4 L1370 382.4 L1367 382.4 L1364 382.4 L1361 382.4 L1358 382.4 L1355 382.4 L1352 382.4 L1349 382.4 L1346 382.4 L1343 382.4 L1340 382.4 L1337 382.4 L1334 382.4 L1331 382.4 L1328 382.4 L1325 382.4 L1322 382.4 L1319 382.4 L1316 382.4 L1313 382.4 L1310 382.4 L1307 382.4 L1304 382.4 L1301 382.4 L1298 382.4 L1295 382.4 L1292 382.4 L1289 382.4 L1286 382.4 L1283 382.4 L1280 382.4 L1277 382.4 L1274 382.4 L1271 382.4 L1268 382.4 L1265 382.4 L1262 382.4 L1259 382.4 L1256 382.4 L1253 382.4 L1250 382.4 L1247 382.4 L1244 382.4 L1241 382.4 L1238 382.4 L1235 382.4 L1232 382.4 L1229 382.4 L1226 382.4 L1223 382.4 L1220 382.4 L1217 382.4 L1214 382.4 L1211 382.4 L1208 382.4 L1205 382.4 L1202 382.4 L1199 382.4 L1196 382.4 L1193 382.4 L1190 382.4 L1187 382.4 L1184 382.4 L1181 382.4 L1178 382.4 L1175 382.4 L1172 382.4 L1169 382.4 L1166 382.4 L1163 382.4 L1160 382.4 L1157 382.4 L1154 382.4 L1151 382.4 L1148 382.4 L1145 382.4 L1142 382.4 L1139 382.4 L1136 382.4 L1133 382.4 L1130 382.4 L1127 382.4 L1124 382.4 L1121 382.4 L1118 382.4 L1115 382.4 L1112 382.4 L1109 382.4 L1106 382.4 L1103 382.4 L1100 382.4 L1097 382.4 L1094 382.4 L1091 382.4 L1088 382.4 L1085 382.4 L1082 382.4 L1079 382.4 L1076 382.4 L1073 382.4 L1070 382.4 Z" fill="url(#cylB)"/>
<line x1="993" y1="323" x2="993" y2="605" stroke="#333" stroke-width="1.5"/>
<line x1="993" y1="605" x2="1565.5" y2="605" stroke="#222" stroke-width="1.6"/>
<line x1="987" y1="323" x2="993" y2="323" stroke="#333" stroke-width="1.5"/>
<text x="983" y="332.3" text-anchor="end" font-size="27">100</text>
<line x1="987" y1="393.5" x2="993" y2="393.5" stroke="#333" stroke-width="1.5"/>
<text x="983" y="402.8" text-anchor="end" font-size="27">50</text>
<line x1="987" y1="464" x2="993" y2="464" stroke="#333" stroke-width="1.5"/>
<text x="983" y="473.3" text-anchor="end" font-size="27">0</text>
<line x1="987" y1="534.5" x2="993" y2="534.5" stroke="#333" stroke-width="1.5"/>
<text x="983" y="543.8" text-anchor="end" font-size="27">-50</text>
<line x1="987" y1="605" x2="993" y2="605" stroke="#333" stroke-width="1.5"/>
<text x="983" y="614.3" text-anchor="end" font-size="27">-100</text>
<line x1="993" y1="605" x2="993" y2="612" stroke="#222" stroke-width="1.5"/>
<text x="993" y="640.3" text-anchor="middle" font-size="27">0</text>
<line x1="1072.1" y1="605" x2="1072.1" y2="612" stroke="#222" stroke-width="1.5"/>
<text x="1072.1" y="640.3" text-anchor="middle" font-size="27">5</text>
<line x1="1151.1" y1="605" x2="1151.1" y2="612" stroke="#222" stroke-width="1.5"/>
<text x="1151.1" y="640.3" text-anchor="middle" font-size="27">10</text>
<line x1="1230.2" y1="605" x2="1230.2" y2="612" stroke="#222" stroke-width="1.5"/>
<text x="1230.2" y="640.3" text-anchor="middle" font-size="27">15</text>
<line x1="1309.3" y1="605" x2="1309.3" y2="612" stroke="#222" stroke-width="1.5"/>
<text x="1309.3" y="640.3" text-anchor="middle" font-size="27">20</text>
<line x1="1388.4" y1="605" x2="1388.4" y2="612" stroke="#222" stroke-width="1.5"/>
<text x="1388.4" y="640.3" text-anchor="middle" font-size="27">25</text>
<line x1="1467.4" y1="605" x2="1467.4" y2="612" stroke="#222" stroke-width="1.5"/>
<text x="1467.4" y="640.3" text-anchor="middle" font-size="27">30</text>
<line x1="1546.5" y1="605" x2="1546.5" y2="612" stroke="#222" stroke-width="1.5"/>
<text x="1546.5" y="640.3" text-anchor="middle" font-size="27">35</text>
<line x1="1605.4" y1="513.5" x2="1611.4" y2="513.5" stroke="#222" stroke-width="1.2"/>
<text x="1613.4" y="522.1" font-size="26">SW</text>
<line x1="1670.5" y1="364.2" x2="1676.5" y2="364.2" stroke="#222" stroke-width="1.2"/>
<text x="1678.5" y="372.6" font-size="22.5">Rim</text>
<line x1="1721.5" y1="247.3" x2="1727.5" y2="247.3" stroke="#222" stroke-width="1.2"/>
<text x="1729.5" y="255.1" font-size="20.5">Web</text>
<text x="1235.8" y="670.2" font-size="28">Time(s)</text>
<text x="1278.4" y="714" text-anchor="middle" font-size="41">(b)</text>
<text transform="translate(922.6,462.3) rotate(-90)" text-anchor="middle" font-size="27.6">Wheel lateral acceleration(m/s<tspan dy="-11.5" font-size="19">2</tspan><tspan dy="11.5">)</tspan></text>
<rect x="993" y="347" width="33.5" height="25.2" fill="#FF0000"/>
<rect x="993" y="371.6" width="33.5" height="25.2" fill="#FF4000"/>
<rect x="993" y="396.1" width="33.5" height="25.2" fill="#FFA000"/>
<rect x="993" y="420.7" width="33.5" height="25.2" fill="#B0EC00"/>
<rect x="993" y="445.2" width="33.5" height="25.2" fill="#00F000"/>
<rect x="993" y="469.8" width="33.5" height="25.2" fill="#00F0E0"/>
<rect x="993" y="494.4" width="33.5" height="25.2" fill="#00A0F0"/>
<rect x="993" y="518.9" width="33.5" height="25.2" fill="#2050F0"/>
<rect x="993" y="543.5" width="33.5" height="25.2" fill="#5000F0"/>
<rect x="993" y="568" width="33.5" height="25.2" fill="#9000F0"/>
<rect x="993" y="347" width="33.5" height="245.6" fill="none" stroke="#555" stroke-width="0.8"/>
<line x1="1026.5" y1="347" x2="1035.5" y2="347" stroke="#444" stroke-width="1.2"/>
<text x="1043.5" y="356.3" font-size="27">50</text>
<line x1="1026.5" y1="396.1" x2="1035.5" y2="396.1" stroke="#444" stroke-width="1.2"/>
<text x="1043.5" y="405.4" font-size="27">30</text>
<line x1="1026.5" y1="445.2" x2="1035.5" y2="445.2" stroke="#444" stroke-width="1.2"/>
<text x="1043.5" y="454.5" font-size="27">10</text>
<line x1="1026.5" y1="494.4" x2="1035.5" y2="494.4" stroke="#444" stroke-width="1.2"/>
<text x="1043.5" y="503.7" font-size="27">-10</text>
<line x1="1026.5" y1="543.5" x2="1035.5" y2="543.5" stroke="#444" stroke-width="1.2"/>
<text x="1043.5" y="552.8" font-size="27">-30</text>
<line x1="1026.5" y1="592.6" x2="1035.5" y2="592.6" stroke="#444" stroke-width="1.2"/>
<text x="1043.5" y="601.9" font-size="27">-50</text></svg>
</body></html>
